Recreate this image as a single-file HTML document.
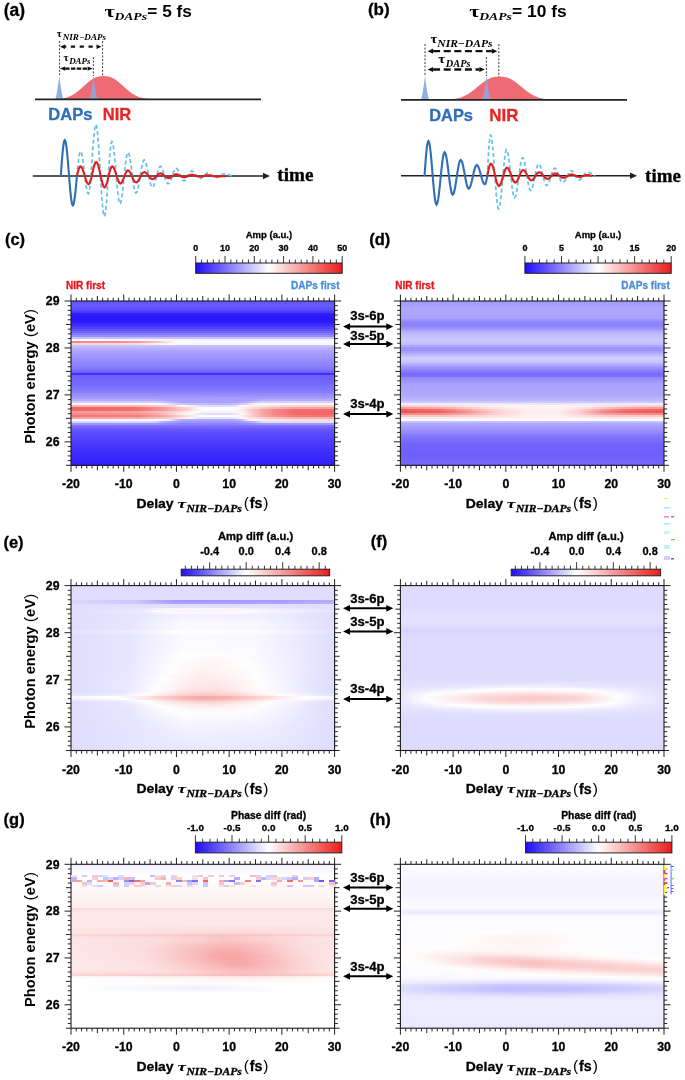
<!DOCTYPE html>
<html><head><meta charset="utf-8"><title>figure</title>
<style>html,body{margin:0;padding:0;background:#fff;}svg{display:block;filter:blur(0.5px);font-family:"Liberation Sans",sans-serif;}</style>
</head><body>
<svg width="685" height="1080" viewBox="0 0 685 1080" font-family="Liberation Sans" font-weight="bold"><defs><linearGradient id="g1"><stop offset="0%" stop-color="#fcfbff"/><stop offset="35%" stop-color="#f7f6ff"/><stop offset="52.5%" stop-color="#f3f2ff"/><stop offset="100%" stop-color="#f3f2ff"/></linearGradient><linearGradient id="g2"><stop offset="0%" stop-color="#f58888"/><stop offset="22.5%" stop-color="#f69494"/><stop offset="25%" stop-color="#f69999"/><stop offset="32.5%" stop-color="#fabebe"/><stop offset="35%" stop-color="#fbd0d0"/><stop offset="37.5%" stop-color="#fdeaea"/><stop offset="40%" stop-color="#fbfaff"/><stop offset="100%" stop-color="#fbfaff"/></linearGradient><linearGradient id="g3"><stop offset="0%" stop-color="#fcd7d7"/><stop offset="25%" stop-color="#fcdede"/><stop offset="35%" stop-color="#fef3f3"/><stop offset="37.5%" stop-color="#fffdfd"/><stop offset="40%" stop-color="#f7f7ff"/><stop offset="100%" stop-color="#f7f7ff"/></linearGradient><linearGradient id="g4"><stop offset="0%" stop-color="#b3acfd"/><stop offset="32.5%" stop-color="#b1aafd"/><stop offset="37.5%" stop-color="#a7a0fd"/><stop offset="65%" stop-color="#a69efd"/><stop offset="70%" stop-color="#aba3fd"/><stop offset="72.5%" stop-color="#b3adfd"/><stop offset="100%" stop-color="#b4adfd"/></linearGradient><linearGradient id="g5"><stop offset="0%" stop-color="#d0ccfe"/><stop offset="32.5%" stop-color="#cecafe"/><stop offset="42.5%" stop-color="#aaa2fd"/><stop offset="62.5%" stop-color="#a9a2fd"/><stop offset="65%" stop-color="#afa8fd"/><stop offset="72.5%" stop-color="#d2cefe"/><stop offset="100%" stop-color="#d4d0fe"/></linearGradient><linearGradient id="g6"><stop offset="0%" stop-color="#fef4f4"/><stop offset="30%" stop-color="#fef6f6"/><stop offset="32.5%" stop-color="#fffafa"/><stop offset="35%" stop-color="#f2f1ff"/><stop offset="40%" stop-color="#d3cffe"/><stop offset="45%" stop-color="#c0bbfe"/><stop offset="60%" stop-color="#bdb7fe"/><stop offset="62.5%" stop-color="#c0bafe"/><stop offset="67.5%" stop-color="#dfdcfe"/><stop offset="70%" stop-color="#f5f4ff"/><stop offset="72.5%" stop-color="#fef7f7"/><stop offset="97.5%" stop-color="#fef0f0"/><stop offset="100%" stop-color="#fef0f0"/></linearGradient><linearGradient id="g7"><stop offset="0%" stop-color="#f9b3b3"/><stop offset="25%" stop-color="#f9b9b9"/><stop offset="37.5%" stop-color="#fbd5d5"/><stop offset="40%" stop-color="#fde3e3"/><stop offset="42.5%" stop-color="#fffbfb"/><stop offset="50%" stop-color="#dfdcfe"/><stop offset="60%" stop-color="#dfdcfe"/><stop offset="62.5%" stop-color="#e4e1fe"/><stop offset="65%" stop-color="#fefeff"/><stop offset="67.5%" stop-color="#fef0f0"/><stop offset="80%" stop-color="#fcd8d8"/><stop offset="100%" stop-color="#fbd1d1"/></linearGradient><linearGradient id="g8"><stop offset="0%" stop-color="#f26565"/><stop offset="22.5%" stop-color="#f36c6c"/><stop offset="27.5%" stop-color="#f47a7a"/><stop offset="35%" stop-color="#f69999"/><stop offset="45%" stop-color="#fcd8d8"/><stop offset="50%" stop-color="#ffffff"/><stop offset="62.5%" stop-color="#fffcfc"/><stop offset="75%" stop-color="#f9bdbd"/><stop offset="85%" stop-color="#f7a5a5"/><stop offset="100%" stop-color="#f7a1a1"/></linearGradient><linearGradient id="g9"><stop offset="0%" stop-color="#f26565"/><stop offset="22.5%" stop-color="#f36c6c"/><stop offset="27.5%" stop-color="#f47a7a"/><stop offset="35%" stop-color="#f69999"/><stop offset="45%" stop-color="#fcd8d8"/><stop offset="50%" stop-color="#ffffff"/><stop offset="60%" stop-color="#ffffff"/><stop offset="62.5%" stop-color="#fffbfb"/><stop offset="72.5%" stop-color="#f8a8a8"/><stop offset="77.5%" stop-color="#f58787"/><stop offset="85%" stop-color="#f36e6e"/><stop offset="100%" stop-color="#f26767"/></linearGradient><linearGradient id="g10"><stop offset="0%" stop-color="#f69898"/><stop offset="25%" stop-color="#f7a0a0"/><stop offset="35%" stop-color="#fabebe"/><stop offset="47.5%" stop-color="#ffffff"/><stop offset="50%" stop-color="#f3f2ff"/><stop offset="60%" stop-color="#f3f2ff"/><stop offset="62.5%" stop-color="#f8f7ff"/><stop offset="65%" stop-color="#fdeded"/><stop offset="72.5%" stop-color="#f8a6a6"/><stop offset="77.5%" stop-color="#f58585"/><stop offset="85%" stop-color="#f36c6c"/><stop offset="100%" stop-color="#f26565"/></linearGradient><linearGradient id="g11"><stop offset="0%" stop-color="#f58a8a"/><stop offset="25%" stop-color="#f69393"/><stop offset="32.5%" stop-color="#f8aaaa"/><stop offset="42.5%" stop-color="#fef0f0"/><stop offset="45%" stop-color="#fdfdff"/><stop offset="50%" stop-color="#e0defe"/><stop offset="60%" stop-color="#e0defe"/><stop offset="62.5%" stop-color="#e6e4fe"/><stop offset="65%" stop-color="#fffafa"/><stop offset="72.5%" stop-color="#f8a6a6"/><stop offset="77.5%" stop-color="#f58585"/><stop offset="85%" stop-color="#f36c6c"/><stop offset="100%" stop-color="#f26565"/></linearGradient><linearGradient id="g12"><stop offset="0%" stop-color="#f37373"/><stop offset="25%" stop-color="#f47d7d"/><stop offset="35%" stop-color="#f7a3a3"/><stop offset="47.5%" stop-color="#feefef"/><stop offset="50%" stop-color="#fefeff"/><stop offset="62.5%" stop-color="#fffcfc"/><stop offset="72.5%" stop-color="#f8afaf"/><stop offset="77.5%" stop-color="#f69292"/><stop offset="85%" stop-color="#f47b7b"/><stop offset="100%" stop-color="#f37575"/></linearGradient><linearGradient id="g13"><stop offset="0%" stop-color="#f7a1a1"/><stop offset="25%" stop-color="#f8a8a8"/><stop offset="37.5%" stop-color="#fbcaca"/><stop offset="42.5%" stop-color="#fde9e9"/><stop offset="45%" stop-color="#fafaff"/><stop offset="50%" stop-color="#e3e1fe"/><stop offset="60%" stop-color="#e3e1fe"/><stop offset="62.5%" stop-color="#eeecff"/><stop offset="65%" stop-color="#fef7f7"/><stop offset="67.5%" stop-color="#fde5e5"/><stop offset="77.5%" stop-color="#fabfbf"/><stop offset="85%" stop-color="#f9b2b2"/><stop offset="100%" stop-color="#f8aeae"/></linearGradient><linearGradient id="g14"><stop offset="0%" stop-color="#fef7f7"/><stop offset="32.5%" stop-color="#fffafa"/><stop offset="35%" stop-color="#fbfbff"/><stop offset="37.5%" stop-color="#e9e7ff"/><stop offset="40%" stop-color="#c5c0fe"/><stop offset="42.5%" stop-color="#b2abfd"/><stop offset="50%" stop-color="#aca4fd"/><stop offset="62.5%" stop-color="#aea7fd"/><stop offset="65%" stop-color="#c3bdfe"/><stop offset="67.5%" stop-color="#f1f0ff"/><stop offset="70%" stop-color="#fef6f6"/><stop offset="72.5%" stop-color="#fdeaea"/><stop offset="85%" stop-color="#fcdcdc"/><stop offset="100%" stop-color="#fcdada"/></linearGradient><linearGradient id="g15"><stop offset="0%" stop-color="#d8d5fe"/><stop offset="30%" stop-color="#d8d5fe"/><stop offset="32.5%" stop-color="#d1cdfe"/><stop offset="35%" stop-color="#b2abfd"/><stop offset="42.5%" stop-color="#9e95fd"/><stop offset="62.5%" stop-color="#9c94fd"/><stop offset="67.5%" stop-color="#ada6fd"/><stop offset="70%" stop-color="#bcb6fe"/><stop offset="72.5%" stop-color="#dfdcfe"/><stop offset="100%" stop-color="#e5e2fe"/></linearGradient><linearGradient id="g16"><stop offset="0%" stop-color="#9e96fd"/><stop offset="32.5%" stop-color="#9d94fd"/><stop offset="42.5%" stop-color="#8c82fc"/><stop offset="62.5%" stop-color="#8b81fc"/><stop offset="70%" stop-color="#9990fd"/><stop offset="72.5%" stop-color="#a098fd"/><stop offset="100%" stop-color="#a29afd"/></linearGradient><linearGradient id="g17"><stop offset="0%" stop-color="#f1efff"/><stop offset="57.5%" stop-color="#e8e6fe"/><stop offset="100%" stop-color="#f1efff"/></linearGradient><linearGradient id="g18"><stop offset="0%" stop-color="#fbd1d1"/><stop offset="17.5%" stop-color="#fcdddd"/><stop offset="37.5%" stop-color="#fef2f2"/><stop offset="65%" stop-color="#fef3f3"/><stop offset="92.5%" stop-color="#fbd5d5"/><stop offset="100%" stop-color="#fbd1d1"/></linearGradient><linearGradient id="g19"><stop offset="0%" stop-color="#f69797"/><stop offset="15%" stop-color="#f8a8a8"/><stop offset="32.5%" stop-color="#fcdfdf"/><stop offset="42.5%" stop-color="#feefef"/><stop offset="60%" stop-color="#fef3f3"/><stop offset="70%" stop-color="#fce0e0"/><stop offset="82.5%" stop-color="#f9b2b2"/><stop offset="90%" stop-color="#f7a2a2"/><stop offset="100%" stop-color="#f69797"/></linearGradient><linearGradient id="g20"><stop offset="0%" stop-color="#f15b5b"/><stop offset="15%" stop-color="#f36f6f"/><stop offset="32.5%" stop-color="#fac7c7"/><stop offset="40%" stop-color="#fde2e2"/><stop offset="50%" stop-color="#fef0f0"/><stop offset="60%" stop-color="#fef0f0"/><stop offset="67.5%" stop-color="#fcd8d8"/><stop offset="77.5%" stop-color="#f69696"/><stop offset="85%" stop-color="#f37373"/><stop offset="100%" stop-color="#f15b5b"/></linearGradient><linearGradient id="g21"><stop offset="0%" stop-color="#f15454"/><stop offset="15%" stop-color="#f26060"/><stop offset="20%" stop-color="#f47676"/><stop offset="37.5%" stop-color="#fbd2d2"/><stop offset="47.5%" stop-color="#fdeded"/><stop offset="60%" stop-color="#feeeee"/><stop offset="67.5%" stop-color="#fbcece"/><stop offset="77.5%" stop-color="#f58585"/><stop offset="85%" stop-color="#f26565"/><stop offset="100%" stop-color="#f15454"/></linearGradient><linearGradient id="g22"><stop offset="0%" stop-color="#f58a8a"/><stop offset="15%" stop-color="#f58c8c"/><stop offset="25%" stop-color="#f8a8a8"/><stop offset="40%" stop-color="#fcdddd"/><stop offset="47.5%" stop-color="#feeded"/><stop offset="60%" stop-color="#feeeee"/><stop offset="67.5%" stop-color="#fbd5d5"/><stop offset="77.5%" stop-color="#f7a1a1"/><stop offset="87.5%" stop-color="#f68e8e"/><stop offset="100%" stop-color="#f58a8a"/></linearGradient><linearGradient id="g23"><stop offset="0%" stop-color="#fac8c8"/><stop offset="17.5%" stop-color="#fac7c7"/><stop offset="50%" stop-color="#fef1f1"/><stop offset="60%" stop-color="#fef2f2"/><stop offset="80%" stop-color="#fbcbcb"/><stop offset="100%" stop-color="#fac8c8"/></linearGradient><linearGradient id="g24"><stop offset="0%" stop-color="#fdeaea"/><stop offset="32.5%" stop-color="#fdeded"/><stop offset="57.5%" stop-color="#fef4f4"/><stop offset="85%" stop-color="#fde9e9"/><stop offset="100%" stop-color="#fdeaea"/></linearGradient><linearGradient id="g25"><stop offset="0%" stop-color="#d9d6fe"/><stop offset="25%" stop-color="#cac5fe"/><stop offset="37.5%" stop-color="#a69efd"/><stop offset="42.5%" stop-color="#a198fd"/><stop offset="77.5%" stop-color="#a49cfd"/><stop offset="100%" stop-color="#b4adfd"/></linearGradient><linearGradient id="g26"><stop offset="0%" stop-color="#dad7fe"/><stop offset="25%" stop-color="#cdc8fe"/><stop offset="40%" stop-color="#a9a1fd"/><stop offset="77.5%" stop-color="#aca5fd"/><stop offset="100%" stop-color="#b9b3fd"/></linearGradient><linearGradient id="g27"><stop offset="0%" stop-color="#e0ddfe"/><stop offset="65%" stop-color="#e5e3fe"/><stop offset="100%" stop-color="#e0defe"/></linearGradient><linearGradient id="g28"><stop offset="0%" stop-color="#e0ddfe"/><stop offset="27.5%" stop-color="#e8e6fe"/><stop offset="37.5%" stop-color="#f8f7ff"/><stop offset="62.5%" stop-color="#f6f5ff"/><stop offset="77.5%" stop-color="#ebe9ff"/><stop offset="100%" stop-color="#e4e2fe"/></linearGradient><linearGradient id="g29"><stop offset="0%" stop-color="#e0ddfe"/><stop offset="27.5%" stop-color="#edecff"/><stop offset="32.5%" stop-color="#fdfdff"/><stop offset="40%" stop-color="#fef3f3"/><stop offset="60%" stop-color="#fef3f3"/><stop offset="67.5%" stop-color="#fefeff"/><stop offset="75%" stop-color="#f4f3ff"/><stop offset="100%" stop-color="#e8e6fe"/></linearGradient><linearGradient id="g30"><stop offset="0%" stop-color="#e0ddfe"/><stop offset="27.5%" stop-color="#ebe9ff"/><stop offset="37.5%" stop-color="#fafaff"/><stop offset="62.5%" stop-color="#faf9ff"/><stop offset="97.5%" stop-color="#e4e2fe"/><stop offset="100%" stop-color="#e3e1fe"/></linearGradient><linearGradient id="g31"><stop offset="0%" stop-color="#e0ddfe"/><stop offset="25%" stop-color="#e7e5fe"/><stop offset="42.5%" stop-color="#f2f1ff"/><stop offset="72.5%" stop-color="#efedff"/><stop offset="100%" stop-color="#e0ddfe"/></linearGradient><linearGradient id="g32"><stop offset="0%" stop-color="#e0ddfe"/><stop offset="25%" stop-color="#e8e6fe"/><stop offset="42.5%" stop-color="#f3f2ff"/><stop offset="72.5%" stop-color="#f0efff"/><stop offset="100%" stop-color="#e0ddfe"/></linearGradient><linearGradient id="g33"><stop offset="0%" stop-color="#e0ddfe"/><stop offset="22.5%" stop-color="#e6e4fe"/><stop offset="42.5%" stop-color="#f5f5ff"/><stop offset="72.5%" stop-color="#f2f1ff"/><stop offset="100%" stop-color="#e0ddfe"/></linearGradient><linearGradient id="g34"><stop offset="0%" stop-color="#e0ddfe"/><stop offset="22.5%" stop-color="#e7e5fe"/><stop offset="42.5%" stop-color="#f8f7ff"/><stop offset="70%" stop-color="#f6f5ff"/><stop offset="100%" stop-color="#e0ddfe"/></linearGradient><linearGradient id="g35"><stop offset="0%" stop-color="#e0ddfe"/><stop offset="22.5%" stop-color="#e8e6fe"/><stop offset="42.5%" stop-color="#fafaff"/><stop offset="70%" stop-color="#f8f8ff"/><stop offset="100%" stop-color="#e0ddfe"/></linearGradient><linearGradient id="g36"><stop offset="0%" stop-color="#e0ddfe"/><stop offset="22.5%" stop-color="#e8e6fe"/><stop offset="42.5%" stop-color="#fbfaff"/><stop offset="70%" stop-color="#f9f8ff"/><stop offset="100%" stop-color="#e0ddfe"/></linearGradient><linearGradient id="g37"><stop offset="0%" stop-color="#e0ddfe"/><stop offset="22.5%" stop-color="#e8e6fe"/><stop offset="42.5%" stop-color="#fbfaff"/><stop offset="70%" stop-color="#f9f8ff"/><stop offset="100%" stop-color="#e0ddfe"/></linearGradient><linearGradient id="g38"><stop offset="0%" stop-color="#e0ddfe"/><stop offset="22.5%" stop-color="#e8e6fe"/><stop offset="42.5%" stop-color="#fbfaff"/><stop offset="70%" stop-color="#f9f8ff"/><stop offset="100%" stop-color="#e0ddfe"/></linearGradient><linearGradient id="g39"><stop offset="0%" stop-color="#e6e3fe"/><stop offset="22.5%" stop-color="#eeecff"/><stop offset="40%" stop-color="#fffefe"/><stop offset="72.5%" stop-color="#fcfcff"/><stop offset="100%" stop-color="#e6e3fe"/></linearGradient><linearGradient id="g40"><stop offset="0%" stop-color="#e5e2fe"/><stop offset="22.5%" stop-color="#edebff"/><stop offset="40%" stop-color="#fffefe"/><stop offset="72.5%" stop-color="#fbfbff"/><stop offset="100%" stop-color="#e5e2fe"/></linearGradient><linearGradient id="g41"><stop offset="0%" stop-color="#e0ddfe"/><stop offset="22.5%" stop-color="#e8e6fe"/><stop offset="42.5%" stop-color="#fbfaff"/><stop offset="70%" stop-color="#f9f8ff"/><stop offset="100%" stop-color="#e0ddfe"/></linearGradient><linearGradient id="g42"><stop offset="0%" stop-color="#e0ddfe"/><stop offset="22.5%" stop-color="#e8e6fe"/><stop offset="42.5%" stop-color="#fbfaff"/><stop offset="70%" stop-color="#f9f8ff"/><stop offset="100%" stop-color="#e0ddfe"/></linearGradient><linearGradient id="g43"><stop offset="0%" stop-color="#e0ddfe"/><stop offset="22.5%" stop-color="#e8e6fe"/><stop offset="42.5%" stop-color="#fbfaff"/><stop offset="70%" stop-color="#f9f8ff"/><stop offset="100%" stop-color="#e0ddfe"/></linearGradient><linearGradient id="g44"><stop offset="0%" stop-color="#e0ddfe"/><stop offset="22.5%" stop-color="#e8e6fe"/><stop offset="42.5%" stop-color="#fbfbff"/><stop offset="70%" stop-color="#f9f8ff"/><stop offset="100%" stop-color="#e0ddfe"/></linearGradient><linearGradient id="g45"><stop offset="0%" stop-color="#e0ddfe"/><stop offset="22.5%" stop-color="#e8e6fe"/><stop offset="42.5%" stop-color="#fbfbff"/><stop offset="70%" stop-color="#f9f8ff"/><stop offset="100%" stop-color="#e0ddfe"/></linearGradient><linearGradient id="g46"><stop offset="0%" stop-color="#e0ddfe"/><stop offset="22.5%" stop-color="#e8e6fe"/><stop offset="42.5%" stop-color="#fbfbff"/><stop offset="70%" stop-color="#f9f8ff"/><stop offset="100%" stop-color="#e0ddfe"/></linearGradient><linearGradient id="g47"><stop offset="0%" stop-color="#e0ddfe"/><stop offset="22.5%" stop-color="#e8e6fe"/><stop offset="42.5%" stop-color="#fcfcff"/><stop offset="70%" stop-color="#f9f8ff"/><stop offset="100%" stop-color="#e0ddfe"/></linearGradient><linearGradient id="g48"><stop offset="0%" stop-color="#e0ddfe"/><stop offset="22.5%" stop-color="#e8e6fe"/><stop offset="42.5%" stop-color="#fcfcff"/><stop offset="67.5%" stop-color="#fbfbff"/><stop offset="100%" stop-color="#e0ddfe"/></linearGradient><linearGradient id="g49"><stop offset="0%" stop-color="#e0ddfe"/><stop offset="22.5%" stop-color="#e8e6fe"/><stop offset="42.5%" stop-color="#fdfdff"/><stop offset="67.5%" stop-color="#fbfbff"/><stop offset="100%" stop-color="#e0ddfe"/></linearGradient><linearGradient id="g50"><stop offset="0%" stop-color="#e0ddfe"/><stop offset="22.5%" stop-color="#e8e6fe"/><stop offset="42.5%" stop-color="#fefeff"/><stop offset="67.5%" stop-color="#fcfcff"/><stop offset="100%" stop-color="#e0ddfe"/></linearGradient><linearGradient id="g51"><stop offset="0%" stop-color="#e0ddfe"/><stop offset="22.5%" stop-color="#e8e6fe"/><stop offset="42.5%" stop-color="#ffffff"/><stop offset="57.5%" stop-color="#fffdfd"/><stop offset="70%" stop-color="#faf9ff"/><stop offset="100%" stop-color="#e0ddfe"/></linearGradient><linearGradient id="g52"><stop offset="0%" stop-color="#e0ddfe"/><stop offset="22.5%" stop-color="#e8e6fe"/><stop offset="40%" stop-color="#fefeff"/><stop offset="55%" stop-color="#fffafa"/><stop offset="65%" stop-color="#fefeff"/><stop offset="100%" stop-color="#e0ddfe"/></linearGradient><linearGradient id="g53"><stop offset="0%" stop-color="#e0ddfe"/><stop offset="22.5%" stop-color="#e8e6fe"/><stop offset="40%" stop-color="#ffffff"/><stop offset="55%" stop-color="#fef8f8"/><stop offset="67.5%" stop-color="#fdfdff"/><stop offset="100%" stop-color="#e0ddfe"/></linearGradient><linearGradient id="g54"><stop offset="0%" stop-color="#e0ddfe"/><stop offset="22.5%" stop-color="#e8e6fe"/><stop offset="40%" stop-color="#fffefe"/><stop offset="55%" stop-color="#fef6f6"/><stop offset="67.5%" stop-color="#fefdff"/><stop offset="100%" stop-color="#e0ddfe"/></linearGradient><linearGradient id="g55"><stop offset="0%" stop-color="#e0ddfe"/><stop offset="22.5%" stop-color="#e8e6fe"/><stop offset="40%" stop-color="#fffdfd"/><stop offset="52.5%" stop-color="#fef4f4"/><stop offset="67.5%" stop-color="#fefeff"/><stop offset="100%" stop-color="#e0ddfe"/></linearGradient><linearGradient id="g56"><stop offset="0%" stop-color="#e0ddfe"/><stop offset="22.5%" stop-color="#e8e6fe"/><stop offset="37.5%" stop-color="#fdfdff"/><stop offset="52.5%" stop-color="#fef3f3"/><stop offset="67.5%" stop-color="#ffffff"/><stop offset="100%" stop-color="#e0ddfe"/></linearGradient><linearGradient id="g57"><stop offset="0%" stop-color="#e0ddfe"/><stop offset="22.5%" stop-color="#e8e6fe"/><stop offset="37.5%" stop-color="#fefeff"/><stop offset="52.5%" stop-color="#fef1f1"/><stop offset="67.5%" stop-color="#ffffff"/><stop offset="100%" stop-color="#e0ddfe"/></linearGradient><linearGradient id="g58"><stop offset="0%" stop-color="#e0ddfe"/><stop offset="22.5%" stop-color="#e8e6fe"/><stop offset="37.5%" stop-color="#fefeff"/><stop offset="52.5%" stop-color="#fef0f0"/><stop offset="67.5%" stop-color="#fffefe"/><stop offset="100%" stop-color="#e0ddfe"/></linearGradient><linearGradient id="g59"><stop offset="0%" stop-color="#e0ddfe"/><stop offset="22.5%" stop-color="#e9e7fe"/><stop offset="37.5%" stop-color="#ffffff"/><stop offset="50%" stop-color="#fef0f0"/><stop offset="62.5%" stop-color="#fef8f8"/><stop offset="70%" stop-color="#fdfdff"/><stop offset="100%" stop-color="#e0ddfe"/></linearGradient><linearGradient id="g60"><stop offset="0%" stop-color="#e0ddfe"/><stop offset="22.5%" stop-color="#e9e7ff"/><stop offset="37.5%" stop-color="#fffefe"/><stop offset="50%" stop-color="#feefef"/><stop offset="62.5%" stop-color="#fef7f7"/><stop offset="70%" stop-color="#fefeff"/><stop offset="97.5%" stop-color="#e1dffe"/><stop offset="100%" stop-color="#e0ddfe"/></linearGradient><linearGradient id="g61"><stop offset="0%" stop-color="#e0ddfe"/><stop offset="22.5%" stop-color="#e9e7ff"/><stop offset="35%" stop-color="#fdfcff"/><stop offset="42.5%" stop-color="#fef5f5"/><stop offset="52.5%" stop-color="#feeded"/><stop offset="70%" stop-color="#fefeff"/><stop offset="95%" stop-color="#e3e1fe"/><stop offset="100%" stop-color="#e0ddfe"/></linearGradient><linearGradient id="g62"><stop offset="0%" stop-color="#e0ddfe"/><stop offset="22.5%" stop-color="#e9e7ff"/><stop offset="35%" stop-color="#fefdff"/><stop offset="50%" stop-color="#fdeded"/><stop offset="62.5%" stop-color="#fef5f5"/><stop offset="70%" stop-color="#ffffff"/><stop offset="95%" stop-color="#e3e1fe"/><stop offset="100%" stop-color="#e0ddfe"/></linearGradient><linearGradient id="g63"><stop offset="0%" stop-color="#e0ddfe"/><stop offset="22.5%" stop-color="#e9e7ff"/><stop offset="35%" stop-color="#ffffff"/><stop offset="47.5%" stop-color="#fdecec"/><stop offset="57.5%" stop-color="#feeded"/><stop offset="70%" stop-color="#fffefe"/><stop offset="97.5%" stop-color="#e1dffe"/><stop offset="100%" stop-color="#e0ddfe"/></linearGradient><linearGradient id="g64"><stop offset="0%" stop-color="#e0ddfe"/><stop offset="22.5%" stop-color="#eae8ff"/><stop offset="35%" stop-color="#fffefe"/><stop offset="47.5%" stop-color="#fdeaea"/><stop offset="57.5%" stop-color="#fdebeb"/><stop offset="72.5%" stop-color="#fdfdff"/><stop offset="95%" stop-color="#e3e1fe"/><stop offset="100%" stop-color="#e0ddfe"/></linearGradient><linearGradient id="g65"><stop offset="0%" stop-color="#e0ddfe"/><stop offset="22.5%" stop-color="#eae8ff"/><stop offset="35%" stop-color="#fffdfd"/><stop offset="45%" stop-color="#fdebeb"/><stop offset="55%" stop-color="#fde7e7"/><stop offset="72.5%" stop-color="#fefeff"/><stop offset="92.5%" stop-color="#e5e3fe"/><stop offset="100%" stop-color="#e0ddfe"/></linearGradient><linearGradient id="g66"><stop offset="0%" stop-color="#e0ddfe"/><stop offset="22.5%" stop-color="#eae8ff"/><stop offset="32.5%" stop-color="#fdfcff"/><stop offset="37.5%" stop-color="#fef6f6"/><stop offset="50%" stop-color="#fde5e5"/><stop offset="60%" stop-color="#fdeaea"/><stop offset="72.5%" stop-color="#fffeff"/><stop offset="92.5%" stop-color="#e5e3fe"/><stop offset="100%" stop-color="#e0ddfe"/></linearGradient><linearGradient id="g67"><stop offset="0%" stop-color="#e0ddfe"/><stop offset="22.5%" stop-color="#eae8ff"/><stop offset="32.5%" stop-color="#fdfdff"/><stop offset="45%" stop-color="#fde7e7"/><stop offset="55%" stop-color="#fde3e3"/><stop offset="72.5%" stop-color="#ffffff"/><stop offset="92.5%" stop-color="#e5e3fe"/><stop offset="100%" stop-color="#e0ddfe"/></linearGradient><linearGradient id="g68"><stop offset="0%" stop-color="#e0ddfe"/><stop offset="22.5%" stop-color="#ebe9ff"/><stop offset="32.5%" stop-color="#ffffff"/><stop offset="45%" stop-color="#fde4e4"/><stop offset="55%" stop-color="#fce0e0"/><stop offset="70%" stop-color="#fef8f8"/><stop offset="72.5%" stop-color="#fffdfd"/><stop offset="95%" stop-color="#e3e1fe"/><stop offset="100%" stop-color="#e0ddfe"/></linearGradient><linearGradient id="g69"><stop offset="0%" stop-color="#e0ddfe"/><stop offset="20%" stop-color="#e7e5fe"/><stop offset="32.5%" stop-color="#fffdfd"/><stop offset="45%" stop-color="#fce0e0"/><stop offset="55%" stop-color="#fcdcdc"/><stop offset="70%" stop-color="#fef6f6"/><stop offset="75%" stop-color="#fdfdff"/><stop offset="92.5%" stop-color="#e5e3fe"/><stop offset="100%" stop-color="#e0ddfe"/></linearGradient><linearGradient id="g70"><stop offset="0%" stop-color="#e0defe"/><stop offset="20%" stop-color="#e9e7ff"/><stop offset="30%" stop-color="#fefeff"/><stop offset="45%" stop-color="#fcdada"/><stop offset="52.5%" stop-color="#fbd4d4"/><stop offset="62.5%" stop-color="#fce0e0"/><stop offset="75%" stop-color="#fffefe"/><stop offset="95%" stop-color="#e4e2fe"/><stop offset="100%" stop-color="#e1defe"/></linearGradient><linearGradient id="g71"><stop offset="0%" stop-color="#e7e5fe"/><stop offset="20%" stop-color="#f1f0ff"/><stop offset="25%" stop-color="#fcfbff"/><stop offset="27.5%" stop-color="#fffcfc"/><stop offset="42.5%" stop-color="#fbd0d0"/><stop offset="52.5%" stop-color="#fac4c4"/><stop offset="62.5%" stop-color="#fbd2d2"/><stop offset="80%" stop-color="#ffffff"/><stop offset="97.5%" stop-color="#e9e7ff"/><stop offset="100%" stop-color="#e7e5fe"/></linearGradient><linearGradient id="g72"><stop offset="0%" stop-color="#f6f5ff"/><stop offset="17.5%" stop-color="#fffdfd"/><stop offset="27.5%" stop-color="#fde7e7"/><stop offset="42.5%" stop-color="#f9b5b5"/><stop offset="50%" stop-color="#f8a8a8"/><stop offset="57.5%" stop-color="#f8adad"/><stop offset="70%" stop-color="#fbcece"/><stop offset="82.5%" stop-color="#fef1f1"/><stop offset="90%" stop-color="#fffdfd"/><stop offset="100%" stop-color="#f6f6ff"/></linearGradient><linearGradient id="g73"><stop offset="0%" stop-color="#f0efff"/><stop offset="20%" stop-color="#ffffff"/><stop offset="32.5%" stop-color="#fcdada"/><stop offset="42.5%" stop-color="#f9b8b8"/><stop offset="50%" stop-color="#f8abab"/><stop offset="57.5%" stop-color="#f8b0b0"/><stop offset="70%" stop-color="#fbd2d2"/><stop offset="82.5%" stop-color="#fef6f6"/><stop offset="87.5%" stop-color="#ffffff"/><stop offset="100%" stop-color="#f0efff"/></linearGradient><linearGradient id="g74"><stop offset="0%" stop-color="#e3e0fe"/><stop offset="20%" stop-color="#eeedff"/><stop offset="27.5%" stop-color="#ffffff"/><stop offset="42.5%" stop-color="#fbd2d2"/><stop offset="52.5%" stop-color="#fac7c7"/><stop offset="62.5%" stop-color="#fbd5d5"/><stop offset="77.5%" stop-color="#fffcfc"/><stop offset="82.5%" stop-color="#f8f7ff"/><stop offset="100%" stop-color="#e3e1fe"/></linearGradient><linearGradient id="g75"><stop offset="0%" stop-color="#e0ddfe"/><stop offset="20%" stop-color="#e9e7ff"/><stop offset="30%" stop-color="#fdfdff"/><stop offset="37.5%" stop-color="#fdeded"/><stop offset="47.5%" stop-color="#fcdbdb"/><stop offset="57.5%" stop-color="#fcdcdc"/><stop offset="72.5%" stop-color="#fef9f9"/><stop offset="75%" stop-color="#fffefe"/><stop offset="95%" stop-color="#e4e1fe"/><stop offset="100%" stop-color="#e0ddfe"/></linearGradient><linearGradient id="g76"><stop offset="0%" stop-color="#e0ddfe"/><stop offset="22.5%" stop-color="#ebe9ff"/><stop offset="32.5%" stop-color="#fefeff"/><stop offset="45%" stop-color="#fde8e8"/><stop offset="55%" stop-color="#fde5e5"/><stop offset="70%" stop-color="#fef9f9"/><stop offset="72.5%" stop-color="#fffefe"/><stop offset="95%" stop-color="#e3e1fe"/><stop offset="100%" stop-color="#e0ddfe"/></linearGradient><linearGradient id="g77"><stop offset="0%" stop-color="#e0ddfe"/><stop offset="22.5%" stop-color="#eae8ff"/><stop offset="35%" stop-color="#ffffff"/><stop offset="45%" stop-color="#feefef"/><stop offset="57.5%" stop-color="#feeeee"/><stop offset="72.5%" stop-color="#fdfcff"/><stop offset="95%" stop-color="#e3e1fe"/><stop offset="100%" stop-color="#e0ddfe"/></linearGradient><linearGradient id="g78"><stop offset="0%" stop-color="#e0ddfe"/><stop offset="22.5%" stop-color="#e9e7ff"/><stop offset="37.5%" stop-color="#fffdfd"/><stop offset="52.5%" stop-color="#fef2f2"/><stop offset="70%" stop-color="#fefeff"/><stop offset="92.5%" stop-color="#e5e2fe"/><stop offset="100%" stop-color="#e0ddfe"/></linearGradient><linearGradient id="g79"><stop offset="0%" stop-color="#e0ddfe"/><stop offset="22.5%" stop-color="#e8e6fe"/><stop offset="37.5%" stop-color="#fefeff"/><stop offset="55%" stop-color="#fef7f7"/><stop offset="67.5%" stop-color="#ffffff"/><stop offset="95%" stop-color="#e3e0fe"/><stop offset="100%" stop-color="#e0ddfe"/></linearGradient><linearGradient id="g80"><stop offset="0%" stop-color="#e0ddfe"/><stop offset="22.5%" stop-color="#e8e6fe"/><stop offset="40%" stop-color="#ffffff"/><stop offset="57.5%" stop-color="#fffbfb"/><stop offset="67.5%" stop-color="#fdfdff"/><stop offset="97.5%" stop-color="#e1dffe"/><stop offset="100%" stop-color="#e0ddfe"/></linearGradient><linearGradient id="g81"><stop offset="0%" stop-color="#e0ddfe"/><stop offset="22.5%" stop-color="#e7e5fe"/><stop offset="42.5%" stop-color="#fefeff"/><stop offset="67.5%" stop-color="#fbfbff"/><stop offset="100%" stop-color="#e0ddfe"/></linearGradient><linearGradient id="g82"><stop offset="0%" stop-color="#e0ddfe"/><stop offset="22.5%" stop-color="#e7e5fe"/><stop offset="42.5%" stop-color="#fcfbff"/><stop offset="67.5%" stop-color="#f9f9ff"/><stop offset="100%" stop-color="#e0ddfe"/></linearGradient><linearGradient id="g83"><stop offset="0%" stop-color="#e0ddfe"/><stop offset="22.5%" stop-color="#e7e5fe"/><stop offset="42.5%" stop-color="#faf9ff"/><stop offset="67.5%" stop-color="#f8f7ff"/><stop offset="100%" stop-color="#e0ddfe"/></linearGradient><linearGradient id="g84"><stop offset="0%" stop-color="#e0ddfe"/><stop offset="22.5%" stop-color="#e6e4fe"/><stop offset="42.5%" stop-color="#f8f7ff"/><stop offset="70%" stop-color="#f5f4ff"/><stop offset="100%" stop-color="#e0ddfe"/></linearGradient><linearGradient id="g85"><stop offset="0%" stop-color="#e0ddfe"/><stop offset="22.5%" stop-color="#e6e4fe"/><stop offset="42.5%" stop-color="#f6f5ff"/><stop offset="70%" stop-color="#f4f3ff"/><stop offset="100%" stop-color="#e0ddfe"/></linearGradient><linearGradient id="g86"><stop offset="0%" stop-color="#e0ddfe"/><stop offset="25%" stop-color="#e8e6fe"/><stop offset="42.5%" stop-color="#f5f4ff"/><stop offset="72.5%" stop-color="#f1efff"/><stop offset="100%" stop-color="#e0ddfe"/></linearGradient><linearGradient id="g87"><stop offset="0%" stop-color="#e0ddfe"/><stop offset="25%" stop-color="#e8e6fe"/><stop offset="45%" stop-color="#f4f3ff"/><stop offset="72.5%" stop-color="#f0efff"/><stop offset="100%" stop-color="#e0ddfe"/></linearGradient><linearGradient id="g88"><stop offset="0%" stop-color="#e0ddfe"/><stop offset="25%" stop-color="#e7e5fe"/><stop offset="45%" stop-color="#f3f1ff"/><stop offset="72.5%" stop-color="#efeeff"/><stop offset="100%" stop-color="#e0ddfe"/></linearGradient><linearGradient id="g89"><stop offset="0%" stop-color="#e0ddfe"/><stop offset="25%" stop-color="#e7e5fe"/><stop offset="45%" stop-color="#f2f0ff"/><stop offset="72.5%" stop-color="#efedff"/><stop offset="100%" stop-color="#e0ddfe"/></linearGradient><linearGradient id="g90"><stop offset="0%" stop-color="#e0ddfe"/><stop offset="25%" stop-color="#e7e4fe"/><stop offset="45%" stop-color="#f1efff"/><stop offset="72.5%" stop-color="#eeecff"/><stop offset="100%" stop-color="#e0ddfe"/></linearGradient><linearGradient id="g91"><stop offset="0%" stop-color="#e0ddfe"/><stop offset="25%" stop-color="#e6e4fe"/><stop offset="45%" stop-color="#f0efff"/><stop offset="72.5%" stop-color="#edecff"/><stop offset="100%" stop-color="#e0ddfe"/></linearGradient><linearGradient id="g92"><stop offset="0%" stop-color="#e0ddfe"/><stop offset="27.5%" stop-color="#e8e6fe"/><stop offset="47.5%" stop-color="#efeeff"/><stop offset="75%" stop-color="#ebeaff"/><stop offset="100%" stop-color="#e0ddfe"/></linearGradient><linearGradient id="g93"><stop offset="0%" stop-color="#e0ddfe"/><stop offset="27.5%" stop-color="#e7e5fe"/><stop offset="47.5%" stop-color="#eeedff"/><stop offset="75%" stop-color="#ebe9ff"/><stop offset="100%" stop-color="#e0ddfe"/></linearGradient><linearGradient id="g94"><stop offset="0%" stop-color="#e0ddfe"/><stop offset="27.5%" stop-color="#e7e5fe"/><stop offset="47.5%" stop-color="#eeecff"/><stop offset="75%" stop-color="#eae9ff"/><stop offset="100%" stop-color="#e0ddfe"/></linearGradient><linearGradient id="g95"><stop offset="0%" stop-color="#e0ddfe"/><stop offset="27.5%" stop-color="#e7e4fe"/><stop offset="47.5%" stop-color="#edebff"/><stop offset="75%" stop-color="#eae8ff"/><stop offset="100%" stop-color="#e0ddfe"/></linearGradient><linearGradient id="g96"><stop offset="0%" stop-color="#e0ddfe"/><stop offset="30%" stop-color="#e8e5fe"/><stop offset="52.5%" stop-color="#ecebff"/><stop offset="80%" stop-color="#e7e5fe"/><stop offset="100%" stop-color="#e0ddfe"/></linearGradient><linearGradient id="g97"><stop offset="0%" stop-color="#e0ddfe"/><stop offset="30%" stop-color="#e7e5fe"/><stop offset="55%" stop-color="#eceaff"/><stop offset="82.5%" stop-color="#e6e4fe"/><stop offset="100%" stop-color="#e0ddfe"/></linearGradient><linearGradient id="g98"><stop offset="0%" stop-color="#e0ddfe"/><stop offset="30%" stop-color="#e7e5fe"/><stop offset="60%" stop-color="#ebe9ff"/><stop offset="100%" stop-color="#e0ddfe"/></linearGradient><linearGradient id="g99"><stop offset="0%" stop-color="#e0defe"/><stop offset="62.5%" stop-color="#e6e4fe"/><stop offset="100%" stop-color="#e0ddfe"/></linearGradient><linearGradient id="g100"><stop offset="0%" stop-color="#e1dffe"/><stop offset="52.5%" stop-color="#eceaff"/><stop offset="100%" stop-color="#e1defe"/></linearGradient><linearGradient id="g101"><stop offset="0%" stop-color="#e3e0fe"/><stop offset="45%" stop-color="#f3f2ff"/><stop offset="77.5%" stop-color="#ebe9ff"/><stop offset="100%" stop-color="#e2dffe"/></linearGradient><linearGradient id="g102"><stop offset="0%" stop-color="#e4e1fe"/><stop offset="40%" stop-color="#fcfcff"/><stop offset="67.5%" stop-color="#f9f8ff"/><stop offset="95%" stop-color="#e5e2fe"/><stop offset="100%" stop-color="#e3e0fe"/></linearGradient><linearGradient id="g103"><stop offset="0%" stop-color="#e5e3fe"/><stop offset="25%" stop-color="#fffefe"/><stop offset="50%" stop-color="#fef2f2"/><stop offset="70%" stop-color="#fffcfc"/><stop offset="72.5%" stop-color="#ffffff"/><stop offset="92.5%" stop-color="#e8e6fe"/><stop offset="100%" stop-color="#e4e1fe"/></linearGradient><linearGradient id="g104"><stop offset="0%" stop-color="#e6e4fe"/><stop offset="15%" stop-color="#fefeff"/><stop offset="37.5%" stop-color="#fde8e8"/><stop offset="52.5%" stop-color="#fde3e3"/><stop offset="70%" stop-color="#feefef"/><stop offset="77.5%" stop-color="#fffdfd"/><stop offset="92.5%" stop-color="#eae8ff"/><stop offset="100%" stop-color="#e5e2fe"/></linearGradient><linearGradient id="g105"><stop offset="0%" stop-color="#e7e5fe"/><stop offset="12.5%" stop-color="#fffefe"/><stop offset="32.5%" stop-color="#fcdede"/><stop offset="50%" stop-color="#fbd4d4"/><stop offset="67.5%" stop-color="#fcdede"/><stop offset="80%" stop-color="#fffcfc"/><stop offset="82.5%" stop-color="#fcfcff"/><stop offset="90%" stop-color="#eeecff"/><stop offset="100%" stop-color="#e5e3fe"/></linearGradient><linearGradient id="g106"><stop offset="0%" stop-color="#e7e5fe"/><stop offset="10%" stop-color="#fdfdff"/><stop offset="32.5%" stop-color="#fcd6d6"/><stop offset="50%" stop-color="#fbcaca"/><stop offset="67.5%" stop-color="#fcd6d6"/><stop offset="82.5%" stop-color="#fffefe"/><stop offset="90%" stop-color="#efedff"/><stop offset="100%" stop-color="#e6e3fe"/></linearGradient><linearGradient id="g107"><stop offset="0%" stop-color="#e7e5fe"/><stop offset="10%" stop-color="#fefeff"/><stop offset="30%" stop-color="#fcd7d7"/><stop offset="50%" stop-color="#fac8c8"/><stop offset="67.5%" stop-color="#fbd4d4"/><stop offset="82.5%" stop-color="#fffdfd"/><stop offset="90%" stop-color="#efeeff"/><stop offset="100%" stop-color="#e6e4fe"/></linearGradient><linearGradient id="g108"><stop offset="0%" stop-color="#e7e5fe"/><stop offset="10%" stop-color="#fcfbff"/><stop offset="12.5%" stop-color="#fffcfc"/><stop offset="32.5%" stop-color="#fcdada"/><stop offset="50%" stop-color="#fbcece"/><stop offset="67.5%" stop-color="#fcdada"/><stop offset="82.5%" stop-color="#fefeff"/><stop offset="90%" stop-color="#eeedff"/><stop offset="100%" stop-color="#e6e3fe"/></linearGradient><linearGradient id="g109"><stop offset="0%" stop-color="#e6e4fe"/><stop offset="12.5%" stop-color="#fdfcff"/><stop offset="22.5%" stop-color="#fef1f1"/><stop offset="42.5%" stop-color="#fcdede"/><stop offset="55%" stop-color="#fcdede"/><stop offset="70%" stop-color="#fdeaea"/><stop offset="80%" stop-color="#ffffff"/><stop offset="90%" stop-color="#edebff"/><stop offset="100%" stop-color="#e5e3fe"/></linearGradient><linearGradient id="g110"><stop offset="0%" stop-color="#e5e3fe"/><stop offset="20%" stop-color="#fffefe"/><stop offset="45%" stop-color="#fdecec"/><stop offset="67.5%" stop-color="#fef3f3"/><stop offset="75%" stop-color="#fffefe"/><stop offset="92.5%" stop-color="#e9e7fe"/><stop offset="100%" stop-color="#e4e2fe"/></linearGradient><linearGradient id="g111"><stop offset="0%" stop-color="#e4e2fe"/><stop offset="32.5%" stop-color="#ffffff"/><stop offset="55%" stop-color="#fffcfc"/><stop offset="67.5%" stop-color="#fefeff"/><stop offset="92.5%" stop-color="#e7e4fe"/><stop offset="100%" stop-color="#e3e1fe"/></linearGradient><linearGradient id="g112"><stop offset="0%" stop-color="#e3e1fe"/><stop offset="42.5%" stop-color="#f7f6ff"/><stop offset="72.5%" stop-color="#f1efff"/><stop offset="100%" stop-color="#e2e0fe"/></linearGradient><linearGradient id="g113"><stop offset="0%" stop-color="#e2dffe"/><stop offset="50%" stop-color="#efedff"/><stop offset="100%" stop-color="#e1dffe"/></linearGradient><linearGradient id="g114"><stop offset="0%" stop-color="#e1defe"/><stop offset="57.5%" stop-color="#e8e6fe"/><stop offset="100%" stop-color="#e0defe"/></linearGradient><linearGradient id="g115"><stop offset="0%" stop-color="#e0ddfe"/><stop offset="70%" stop-color="#e4e1fe"/><stop offset="100%" stop-color="#e0ddfe"/></linearGradient><linearGradient id="g116"><stop offset="0%" stop-color="#fde7e7"/><stop offset="72.5%" stop-color="#fde2e2"/><stop offset="100%" stop-color="#fde6e6"/></linearGradient><linearGradient id="g117"><stop offset="0%" stop-color="#fde6e6"/><stop offset="67.5%" stop-color="#fcdfdf"/><stop offset="100%" stop-color="#fde6e6"/></linearGradient><linearGradient id="g118"><stop offset="0%" stop-color="#fde6e6"/><stop offset="65%" stop-color="#fcdcdc"/><stop offset="100%" stop-color="#fde6e6"/></linearGradient><linearGradient id="g119"><stop offset="0%" stop-color="#fde5e5"/><stop offset="42.5%" stop-color="#fcdcdc"/><stop offset="65%" stop-color="#fcd7d7"/><stop offset="100%" stop-color="#fde4e4"/></linearGradient><linearGradient id="g120"><stop offset="0%" stop-color="#fcd7d7"/><stop offset="37.5%" stop-color="#fbcccc"/><stop offset="60%" stop-color="#fac2c2"/><stop offset="100%" stop-color="#fcd6d6"/></linearGradient><linearGradient id="g121"><stop offset="0%" stop-color="#fde2e2"/><stop offset="32.5%" stop-color="#fcd5d5"/><stop offset="57.5%" stop-color="#fac4c4"/><stop offset="77.5%" stop-color="#fbd5d5"/><stop offset="100%" stop-color="#fde2e2"/></linearGradient><linearGradient id="g122"><stop offset="0%" stop-color="#fde6e6"/><stop offset="32.5%" stop-color="#fcdede"/><stop offset="57.5%" stop-color="#fac9c9"/><stop offset="72.5%" stop-color="#fbd2d2"/><stop offset="95%" stop-color="#fde4e4"/><stop offset="100%" stop-color="#fde5e5"/></linearGradient><linearGradient id="g123"><stop offset="0%" stop-color="#fde6e6"/><stop offset="32.5%" stop-color="#fcdddd"/><stop offset="57.5%" stop-color="#fac4c4"/><stop offset="70%" stop-color="#fbcbcb"/><stop offset="92.5%" stop-color="#fde2e2"/><stop offset="100%" stop-color="#fde5e5"/></linearGradient><linearGradient id="g124"><stop offset="0%" stop-color="#fde6e6"/><stop offset="30%" stop-color="#fcdddd"/><stop offset="57.5%" stop-color="#fabebe"/><stop offset="70%" stop-color="#fac7c7"/><stop offset="90%" stop-color="#fce0e0"/><stop offset="100%" stop-color="#fde4e4"/></linearGradient><linearGradient id="g125"><stop offset="0%" stop-color="#fde6e6"/><stop offset="30%" stop-color="#fcdddd"/><stop offset="57.5%" stop-color="#f9b8b8"/><stop offset="67.5%" stop-color="#fabebe"/><stop offset="87.5%" stop-color="#fcdddd"/><stop offset="100%" stop-color="#fde4e4"/></linearGradient><linearGradient id="g126"><stop offset="0%" stop-color="#fde6e6"/><stop offset="27.5%" stop-color="#fcdede"/><stop offset="45%" stop-color="#fac5c5"/><stop offset="57.5%" stop-color="#f9b3b3"/><stop offset="67.5%" stop-color="#f9b9b9"/><stop offset="87.5%" stop-color="#fcdcdc"/><stop offset="100%" stop-color="#fde4e4"/></linearGradient><linearGradient id="g127"><stop offset="0%" stop-color="#fde6e6"/><stop offset="27.5%" stop-color="#fcdddd"/><stop offset="42.5%" stop-color="#fac7c7"/><stop offset="55%" stop-color="#f8b0b0"/><stop offset="62.5%" stop-color="#f8afaf"/><stop offset="87.5%" stop-color="#fcdcdc"/><stop offset="100%" stop-color="#fde4e4"/></linearGradient><linearGradient id="g128"><stop offset="0%" stop-color="#fde6e6"/><stop offset="27.5%" stop-color="#fcdddd"/><stop offset="42.5%" stop-color="#fac6c6"/><stop offset="55%" stop-color="#f8adad"/><stop offset="62.5%" stop-color="#f8abab"/><stop offset="75%" stop-color="#fac3c3"/><stop offset="90%" stop-color="#fcdede"/><stop offset="100%" stop-color="#fde4e4"/></linearGradient><linearGradient id="g129"><stop offset="0%" stop-color="#fde7e7"/><stop offset="27.5%" stop-color="#fcdddd"/><stop offset="42.5%" stop-color="#fac5c5"/><stop offset="55%" stop-color="#f8abab"/><stop offset="62.5%" stop-color="#f8a8a8"/><stop offset="75%" stop-color="#fac1c1"/><stop offset="90%" stop-color="#fcdede"/><stop offset="100%" stop-color="#fde4e4"/></linearGradient><linearGradient id="g130"><stop offset="0%" stop-color="#fde7e7"/><stop offset="27.5%" stop-color="#fcdede"/><stop offset="42.5%" stop-color="#fac5c5"/><stop offset="55%" stop-color="#f8a9a9"/><stop offset="62.5%" stop-color="#f8a6a6"/><stop offset="72.5%" stop-color="#f9b8b8"/><stop offset="87.5%" stop-color="#fcdada"/><stop offset="100%" stop-color="#fde4e4"/></linearGradient><linearGradient id="g131"><stop offset="0%" stop-color="#fde7e7"/><stop offset="27.5%" stop-color="#fcdede"/><stop offset="42.5%" stop-color="#fac6c6"/><stop offset="55%" stop-color="#f8a9a9"/><stop offset="62.5%" stop-color="#f8a5a5"/><stop offset="72.5%" stop-color="#f9b6b6"/><stop offset="87.5%" stop-color="#fcd9d9"/><stop offset="100%" stop-color="#fde5e5"/></linearGradient><linearGradient id="g132"><stop offset="0%" stop-color="#fde8e8"/><stop offset="27.5%" stop-color="#fcdfdf"/><stop offset="42.5%" stop-color="#fac7c7"/><stop offset="57.5%" stop-color="#f8a7a7"/><stop offset="65%" stop-color="#f8a7a7"/><stop offset="80%" stop-color="#fac8c8"/><stop offset="92.5%" stop-color="#fcdfdf"/><stop offset="100%" stop-color="#fde5e5"/></linearGradient><linearGradient id="g133"><stop offset="0%" stop-color="#fde8e8"/><stop offset="27.5%" stop-color="#fce0e0"/><stop offset="42.5%" stop-color="#fac9c9"/><stop offset="57.5%" stop-color="#f8a9a9"/><stop offset="65%" stop-color="#f8a7a7"/><stop offset="77.5%" stop-color="#fac0c0"/><stop offset="92.5%" stop-color="#fcdede"/><stop offset="100%" stop-color="#fde5e5"/></linearGradient><linearGradient id="g134"><stop offset="0%" stop-color="#fde8e8"/><stop offset="30%" stop-color="#fcdfdf"/><stop offset="45%" stop-color="#fac6c6"/><stop offset="57.5%" stop-color="#f8acac"/><stop offset="65%" stop-color="#f8a9a9"/><stop offset="75%" stop-color="#f9b9b9"/><stop offset="90%" stop-color="#fcdbdb"/><stop offset="100%" stop-color="#fde5e5"/></linearGradient><linearGradient id="g135"><stop offset="0%" stop-color="#fde8e8"/><stop offset="30%" stop-color="#fce0e0"/><stop offset="45%" stop-color="#fbcaca"/><stop offset="60%" stop-color="#f8adad"/><stop offset="67.5%" stop-color="#f8adad"/><stop offset="82.5%" stop-color="#fbcbcb"/><stop offset="95%" stop-color="#fde1e1"/><stop offset="100%" stop-color="#fde5e5"/></linearGradient><linearGradient id="g136"><stop offset="0%" stop-color="#fde9e9"/><stop offset="30%" stop-color="#fde1e1"/><stop offset="45%" stop-color="#fbcdcd"/><stop offset="60%" stop-color="#f9b3b3"/><stop offset="70%" stop-color="#f9b4b4"/><stop offset="92.5%" stop-color="#fcdfdf"/><stop offset="100%" stop-color="#fde5e5"/></linearGradient><linearGradient id="g137"><stop offset="0%" stop-color="#fde8e8"/><stop offset="32.5%" stop-color="#fce0e0"/><stop offset="52.5%" stop-color="#fac3c3"/><stop offset="65%" stop-color="#f9b6b6"/><stop offset="75%" stop-color="#fac0c0"/><stop offset="95%" stop-color="#fde1e1"/><stop offset="100%" stop-color="#fde5e5"/></linearGradient><linearGradient id="g138"><stop offset="0%" stop-color="#fde7e7"/><stop offset="35%" stop-color="#fcdede"/><stop offset="62.5%" stop-color="#fabebe"/><stop offset="72.5%" stop-color="#fac1c1"/><stop offset="95%" stop-color="#fde2e2"/><stop offset="100%" stop-color="#fde5e5"/></linearGradient><linearGradient id="g139"><stop offset="0%" stop-color="#fce1e1"/><stop offset="35%" stop-color="#fcdada"/><stop offset="65%" stop-color="#fabfbf"/><stop offset="80%" stop-color="#fbcccc"/><stop offset="97.5%" stop-color="#fcdede"/><stop offset="100%" stop-color="#fcdfdf"/></linearGradient><linearGradient id="g140"><stop offset="0%" stop-color="#fbd4d4"/><stop offset="37.5%" stop-color="#fbcdcd"/><stop offset="65%" stop-color="#f9baba"/><stop offset="100%" stop-color="#fbd2d2"/></linearGradient><linearGradient id="g141"><stop offset="0%" stop-color="#fef6f6"/><stop offset="42.5%" stop-color="#feeded"/><stop offset="67.5%" stop-color="#fde3e3"/><stop offset="100%" stop-color="#fef4f4"/></linearGradient><linearGradient id="g142"><stop offset="0%" stop-color="#ffffff"/><stop offset="45%" stop-color="#fef8f8"/><stop offset="70%" stop-color="#fef2f2"/><stop offset="100%" stop-color="#fffefe"/></linearGradient><linearGradient id="g143"><stop offset="0%" stop-color="#ffffff"/><stop offset="72.5%" stop-color="#fef7f7"/><stop offset="100%" stop-color="#fffefe"/></linearGradient><linearGradient id="g144"><stop offset="0%" stop-color="#ffffff"/><stop offset="60%" stop-color="#fffbfb"/><stop offset="100%" stop-color="#ffffff"/></linearGradient><linearGradient id="g145"><stop offset="0%" stop-color="#ffffff"/><stop offset="50%" stop-color="#f8f8ff"/><stop offset="70%" stop-color="#fffefe"/><stop offset="100%" stop-color="#ffffff"/></linearGradient><linearGradient id="g146"><stop offset="0%" stop-color="#ffffff"/><stop offset="27.5%" stop-color="#f8f8ff"/><stop offset="47.5%" stop-color="#f0efff"/><stop offset="77.5%" stop-color="#ffffff"/><stop offset="100%" stop-color="#ffffff"/></linearGradient><linearGradient id="g147"><stop offset="0%" stop-color="#ffffff"/><stop offset="30%" stop-color="#f7f6ff"/><stop offset="50%" stop-color="#f1f0ff"/><stop offset="80%" stop-color="#ffffff"/><stop offset="100%" stop-color="#ffffff"/></linearGradient><linearGradient id="g148"><stop offset="0%" stop-color="#ffffff"/><stop offset="52.5%" stop-color="#f9f8ff"/><stop offset="92.5%" stop-color="#ffffff"/><stop offset="100%" stop-color="#ffffff"/></linearGradient><linearGradient id="g149"><stop offset="0%" stop-color="#fbfaff"/><stop offset="62.5%" stop-color="#fefeff"/><stop offset="100%" stop-color="#fbfaff"/></linearGradient><linearGradient id="g150"><stop offset="0%" stop-color="#fbfaff"/><stop offset="32.5%" stop-color="#fffdfd"/><stop offset="75%" stop-color="#fcfcff"/><stop offset="100%" stop-color="#fbfaff"/></linearGradient><linearGradient id="g151"><stop offset="0%" stop-color="#fbfbff"/><stop offset="27.5%" stop-color="#fffdfd"/><stop offset="55%" stop-color="#fffbfb"/><stop offset="75%" stop-color="#fdfcff"/><stop offset="100%" stop-color="#fbfaff"/></linearGradient><linearGradient id="g152"><stop offset="0%" stop-color="#fbfbff"/><stop offset="25%" stop-color="#fffcfc"/><stop offset="50%" stop-color="#fef7f7"/><stop offset="72.5%" stop-color="#fefeff"/><stop offset="100%" stop-color="#fbfaff"/></linearGradient><linearGradient id="g153"><stop offset="0%" stop-color="#fbfbff"/><stop offset="22.5%" stop-color="#fffcfc"/><stop offset="47.5%" stop-color="#fef4f4"/><stop offset="75%" stop-color="#fdfdff"/><stop offset="100%" stop-color="#fbfaff"/></linearGradient><linearGradient id="g154"><stop offset="0%" stop-color="#fbfbff"/><stop offset="20%" stop-color="#fffdfd"/><stop offset="45%" stop-color="#fef2f2"/><stop offset="75%" stop-color="#fefeff"/><stop offset="100%" stop-color="#fbfaff"/></linearGradient><linearGradient id="g155"><stop offset="0%" stop-color="#fbfbff"/><stop offset="20%" stop-color="#fffdfd"/><stop offset="45%" stop-color="#fef1f1"/><stop offset="75%" stop-color="#fefeff"/><stop offset="100%" stop-color="#fbfaff"/></linearGradient><linearGradient id="g156"><stop offset="0%" stop-color="#fbfbff"/><stop offset="20%" stop-color="#fffdfd"/><stop offset="45%" stop-color="#fef2f2"/><stop offset="75%" stop-color="#fefeff"/><stop offset="100%" stop-color="#fbfaff"/></linearGradient><linearGradient id="g157"><stop offset="0%" stop-color="#fbfbff"/><stop offset="20%" stop-color="#fffdfd"/><stop offset="47.5%" stop-color="#fef3f3"/><stop offset="75%" stop-color="#fefdff"/><stop offset="100%" stop-color="#fbfaff"/></linearGradient><linearGradient id="g158"><stop offset="0%" stop-color="#fcfcff"/><stop offset="17.5%" stop-color="#fffdfd"/><stop offset="47.5%" stop-color="#fef5f5"/><stop offset="72.5%" stop-color="#fefeff"/><stop offset="100%" stop-color="#fbfaff"/></linearGradient><linearGradient id="g159"><stop offset="0%" stop-color="#fcfcff"/><stop offset="12.5%" stop-color="#fffdfd"/><stop offset="45%" stop-color="#fef5f5"/><stop offset="72.5%" stop-color="#fefeff"/><stop offset="100%" stop-color="#fbfaff"/></linearGradient><linearGradient id="g160"><stop offset="0%" stop-color="#fdfdff"/><stop offset="15%" stop-color="#fef9f9"/><stop offset="42.5%" stop-color="#fef3f3"/><stop offset="72.5%" stop-color="#fefdff"/><stop offset="100%" stop-color="#fbfaff"/></linearGradient><linearGradient id="g161"><stop offset="0%" stop-color="#fefdff"/><stop offset="30%" stop-color="#fdeded"/><stop offset="52.5%" stop-color="#fef4f4"/><stop offset="75%" stop-color="#fefeff"/><stop offset="100%" stop-color="#fbfaff"/></linearGradient><linearGradient id="g162"><stop offset="0%" stop-color="#fefeff"/><stop offset="30%" stop-color="#fde4e4"/><stop offset="47.5%" stop-color="#fde8e8"/><stop offset="77.5%" stop-color="#ffffff"/><stop offset="100%" stop-color="#fbfbff"/></linearGradient><linearGradient id="g163"><stop offset="0%" stop-color="#fefeff"/><stop offset="15%" stop-color="#feeded"/><stop offset="32.5%" stop-color="#fcdada"/><stop offset="45%" stop-color="#fcdada"/><stop offset="77.5%" stop-color="#fffafa"/><stop offset="95%" stop-color="#fefdff"/><stop offset="100%" stop-color="#fdfcff"/></linearGradient><linearGradient id="g164"><stop offset="0%" stop-color="#fdfdff"/><stop offset="10%" stop-color="#fef6f6"/><stop offset="32.5%" stop-color="#fbd2d2"/><stop offset="42.5%" stop-color="#fbcdcd"/><stop offset="52.5%" stop-color="#fbd3d3"/><stop offset="80%" stop-color="#fef4f4"/><stop offset="100%" stop-color="#fffefe"/></linearGradient><linearGradient id="g165"><stop offset="0%" stop-color="#fdfdff"/><stop offset="7.5%" stop-color="#fffbfb"/><stop offset="40%" stop-color="#fac6c6"/><stop offset="52.5%" stop-color="#fac7c7"/><stop offset="90%" stop-color="#fef2f2"/><stop offset="100%" stop-color="#fef9f9"/></linearGradient><linearGradient id="g166"><stop offset="0%" stop-color="#fcfcff"/><stop offset="7.5%" stop-color="#fffdfd"/><stop offset="30%" stop-color="#fcdada"/><stop offset="42.5%" stop-color="#fac5c5"/><stop offset="52.5%" stop-color="#fac0c0"/><stop offset="100%" stop-color="#fef0f0"/></linearGradient><linearGradient id="g167"><stop offset="0%" stop-color="#fbfbff"/><stop offset="12.5%" stop-color="#fffcfc"/><stop offset="35%" stop-color="#fcdbdb"/><stop offset="50%" stop-color="#fac3c3"/><stop offset="75%" stop-color="#fbcece"/><stop offset="100%" stop-color="#fde6e6"/></linearGradient><linearGradient id="g168"><stop offset="0%" stop-color="#fbfbff"/><stop offset="17.5%" stop-color="#fffcfc"/><stop offset="37.5%" stop-color="#fde3e3"/><stop offset="52.5%" stop-color="#fbcece"/><stop offset="77.5%" stop-color="#fbcccc"/><stop offset="100%" stop-color="#fcdcdc"/></linearGradient><linearGradient id="g169"><stop offset="0%" stop-color="#fbfaff"/><stop offset="22.5%" stop-color="#fffdfd"/><stop offset="60%" stop-color="#fcd7d7"/><stop offset="87.5%" stop-color="#fbd0d0"/><stop offset="100%" stop-color="#fbd5d5"/></linearGradient><linearGradient id="g170"><stop offset="0%" stop-color="#fbfaff"/><stop offset="32.5%" stop-color="#fffcfc"/><stop offset="85%" stop-color="#fcd6d6"/><stop offset="100%" stop-color="#fbd5d5"/></linearGradient><linearGradient id="g171"><stop offset="0%" stop-color="#fafaff"/><stop offset="42.5%" stop-color="#fffcfc"/><stop offset="100%" stop-color="#fcdada"/></linearGradient><linearGradient id="g172"><stop offset="0%" stop-color="#faf9ff"/><stop offset="57.5%" stop-color="#fffdfd"/><stop offset="100%" stop-color="#fde5e5"/></linearGradient><linearGradient id="g173"><stop offset="0%" stop-color="#f9f8ff"/><stop offset="62.5%" stop-color="#fbfbff"/><stop offset="80%" stop-color="#fffcfc"/><stop offset="100%" stop-color="#fef1f1"/></linearGradient><linearGradient id="g174"><stop offset="0%" stop-color="#f6f5ff"/><stop offset="65%" stop-color="#f4f3ff"/><stop offset="100%" stop-color="#fffdfd"/></linearGradient><linearGradient id="g175"><stop offset="0%" stop-color="#f2f0ff"/><stop offset="55%" stop-color="#e9e7ff"/><stop offset="100%" stop-color="#f6f5ff"/></linearGradient><linearGradient id="g176"><stop offset="0%" stop-color="#ebeaff"/><stop offset="47.5%" stop-color="#dcd9fe"/><stop offset="75%" stop-color="#e1defe"/><stop offset="100%" stop-color="#ebe9ff"/></linearGradient><linearGradient id="g177"><stop offset="0%" stop-color="#e4e2fe"/><stop offset="40%" stop-color="#cecafe"/><stop offset="70%" stop-color="#d2cefe"/><stop offset="100%" stop-color="#e1defe"/></linearGradient><linearGradient id="g178"><stop offset="0%" stop-color="#dfdcfe"/><stop offset="40%" stop-color="#c4befe"/><stop offset="67.5%" stop-color="#c6c1fe"/><stop offset="100%" stop-color="#dad7fe"/></linearGradient><linearGradient id="g179"><stop offset="0%" stop-color="#dedbfe"/><stop offset="37.5%" stop-color="#c2bdfe"/><stop offset="67.5%" stop-color="#c3befe"/><stop offset="100%" stop-color="#d8d4fe"/></linearGradient><linearGradient id="g180"><stop offset="0%" stop-color="#e0ddfe"/><stop offset="40%" stop-color="#c6c1fe"/><stop offset="67.5%" stop-color="#c8c3fe"/><stop offset="100%" stop-color="#dbd8fe"/></linearGradient><linearGradient id="g181"><stop offset="0%" stop-color="#e3e1fe"/><stop offset="42.5%" stop-color="#d0ccfe"/><stop offset="70%" stop-color="#d3cffe"/><stop offset="100%" stop-color="#e0ddfe"/></linearGradient><linearGradient id="g182"><stop offset="0%" stop-color="#e8e6fe"/><stop offset="50%" stop-color="#dbd8fe"/><stop offset="100%" stop-color="#e5e3fe"/></linearGradient><linearGradient id="g183"><stop offset="0%" stop-color="#ebe9ff"/><stop offset="62.5%" stop-color="#e4e1fe"/><stop offset="100%" stop-color="#e9e8ff"/></linearGradient><linearGradient id="cb184"><stop offset="0" stop-color="#200cfa"/><stop offset="0.5" stop-color="#fff"/><stop offset="1" stop-color="#ec1c1c"/></linearGradient><linearGradient id="cb185"><stop offset="0" stop-color="#200cfa"/><stop offset="0.5" stop-color="#fff"/><stop offset="1" stop-color="#ec1c1c"/></linearGradient><linearGradient id="cb186"><stop offset="0" stop-color="#200cfa"/><stop offset="0.43788437884378845" stop-color="#fff"/><stop offset="1" stop-color="#ec1c1c"/></linearGradient><linearGradient id="cb187"><stop offset="0" stop-color="#200cfa"/><stop offset="0.43788437884378845" stop-color="#fff"/><stop offset="1" stop-color="#ec1c1c"/></linearGradient><linearGradient id="cb188"><stop offset="0" stop-color="#200cfa"/><stop offset="0.5" stop-color="#fff"/><stop offset="1" stop-color="#ec1c1c"/></linearGradient><linearGradient id="cb189"><stop offset="0" stop-color="#200cfa"/><stop offset="0.5" stop-color="#fff"/><stop offset="1" stop-color="#ec1c1c"/></linearGradient></defs><rect width="685" height="1080" fill="#fff"/>
<g shape-rendering="crispEdges">
<rect x="71" y="301" width="263.6" height="2.6" fill="#6456fc"/>
<rect x="71" y="303" width="263.6" height="2.6" fill="#6658fc"/>
<rect x="71" y="305.01" width="263.6" height="2.6" fill="#6659fc"/>
<rect x="71" y="307.01" width="263.6" height="2.6" fill="#6052fb"/>
<rect x="71" y="309.01" width="263.6" height="2.6" fill="#5a4bfb"/>
<rect x="71" y="311.02" width="263.6" height="2.6" fill="#4838fb"/>
<rect x="71" y="313.02" width="263.6" height="2.6" fill="#301efa"/>
<rect x="71" y="315.03" width="263.6" height="2.6" fill="#2c19fa"/>
<rect x="71" y="317.03" width="263.6" height="2.6" fill="#2916fa"/>
<rect x="71" y="319.03" width="263.6" height="2.6" fill="#2b18fa"/>
<rect x="71" y="321.04" width="263.6" height="2.6" fill="#2d1afa"/>
<rect x="71" y="323.04" width="263.6" height="2.6" fill="#3826fb"/>
<rect x="71" y="325.04" width="263.6" height="2.6" fill="#4433fb"/>
<rect x="71" y="327.05" width="263.6" height="2.6" fill="#5142fb"/>
<rect x="71" y="329.05" width="263.6" height="2.6" fill="#6153fb"/>
<rect x="71" y="331.05" width="263.6" height="2.6" fill="#7164fc"/>
<rect x="71" y="333.06" width="263.6" height="2.6" fill="#8479fc"/>
<rect x="71" y="335.06" width="263.6" height="2.6" fill="#978efd"/>
<rect x="71" y="337.07" width="263.6" height="2.6" fill="#c6c1fe"/>
<rect x="71" y="339.07" width="263.6" height="2.6" fill="url(#g1)"/>
<rect x="71" y="341.07" width="263.6" height="2.6" fill="url(#g2)"/>
<rect x="71" y="343.08" width="263.6" height="2.6" fill="url(#g3)"/>
<rect x="71" y="345.08" width="263.6" height="2.6" fill="#c5c0fe"/>
<rect x="71" y="347.08" width="263.6" height="2.6" fill="#bab4fd"/>
<rect x="71" y="349.09" width="263.6" height="2.6" fill="#b0a9fd"/>
<rect x="71" y="351.09" width="263.6" height="2.6" fill="#aaa3fd"/>
<rect x="71" y="353.1" width="263.6" height="2.6" fill="#a59dfd"/>
<rect x="71" y="355.1" width="263.6" height="2.6" fill="#a097fd"/>
<rect x="71" y="357.1" width="263.6" height="2.6" fill="#9b92fd"/>
<rect x="71" y="359.11" width="263.6" height="2.6" fill="#978efd"/>
<rect x="71" y="361.11" width="263.6" height="2.6" fill="#9389fd"/>
<rect x="71" y="363.11" width="263.6" height="2.6" fill="#8f85fc"/>
<rect x="71" y="365.12" width="263.6" height="2.6" fill="#8a7ffc"/>
<rect x="71" y="367.12" width="263.6" height="2.6" fill="#857afc"/>
<rect x="71" y="369.12" width="263.6" height="2.6" fill="#7b6ffc"/>
<rect x="71" y="371.13" width="263.6" height="2.6" fill="#6c5ffc"/>
<rect x="71" y="373.13" width="263.6" height="2.6" fill="#4130fb"/>
<rect x="71" y="375.14" width="263.6" height="2.6" fill="#6c5ffc"/>
<rect x="71" y="377.14" width="263.6" height="2.6" fill="#6e61fc"/>
<rect x="71" y="379.14" width="263.6" height="2.6" fill="#7063fc"/>
<rect x="71" y="381.15" width="263.6" height="2.6" fill="#7366fc"/>
<rect x="71" y="383.15" width="263.6" height="2.6" fill="#776afc"/>
<rect x="71" y="385.15" width="263.6" height="2.6" fill="#7a6ffc"/>
<rect x="71" y="387.16" width="263.6" height="2.6" fill="#7e73fc"/>
<rect x="71" y="389.16" width="263.6" height="2.6" fill="#8277fc"/>
<rect x="71" y="391.16" width="263.6" height="2.6" fill="#8a80fc"/>
<rect x="71" y="393.17" width="263.6" height="2.6" fill="#9289fd"/>
<rect x="71" y="395.17" width="263.6" height="2.6" fill="#9a91fd"/>
<rect x="71" y="397.18" width="263.6" height="2.6" fill="#a49bfd"/>
<rect x="71" y="399.18" width="263.6" height="2.6" fill="url(#g4)"/>
<rect x="71" y="401.18" width="263.6" height="2.6" fill="url(#g5)"/>
<rect x="71" y="403.19" width="263.6" height="2.6" fill="url(#g6)"/>
<rect x="71" y="405.19" width="263.6" height="2.6" fill="url(#g7)"/>
<rect x="71" y="407.19" width="263.6" height="2.6" fill="url(#g8)"/>
<rect x="71" y="409.2" width="263.6" height="2.6" fill="url(#g9)"/>
<rect x="71" y="411.2" width="263.6" height="2.6" fill="url(#g10)"/>
<rect x="71" y="413.2" width="263.6" height="2.6" fill="url(#g11)"/>
<rect x="71" y="415.21" width="263.6" height="2.6" fill="url(#g12)"/>
<rect x="71" y="417.21" width="263.6" height="2.6" fill="url(#g13)"/>
<rect x="71" y="419.22" width="263.6" height="2.6" fill="url(#g14)"/>
<rect x="71" y="421.22" width="263.6" height="2.6" fill="url(#g15)"/>
<rect x="71" y="423.22" width="263.6" height="2.6" fill="url(#g16)"/>
<rect x="71" y="425.23" width="263.6" height="2.6" fill="#7b6ffc"/>
<rect x="71" y="427.23" width="263.6" height="2.6" fill="#6e61fc"/>
<rect x="71" y="429.23" width="263.6" height="2.6" fill="#6355fb"/>
<rect x="71" y="431.24" width="263.6" height="2.6" fill="#5f50fb"/>
<rect x="71" y="433.24" width="263.6" height="2.6" fill="#5b4cfb"/>
<rect x="71" y="435.25" width="263.6" height="2.6" fill="#5748fb"/>
<rect x="71" y="437.25" width="263.6" height="2.6" fill="#5344fb"/>
<rect x="71" y="439.25" width="263.6" height="2.6" fill="#5040fb"/>
<rect x="71" y="441.26" width="263.6" height="2.6" fill="#4d3dfb"/>
<rect x="71" y="443.26" width="263.6" height="2.6" fill="#4a3afb"/>
<rect x="71" y="445.26" width="263.6" height="2.6" fill="#4736fb"/>
<rect x="71" y="447.27" width="263.6" height="2.6" fill="#4433fb"/>
<rect x="71" y="449.27" width="263.6" height="2.6" fill="#4130fb"/>
<rect x="71" y="451.27" width="263.6" height="2.6" fill="#3e2dfb"/>
<rect x="71" y="453.28" width="263.6" height="2.6" fill="#3c2bfb"/>
<rect x="71" y="455.28" width="263.6" height="2.6" fill="#3a29fb"/>
<rect x="71" y="457.29" width="263.6" height="2.6" fill="#3927fb"/>
<rect x="71" y="459.29" width="263.6" height="2.6" fill="#3725fb"/>
<rect x="71" y="461.29" width="263.6" height="2.6" fill="#3523fa"/>
<rect x="71" y="463.3" width="263.6" height="2.6" fill="#3320fa"/>
</g>
<g shape-rendering="crispEdges">
<rect x="400.4" y="301" width="263.6" height="2.6" fill="#a39bfd"/>
<rect x="400.4" y="303" width="263.6" height="2.6" fill="#a69efd"/>
<rect x="400.4" y="305.01" width="263.6" height="2.6" fill="#a9a1fd"/>
<rect x="400.4" y="307.01" width="263.6" height="2.6" fill="#aca4fd"/>
<rect x="400.4" y="309.01" width="263.6" height="2.6" fill="#afa7fd"/>
<rect x="400.4" y="311.02" width="263.6" height="2.6" fill="#aea6fd"/>
<rect x="400.4" y="313.02" width="263.6" height="2.6" fill="#aca5fd"/>
<rect x="400.4" y="315.03" width="263.6" height="2.6" fill="#aba4fd"/>
<rect x="400.4" y="317.03" width="263.6" height="2.6" fill="#a9a2fd"/>
<rect x="400.4" y="319.03" width="263.6" height="2.6" fill="#9d95fd"/>
<rect x="400.4" y="321.04" width="263.6" height="2.6" fill="#9187fd"/>
<rect x="400.4" y="323.04" width="263.6" height="2.6" fill="#8c82fc"/>
<rect x="400.4" y="325.04" width="263.6" height="2.6" fill="#8f84fc"/>
<rect x="400.4" y="327.05" width="263.6" height="2.6" fill="#988ffd"/>
<rect x="400.4" y="329.05" width="263.6" height="2.6" fill="#a79ffd"/>
<rect x="400.4" y="331.05" width="263.6" height="2.6" fill="#b6affd"/>
<rect x="400.4" y="333.06" width="263.6" height="2.6" fill="#bfb9fe"/>
<rect x="400.4" y="335.06" width="263.6" height="2.6" fill="#c3befe"/>
<rect x="400.4" y="337.07" width="263.6" height="2.6" fill="#c8c3fe"/>
<rect x="400.4" y="339.07" width="263.6" height="2.6" fill="#ccc8fe"/>
<rect x="400.4" y="341.07" width="263.6" height="2.6" fill="#c9c4fe"/>
<rect x="400.4" y="343.08" width="263.6" height="2.6" fill="#c1bbfe"/>
<rect x="400.4" y="345.08" width="263.6" height="2.6" fill="#afa7fd"/>
<rect x="400.4" y="347.08" width="263.6" height="2.6" fill="#9c93fd"/>
<rect x="400.4" y="349.09" width="263.6" height="2.6" fill="#9c93fd"/>
<rect x="400.4" y="351.09" width="263.6" height="2.6" fill="#a8a1fd"/>
<rect x="400.4" y="353.1" width="263.6" height="2.6" fill="#b6b0fd"/>
<rect x="400.4" y="355.1" width="263.6" height="2.6" fill="#c5c0fe"/>
<rect x="400.4" y="357.1" width="263.6" height="2.6" fill="#d2cefe"/>
<rect x="400.4" y="359.11" width="263.6" height="2.6" fill="#cec9fe"/>
<rect x="400.4" y="361.11" width="263.6" height="2.6" fill="#c9c4fe"/>
<rect x="400.4" y="363.11" width="263.6" height="2.6" fill="#b8b1fd"/>
<rect x="400.4" y="365.12" width="263.6" height="2.6" fill="#a69ffd"/>
<rect x="400.4" y="367.12" width="263.6" height="2.6" fill="#9990fd"/>
<rect x="400.4" y="369.12" width="263.6" height="2.6" fill="#8d82fc"/>
<rect x="400.4" y="371.13" width="263.6" height="2.6" fill="#8175fc"/>
<rect x="400.4" y="373.13" width="263.6" height="2.6" fill="#766afc"/>
<rect x="400.4" y="375.14" width="263.6" height="2.6" fill="#7d71fc"/>
<rect x="400.4" y="377.14" width="263.6" height="2.6" fill="#948bfd"/>
<rect x="400.4" y="379.14" width="263.6" height="2.6" fill="#9b92fd"/>
<rect x="400.4" y="381.15" width="263.6" height="2.6" fill="#a199fd"/>
<rect x="400.4" y="383.15" width="263.6" height="2.6" fill="#a7a0fd"/>
<rect x="400.4" y="385.15" width="263.6" height="2.6" fill="#aba3fd"/>
<rect x="400.4" y="387.16" width="263.6" height="2.6" fill="#aca4fd"/>
<rect x="400.4" y="389.16" width="263.6" height="2.6" fill="#ada5fd"/>
<rect x="400.4" y="391.16" width="263.6" height="2.6" fill="#ada6fd"/>
<rect x="400.4" y="393.17" width="263.6" height="2.6" fill="#aea7fd"/>
<rect x="400.4" y="395.17" width="263.6" height="2.6" fill="#b2abfd"/>
<rect x="400.4" y="397.18" width="263.6" height="2.6" fill="#b8b1fd"/>
<rect x="400.4" y="399.18" width="263.6" height="2.6" fill="#bdb7fe"/>
<rect x="400.4" y="401.18" width="263.6" height="2.6" fill="#ccc8fe"/>
<rect x="400.4" y="403.19" width="263.6" height="2.6" fill="url(#g17)"/>
<rect x="400.4" y="405.19" width="263.6" height="2.6" fill="url(#g18)"/>
<rect x="400.4" y="407.19" width="263.6" height="2.6" fill="url(#g19)"/>
<rect x="400.4" y="409.2" width="263.6" height="2.6" fill="url(#g20)"/>
<rect x="400.4" y="411.2" width="263.6" height="2.6" fill="url(#g21)"/>
<rect x="400.4" y="413.2" width="263.6" height="2.6" fill="url(#g22)"/>
<rect x="400.4" y="415.21" width="263.6" height="2.6" fill="url(#g23)"/>
<rect x="400.4" y="417.21" width="263.6" height="2.6" fill="url(#g24)"/>
<rect x="400.4" y="419.22" width="263.6" height="2.6" fill="#fdfdff"/>
<rect x="400.4" y="421.22" width="263.6" height="2.6" fill="#c3befe"/>
<rect x="400.4" y="423.22" width="263.6" height="2.6" fill="#aea7fd"/>
<rect x="400.4" y="425.23" width="263.6" height="2.6" fill="#a8a0fd"/>
<rect x="400.4" y="427.23" width="263.6" height="2.6" fill="#a29afd"/>
<rect x="400.4" y="429.23" width="263.6" height="2.6" fill="#9c93fd"/>
<rect x="400.4" y="431.24" width="263.6" height="2.6" fill="#938afd"/>
<rect x="400.4" y="433.24" width="263.6" height="2.6" fill="#8b80fc"/>
<rect x="400.4" y="435.25" width="263.6" height="2.6" fill="#8277fc"/>
<rect x="400.4" y="437.25" width="263.6" height="2.6" fill="#7e72fc"/>
<rect x="400.4" y="439.25" width="263.6" height="2.6" fill="#7a6efc"/>
<rect x="400.4" y="441.26" width="263.6" height="2.6" fill="#766afc"/>
<rect x="400.4" y="443.26" width="263.6" height="2.6" fill="#7265fc"/>
<rect x="400.4" y="445.26" width="263.6" height="2.6" fill="#7063fc"/>
<rect x="400.4" y="447.27" width="263.6" height="2.6" fill="#6f62fc"/>
<rect x="400.4" y="449.27" width="263.6" height="2.6" fill="#6e61fc"/>
<rect x="400.4" y="451.27" width="263.6" height="2.6" fill="#6d60fc"/>
<rect x="400.4" y="453.28" width="263.6" height="2.6" fill="#6c5ffc"/>
<rect x="400.4" y="455.28" width="263.6" height="2.6" fill="#6d60fc"/>
<rect x="400.4" y="457.29" width="263.6" height="2.6" fill="#6f62fc"/>
<rect x="400.4" y="459.29" width="263.6" height="2.6" fill="#7064fc"/>
<rect x="400.4" y="461.29" width="263.6" height="2.6" fill="#7266fc"/>
<rect x="400.4" y="463.3" width="263.6" height="2.6" fill="#7467fc"/>
</g>
<g shape-rendering="crispEdges">
<rect x="71" y="585.6" width="263.6" height="2.61" fill="#e0ddfe"/>
<rect x="71" y="587.61" width="263.6" height="2.61" fill="#e0ddfe"/>
<rect x="71" y="589.62" width="263.6" height="2.61" fill="#e0ddfe"/>
<rect x="71" y="591.63" width="263.6" height="2.61" fill="#e0ddfe"/>
<rect x="71" y="593.64" width="263.6" height="2.61" fill="#e0ddfe"/>
<rect x="71" y="595.65" width="263.6" height="2.61" fill="#e0ddfe"/>
<rect x="71" y="597.67" width="263.6" height="2.61" fill="#e0ddfe"/>
<rect x="71" y="599.68" width="263.6" height="2.61" fill="url(#g25)"/>
<rect x="71" y="601.69" width="263.6" height="2.61" fill="url(#g26)"/>
<rect x="71" y="603.7" width="263.6" height="2.61" fill="#e0ddfe"/>
<rect x="71" y="605.71" width="263.6" height="2.61" fill="url(#g27)"/>
<rect x="71" y="607.72" width="263.6" height="2.61" fill="url(#g28)"/>
<rect x="71" y="609.73" width="263.6" height="2.61" fill="url(#g29)"/>
<rect x="71" y="611.74" width="263.6" height="2.61" fill="url(#g30)"/>
<rect x="71" y="613.75" width="263.6" height="2.61" fill="url(#g31)"/>
<rect x="71" y="615.76" width="263.6" height="2.61" fill="url(#g32)"/>
<rect x="71" y="617.78" width="263.6" height="2.61" fill="url(#g33)"/>
<rect x="71" y="619.79" width="263.6" height="2.61" fill="url(#g34)"/>
<rect x="71" y="621.8" width="263.6" height="2.61" fill="url(#g35)"/>
<rect x="71" y="623.81" width="263.6" height="2.61" fill="url(#g36)"/>
<rect x="71" y="625.82" width="263.6" height="2.61" fill="url(#g37)"/>
<rect x="71" y="627.83" width="263.6" height="2.61" fill="url(#g38)"/>
<rect x="71" y="629.84" width="263.6" height="2.61" fill="url(#g39)"/>
<rect x="71" y="631.85" width="263.6" height="2.61" fill="url(#g40)"/>
<rect x="71" y="633.86" width="263.6" height="2.61" fill="url(#g41)"/>
<rect x="71" y="635.87" width="263.6" height="2.61" fill="url(#g42)"/>
<rect x="71" y="637.89" width="263.6" height="2.61" fill="url(#g43)"/>
<rect x="71" y="639.9" width="263.6" height="2.61" fill="url(#g44)"/>
<rect x="71" y="641.91" width="263.6" height="2.61" fill="url(#g45)"/>
<rect x="71" y="643.92" width="263.6" height="2.61" fill="url(#g46)"/>
<rect x="71" y="645.93" width="263.6" height="2.61" fill="url(#g47)"/>
<rect x="71" y="647.94" width="263.6" height="2.61" fill="url(#g48)"/>
<rect x="71" y="649.95" width="263.6" height="2.61" fill="url(#g49)"/>
<rect x="71" y="651.96" width="263.6" height="2.61" fill="url(#g50)"/>
<rect x="71" y="653.97" width="263.6" height="2.61" fill="url(#g51)"/>
<rect x="71" y="655.98" width="263.6" height="2.61" fill="url(#g52)"/>
<rect x="71" y="658" width="263.6" height="2.61" fill="url(#g53)"/>
<rect x="71" y="660.01" width="263.6" height="2.61" fill="url(#g54)"/>
<rect x="71" y="662.02" width="263.6" height="2.61" fill="url(#g55)"/>
<rect x="71" y="664.03" width="263.6" height="2.61" fill="url(#g56)"/>
<rect x="71" y="666.04" width="263.6" height="2.61" fill="url(#g57)"/>
<rect x="71" y="668.05" width="263.6" height="2.61" fill="url(#g58)"/>
<rect x="71" y="670.06" width="263.6" height="2.61" fill="url(#g59)"/>
<rect x="71" y="672.07" width="263.6" height="2.61" fill="url(#g60)"/>
<rect x="71" y="674.08" width="263.6" height="2.61" fill="url(#g61)"/>
<rect x="71" y="676.09" width="263.6" height="2.61" fill="url(#g62)"/>
<rect x="71" y="678.1" width="263.6" height="2.61" fill="url(#g63)"/>
<rect x="71" y="680.12" width="263.6" height="2.61" fill="url(#g64)"/>
<rect x="71" y="682.13" width="263.6" height="2.61" fill="url(#g65)"/>
<rect x="71" y="684.14" width="263.6" height="2.61" fill="url(#g66)"/>
<rect x="71" y="686.15" width="263.6" height="2.61" fill="url(#g67)"/>
<rect x="71" y="688.16" width="263.6" height="2.61" fill="url(#g68)"/>
<rect x="71" y="690.17" width="263.6" height="2.61" fill="url(#g69)"/>
<rect x="71" y="692.18" width="263.6" height="2.61" fill="url(#g70)"/>
<rect x="71" y="694.19" width="263.6" height="2.61" fill="url(#g71)"/>
<rect x="71" y="696.2" width="263.6" height="2.61" fill="url(#g72)"/>
<rect x="71" y="698.21" width="263.6" height="2.61" fill="url(#g73)"/>
<rect x="71" y="700.23" width="263.6" height="2.61" fill="url(#g74)"/>
<rect x="71" y="702.24" width="263.6" height="2.61" fill="url(#g75)"/>
<rect x="71" y="704.25" width="263.6" height="2.61" fill="url(#g76)"/>
<rect x="71" y="706.26" width="263.6" height="2.61" fill="url(#g77)"/>
<rect x="71" y="708.27" width="263.6" height="2.61" fill="url(#g78)"/>
<rect x="71" y="710.28" width="263.6" height="2.61" fill="url(#g79)"/>
<rect x="71" y="712.29" width="263.6" height="2.61" fill="url(#g80)"/>
<rect x="71" y="714.3" width="263.6" height="2.61" fill="url(#g81)"/>
<rect x="71" y="716.31" width="263.6" height="2.61" fill="url(#g82)"/>
<rect x="71" y="718.32" width="263.6" height="2.61" fill="url(#g83)"/>
<rect x="71" y="720.34" width="263.6" height="2.61" fill="url(#g84)"/>
<rect x="71" y="722.35" width="263.6" height="2.61" fill="url(#g85)"/>
<rect x="71" y="724.36" width="263.6" height="2.61" fill="url(#g86)"/>
<rect x="71" y="726.37" width="263.6" height="2.61" fill="url(#g87)"/>
<rect x="71" y="728.38" width="263.6" height="2.61" fill="url(#g88)"/>
<rect x="71" y="730.39" width="263.6" height="2.61" fill="url(#g89)"/>
<rect x="71" y="732.4" width="263.6" height="2.61" fill="url(#g90)"/>
<rect x="71" y="734.41" width="263.6" height="2.61" fill="url(#g91)"/>
<rect x="71" y="736.42" width="263.6" height="2.61" fill="url(#g92)"/>
<rect x="71" y="738.43" width="263.6" height="2.61" fill="url(#g93)"/>
<rect x="71" y="740.45" width="263.6" height="2.61" fill="url(#g94)"/>
<rect x="71" y="742.46" width="263.6" height="2.61" fill="url(#g95)"/>
<rect x="71" y="744.47" width="263.6" height="2.61" fill="url(#g96)"/>
<rect x="71" y="746.48" width="263.6" height="2.61" fill="url(#g97)"/>
<rect x="71" y="748.49" width="263.6" height="2.61" fill="url(#g98)"/>
</g>
<g shape-rendering="crispEdges">
<rect x="400.4" y="585.6" width="263.6" height="2.61" fill="#dedbfe"/>
<rect x="400.4" y="587.61" width="263.6" height="2.61" fill="#dedbfe"/>
<rect x="400.4" y="589.62" width="263.6" height="2.61" fill="#dedbfe"/>
<rect x="400.4" y="591.63" width="263.6" height="2.61" fill="#dedbfe"/>
<rect x="400.4" y="593.64" width="263.6" height="2.61" fill="#dedbfe"/>
<rect x="400.4" y="595.65" width="263.6" height="2.61" fill="#dedbfe"/>
<rect x="400.4" y="597.67" width="263.6" height="2.61" fill="#dedbfe"/>
<rect x="400.4" y="599.68" width="263.6" height="2.61" fill="#dedbfe"/>
<rect x="400.4" y="601.69" width="263.6" height="2.61" fill="#dedbfe"/>
<rect x="400.4" y="603.7" width="263.6" height="2.61" fill="#dedbfe"/>
<rect x="400.4" y="605.71" width="263.6" height="2.61" fill="#dedbfe"/>
<rect x="400.4" y="607.72" width="263.6" height="2.61" fill="#dfdcfe"/>
<rect x="400.4" y="609.73" width="263.6" height="2.61" fill="#e0ddfe"/>
<rect x="400.4" y="611.74" width="263.6" height="2.61" fill="#e1defe"/>
<rect x="400.4" y="613.75" width="263.6" height="2.61" fill="#e3e0fe"/>
<rect x="400.4" y="615.76" width="263.6" height="2.61" fill="#e4e1fe"/>
<rect x="400.4" y="617.78" width="263.6" height="2.61" fill="#e4e2fe"/>
<rect x="400.4" y="619.79" width="263.6" height="2.61" fill="#e4e1fe"/>
<rect x="400.4" y="621.8" width="263.6" height="2.61" fill="#e2e0fe"/>
<rect x="400.4" y="623.81" width="263.6" height="2.61" fill="#e1defe"/>
<rect x="400.4" y="625.82" width="263.6" height="2.61" fill="#dedbfe"/>
<rect x="400.4" y="627.83" width="263.6" height="2.61" fill="#d8d5fe"/>
<rect x="400.4" y="629.84" width="263.6" height="2.61" fill="#d5d2fe"/>
<rect x="400.4" y="631.85" width="263.6" height="2.61" fill="#dbd8fe"/>
<rect x="400.4" y="633.86" width="263.6" height="2.61" fill="#dddafe"/>
<rect x="400.4" y="635.87" width="263.6" height="2.61" fill="#dedbfe"/>
<rect x="400.4" y="637.89" width="263.6" height="2.61" fill="#dedbfe"/>
<rect x="400.4" y="639.9" width="263.6" height="2.61" fill="#dedbfe"/>
<rect x="400.4" y="641.91" width="263.6" height="2.61" fill="#dedbfe"/>
<rect x="400.4" y="643.92" width="263.6" height="2.61" fill="#dedbfe"/>
<rect x="400.4" y="645.93" width="263.6" height="2.61" fill="#dedbfe"/>
<rect x="400.4" y="647.94" width="263.6" height="2.61" fill="#dedbfe"/>
<rect x="400.4" y="649.95" width="263.6" height="2.61" fill="#dedbfe"/>
<rect x="400.4" y="651.96" width="263.6" height="2.61" fill="#dedbfe"/>
<rect x="400.4" y="653.97" width="263.6" height="2.61" fill="#dedbfe"/>
<rect x="400.4" y="655.98" width="263.6" height="2.61" fill="#dedbfe"/>
<rect x="400.4" y="658" width="263.6" height="2.61" fill="#dedbfe"/>
<rect x="400.4" y="660.01" width="263.6" height="2.61" fill="#dedbfe"/>
<rect x="400.4" y="662.02" width="263.6" height="2.61" fill="#dedbfe"/>
<rect x="400.4" y="664.03" width="263.6" height="2.61" fill="#dedbfe"/>
<rect x="400.4" y="666.04" width="263.6" height="2.61" fill="#dedbfe"/>
<rect x="400.4" y="668.05" width="263.6" height="2.61" fill="#dedbfe"/>
<rect x="400.4" y="670.06" width="263.6" height="2.61" fill="#dedbfe"/>
<rect x="400.4" y="672.07" width="263.6" height="2.61" fill="#dedbfe"/>
<rect x="400.4" y="674.08" width="263.6" height="2.61" fill="#dedbfe"/>
<rect x="400.4" y="676.09" width="263.6" height="2.61" fill="#dfdcfe"/>
<rect x="400.4" y="678.1" width="263.6" height="2.61" fill="#dfdcfe"/>
<rect x="400.4" y="680.12" width="263.6" height="2.61" fill="#e0ddfe"/>
<rect x="400.4" y="682.13" width="263.6" height="2.61" fill="url(#g99)"/>
<rect x="400.4" y="684.14" width="263.6" height="2.61" fill="url(#g100)"/>
<rect x="400.4" y="686.15" width="263.6" height="2.61" fill="url(#g101)"/>
<rect x="400.4" y="688.16" width="263.6" height="2.61" fill="url(#g102)"/>
<rect x="400.4" y="690.17" width="263.6" height="2.61" fill="url(#g103)"/>
<rect x="400.4" y="692.18" width="263.6" height="2.61" fill="url(#g104)"/>
<rect x="400.4" y="694.19" width="263.6" height="2.61" fill="url(#g105)"/>
<rect x="400.4" y="696.2" width="263.6" height="2.61" fill="url(#g106)"/>
<rect x="400.4" y="698.21" width="263.6" height="2.61" fill="url(#g107)"/>
<rect x="400.4" y="700.23" width="263.6" height="2.61" fill="url(#g108)"/>
<rect x="400.4" y="702.24" width="263.6" height="2.61" fill="url(#g109)"/>
<rect x="400.4" y="704.25" width="263.6" height="2.61" fill="url(#g110)"/>
<rect x="400.4" y="706.26" width="263.6" height="2.61" fill="url(#g111)"/>
<rect x="400.4" y="708.27" width="263.6" height="2.61" fill="url(#g112)"/>
<rect x="400.4" y="710.28" width="263.6" height="2.61" fill="url(#g113)"/>
<rect x="400.4" y="712.29" width="263.6" height="2.61" fill="url(#g114)"/>
<rect x="400.4" y="714.3" width="263.6" height="2.61" fill="url(#g115)"/>
<rect x="400.4" y="716.31" width="263.6" height="2.61" fill="#dfdcfe"/>
<rect x="400.4" y="718.32" width="263.6" height="2.61" fill="#dfdcfe"/>
<rect x="400.4" y="720.34" width="263.6" height="2.61" fill="#dedbfe"/>
<rect x="400.4" y="722.35" width="263.6" height="2.61" fill="#dedbfe"/>
<rect x="400.4" y="724.36" width="263.6" height="2.61" fill="#dedbfe"/>
<rect x="400.4" y="726.37" width="263.6" height="2.61" fill="#dedbfe"/>
<rect x="400.4" y="728.38" width="263.6" height="2.61" fill="#dedbfe"/>
<rect x="400.4" y="730.39" width="263.6" height="2.61" fill="#dedbfe"/>
<rect x="400.4" y="732.4" width="263.6" height="2.61" fill="#dedbfe"/>
<rect x="400.4" y="734.41" width="263.6" height="2.61" fill="#dedbfe"/>
<rect x="400.4" y="736.42" width="263.6" height="2.61" fill="#dedbfe"/>
<rect x="400.4" y="738.43" width="263.6" height="2.61" fill="#dedbfe"/>
<rect x="400.4" y="740.45" width="263.6" height="2.61" fill="#dedbfe"/>
<rect x="400.4" y="742.46" width="263.6" height="2.61" fill="#dedbfe"/>
<rect x="400.4" y="744.47" width="263.6" height="2.61" fill="#dedbfe"/>
<rect x="400.4" y="746.48" width="263.6" height="2.61" fill="#dedbfe"/>
<rect x="400.4" y="748.49" width="263.6" height="2.61" fill="#dedbfe"/>
</g>
<g shape-rendering="crispEdges">
<rect x="71" y="864.3" width="263.6" height="2.6" fill="#f2f1ff"/>
<rect x="71" y="866.3" width="263.6" height="2.6" fill="#f4f3ff"/>
<rect x="71" y="868.3" width="263.6" height="2.6" fill="#f6f6ff"/>
<rect x="71" y="870.3" width="263.6" height="2.6" fill="#f9f9ff"/>
<rect x="71" y="872.3" width="263.6" height="2.6" fill="#fcfcff"/>
<rect x="71" y="874.29" width="263.6" height="2.6" fill="#ffffff"/>
<rect x="71" y="876.29" width="263.6" height="2.6" fill="#fffdfd"/>
<rect x="71" y="878.29" width="263.6" height="2.6" fill="#fffcfc"/>
<rect x="71" y="880.29" width="263.6" height="2.6" fill="#fffbfb"/>
<rect x="71" y="882.29" width="263.6" height="2.6" fill="#fffafa"/>
<rect x="71" y="884.29" width="263.6" height="2.6" fill="#fef9f9"/>
<rect x="71" y="886.29" width="263.6" height="2.6" fill="#fef8f8"/>
<rect x="71" y="888.29" width="263.6" height="2.6" fill="#fef8f8"/>
<rect x="71" y="890.28" width="263.6" height="2.6" fill="#fef7f7"/>
<rect x="71" y="892.28" width="263.6" height="2.6" fill="#fef6f6"/>
<rect x="71" y="894.28" width="263.6" height="2.6" fill="#fef5f5"/>
<rect x="71" y="896.28" width="263.6" height="2.6" fill="#fef4f4"/>
<rect x="71" y="898.28" width="263.6" height="2.6" fill="#fef3f3"/>
<rect x="71" y="900.28" width="263.6" height="2.6" fill="#fef2f2"/>
<rect x="71" y="902.28" width="263.6" height="2.6" fill="#fef0f0"/>
<rect x="71" y="904.28" width="263.6" height="2.6" fill="#feefef"/>
<rect x="71" y="906.27" width="263.6" height="2.6" fill="#fdeded"/>
<rect x="71" y="908.27" width="263.6" height="2.6" fill="#fcdddd"/>
<rect x="71" y="910.27" width="263.6" height="2.6" fill="#fde4e4"/>
<rect x="71" y="912.27" width="263.6" height="2.6" fill="#fde9e9"/>
<rect x="71" y="914.27" width="263.6" height="2.6" fill="#fde9e9"/>
<rect x="71" y="916.27" width="263.6" height="2.6" fill="#fde8e8"/>
<rect x="71" y="918.27" width="263.6" height="2.6" fill="#fde8e8"/>
<rect x="71" y="920.27" width="263.6" height="2.6" fill="#fde8e8"/>
<rect x="71" y="922.26" width="263.6" height="2.6" fill="#fde7e7"/>
<rect x="71" y="924.26" width="263.6" height="2.6" fill="#fde7e7"/>
<rect x="71" y="926.26" width="263.6" height="2.6" fill="url(#g116)"/>
<rect x="71" y="928.26" width="263.6" height="2.6" fill="url(#g117)"/>
<rect x="71" y="930.26" width="263.6" height="2.6" fill="url(#g118)"/>
<rect x="71" y="932.26" width="263.6" height="2.6" fill="url(#g119)"/>
<rect x="71" y="934.26" width="263.6" height="2.6" fill="url(#g120)"/>
<rect x="71" y="936.26" width="263.6" height="2.6" fill="url(#g121)"/>
<rect x="71" y="938.25" width="263.6" height="2.6" fill="url(#g122)"/>
<rect x="71" y="940.25" width="263.6" height="2.6" fill="url(#g123)"/>
<rect x="71" y="942.25" width="263.6" height="2.6" fill="url(#g124)"/>
<rect x="71" y="944.25" width="263.6" height="2.6" fill="url(#g125)"/>
<rect x="71" y="946.25" width="263.6" height="2.6" fill="url(#g126)"/>
<rect x="71" y="948.25" width="263.6" height="2.6" fill="url(#g127)"/>
<rect x="71" y="950.25" width="263.6" height="2.6" fill="url(#g128)"/>
<rect x="71" y="952.25" width="263.6" height="2.6" fill="url(#g129)"/>
<rect x="71" y="954.25" width="263.6" height="2.6" fill="url(#g130)"/>
<rect x="71" y="956.24" width="263.6" height="2.6" fill="url(#g131)"/>
<rect x="71" y="958.24" width="263.6" height="2.6" fill="url(#g132)"/>
<rect x="71" y="960.24" width="263.6" height="2.6" fill="url(#g133)"/>
<rect x="71" y="962.24" width="263.6" height="2.6" fill="url(#g134)"/>
<rect x="71" y="964.24" width="263.6" height="2.6" fill="url(#g135)"/>
<rect x="71" y="966.24" width="263.6" height="2.6" fill="url(#g136)"/>
<rect x="71" y="968.24" width="263.6" height="2.6" fill="url(#g137)"/>
<rect x="71" y="970.24" width="263.6" height="2.6" fill="url(#g138)"/>
<rect x="71" y="972.23" width="263.6" height="2.6" fill="url(#g139)"/>
<rect x="71" y="974.23" width="263.6" height="2.6" fill="url(#g140)"/>
<rect x="71" y="976.23" width="263.6" height="2.6" fill="url(#g141)"/>
<rect x="71" y="978.23" width="263.6" height="2.6" fill="url(#g142)"/>
<rect x="71" y="980.23" width="263.6" height="2.6" fill="url(#g143)"/>
<rect x="71" y="982.23" width="263.6" height="2.6" fill="url(#g144)"/>
<rect x="71" y="984.23" width="263.6" height="2.6" fill="url(#g145)"/>
<rect x="71" y="986.23" width="263.6" height="2.6" fill="url(#g146)"/>
<rect x="71" y="988.22" width="263.6" height="2.6" fill="url(#g147)"/>
<rect x="71" y="990.22" width="263.6" height="2.6" fill="url(#g148)"/>
<rect x="71" y="992.22" width="263.6" height="2.6" fill="#ffffff"/>
<rect x="71" y="994.22" width="263.6" height="2.6" fill="#ffffff"/>
<rect x="71" y="996.22" width="263.6" height="2.6" fill="#ffffff"/>
<rect x="71" y="998.22" width="263.6" height="2.6" fill="#ffffff"/>
<rect x="71" y="1000.22" width="263.6" height="2.6" fill="#ffffff"/>
<rect x="71" y="1002.22" width="263.6" height="2.6" fill="#ffffff"/>
<rect x="71" y="1004.21" width="263.6" height="2.6" fill="#ffffff"/>
<rect x="71" y="1006.21" width="263.6" height="2.6" fill="#ffffff"/>
<rect x="71" y="1008.21" width="263.6" height="2.6" fill="#ffffff"/>
<rect x="71" y="1010.21" width="263.6" height="2.6" fill="#ffffff"/>
<rect x="71" y="1012.21" width="263.6" height="2.6" fill="#ffffff"/>
<rect x="71" y="1014.21" width="263.6" height="2.6" fill="#ffffff"/>
<rect x="71" y="1016.21" width="263.6" height="2.6" fill="#ffffff"/>
<rect x="71" y="1018.21" width="263.6" height="2.6" fill="#ffffff"/>
<rect x="71" y="1020.2" width="263.6" height="2.6" fill="#ffffff"/>
<rect x="71" y="1022.2" width="263.6" height="2.6" fill="#ffffff"/>
<rect x="71" y="1024.2" width="263.6" height="2.6" fill="#ffffff"/>
<rect x="71" y="1026.2" width="263.6" height="2.6" fill="#ffffff"/>
</g>
<g shape-rendering="crispEdges">
<rect x="400.4" y="864.3" width="263.6" height="2.6" fill="#fafaff"/>
<rect x="400.4" y="866.3" width="263.6" height="2.6" fill="#fafaff"/>
<rect x="400.4" y="868.3" width="263.6" height="2.6" fill="#fafaff"/>
<rect x="400.4" y="870.3" width="263.6" height="2.6" fill="#faf9ff"/>
<rect x="400.4" y="872.3" width="263.6" height="2.6" fill="#f9f9ff"/>
<rect x="400.4" y="874.29" width="263.6" height="2.6" fill="#f8f8ff"/>
<rect x="400.4" y="876.29" width="263.6" height="2.6" fill="#f8f7ff"/>
<rect x="400.4" y="878.29" width="263.6" height="2.6" fill="#f7f6ff"/>
<rect x="400.4" y="880.29" width="263.6" height="2.6" fill="#f6f5ff"/>
<rect x="400.4" y="882.29" width="263.6" height="2.6" fill="#f5f4ff"/>
<rect x="400.4" y="884.29" width="263.6" height="2.6" fill="#f4f3ff"/>
<rect x="400.4" y="886.29" width="263.6" height="2.6" fill="#f4f3ff"/>
<rect x="400.4" y="888.29" width="263.6" height="2.6" fill="#f4f3ff"/>
<rect x="400.4" y="890.28" width="263.6" height="2.6" fill="#f4f3ff"/>
<rect x="400.4" y="892.28" width="263.6" height="2.6" fill="#f5f4ff"/>
<rect x="400.4" y="894.28" width="263.6" height="2.6" fill="#f6f5ff"/>
<rect x="400.4" y="896.28" width="263.6" height="2.6" fill="#f7f6ff"/>
<rect x="400.4" y="898.28" width="263.6" height="2.6" fill="#f8f7ff"/>
<rect x="400.4" y="900.28" width="263.6" height="2.6" fill="#f9f8ff"/>
<rect x="400.4" y="902.28" width="263.6" height="2.6" fill="#f9f9ff"/>
<rect x="400.4" y="904.28" width="263.6" height="2.6" fill="#faf9ff"/>
<rect x="400.4" y="906.27" width="263.6" height="2.6" fill="#fafaff"/>
<rect x="400.4" y="908.27" width="263.6" height="2.6" fill="#f8f7ff"/>
<rect x="400.4" y="910.27" width="263.6" height="2.6" fill="#efedff"/>
<rect x="400.4" y="912.27" width="263.6" height="2.6" fill="#ecebff"/>
<rect x="400.4" y="914.27" width="263.6" height="2.6" fill="#f7f6ff"/>
<rect x="400.4" y="916.27" width="263.6" height="2.6" fill="#fafaff"/>
<rect x="400.4" y="918.27" width="263.6" height="2.6" fill="#fbfaff"/>
<rect x="400.4" y="920.27" width="263.6" height="2.6" fill="#fbfaff"/>
<rect x="400.4" y="922.26" width="263.6" height="2.6" fill="#fbfaff"/>
<rect x="400.4" y="924.26" width="263.6" height="2.6" fill="#fbfaff"/>
<rect x="400.4" y="926.26" width="263.6" height="2.6" fill="#fbfaff"/>
<rect x="400.4" y="928.26" width="263.6" height="2.6" fill="url(#g149)"/>
<rect x="400.4" y="930.26" width="263.6" height="2.6" fill="url(#g150)"/>
<rect x="400.4" y="932.26" width="263.6" height="2.6" fill="url(#g151)"/>
<rect x="400.4" y="934.26" width="263.6" height="2.6" fill="url(#g152)"/>
<rect x="400.4" y="936.26" width="263.6" height="2.6" fill="url(#g153)"/>
<rect x="400.4" y="938.25" width="263.6" height="2.6" fill="url(#g154)"/>
<rect x="400.4" y="940.25" width="263.6" height="2.6" fill="url(#g155)"/>
<rect x="400.4" y="942.25" width="263.6" height="2.6" fill="url(#g156)"/>
<rect x="400.4" y="944.25" width="263.6" height="2.6" fill="url(#g157)"/>
<rect x="400.4" y="946.25" width="263.6" height="2.6" fill="url(#g158)"/>
<rect x="400.4" y="948.25" width="263.6" height="2.6" fill="url(#g159)"/>
<rect x="400.4" y="950.25" width="263.6" height="2.6" fill="url(#g160)"/>
<rect x="400.4" y="952.25" width="263.6" height="2.6" fill="url(#g161)"/>
<rect x="400.4" y="954.25" width="263.6" height="2.6" fill="url(#g162)"/>
<rect x="400.4" y="956.24" width="263.6" height="2.6" fill="url(#g163)"/>
<rect x="400.4" y="958.24" width="263.6" height="2.6" fill="url(#g164)"/>
<rect x="400.4" y="960.24" width="263.6" height="2.6" fill="url(#g165)"/>
<rect x="400.4" y="962.24" width="263.6" height="2.6" fill="url(#g166)"/>
<rect x="400.4" y="964.24" width="263.6" height="2.6" fill="url(#g167)"/>
<rect x="400.4" y="966.24" width="263.6" height="2.6" fill="url(#g168)"/>
<rect x="400.4" y="968.24" width="263.6" height="2.6" fill="url(#g169)"/>
<rect x="400.4" y="970.24" width="263.6" height="2.6" fill="url(#g170)"/>
<rect x="400.4" y="972.23" width="263.6" height="2.6" fill="url(#g171)"/>
<rect x="400.4" y="974.23" width="263.6" height="2.6" fill="url(#g172)"/>
<rect x="400.4" y="976.23" width="263.6" height="2.6" fill="url(#g173)"/>
<rect x="400.4" y="978.23" width="263.6" height="2.6" fill="url(#g174)"/>
<rect x="400.4" y="980.23" width="263.6" height="2.6" fill="url(#g175)"/>
<rect x="400.4" y="982.23" width="263.6" height="2.6" fill="url(#g176)"/>
<rect x="400.4" y="984.23" width="263.6" height="2.6" fill="url(#g177)"/>
<rect x="400.4" y="986.23" width="263.6" height="2.6" fill="url(#g178)"/>
<rect x="400.4" y="988.22" width="263.6" height="2.6" fill="url(#g179)"/>
<rect x="400.4" y="990.22" width="263.6" height="2.6" fill="url(#g180)"/>
<rect x="400.4" y="992.22" width="263.6" height="2.6" fill="url(#g181)"/>
<rect x="400.4" y="994.22" width="263.6" height="2.6" fill="url(#g182)"/>
<rect x="400.4" y="996.22" width="263.6" height="2.6" fill="url(#g183)"/>
<rect x="400.4" y="998.22" width="263.6" height="2.6" fill="#eceaff"/>
<rect x="400.4" y="1000.22" width="263.6" height="2.6" fill="#edebff"/>
<rect x="400.4" y="1002.22" width="263.6" height="2.6" fill="#edecff"/>
<rect x="400.4" y="1004.21" width="263.6" height="2.6" fill="#edecff"/>
<rect x="400.4" y="1006.21" width="263.6" height="2.6" fill="#edecff"/>
<rect x="400.4" y="1008.21" width="263.6" height="2.6" fill="#edebff"/>
<rect x="400.4" y="1010.21" width="263.6" height="2.6" fill="#edebff"/>
<rect x="400.4" y="1012.21" width="263.6" height="2.6" fill="#edebff"/>
<rect x="400.4" y="1014.21" width="263.6" height="2.6" fill="#ecebff"/>
<rect x="400.4" y="1016.21" width="263.6" height="2.6" fill="#eceaff"/>
<rect x="400.4" y="1018.21" width="263.6" height="2.6" fill="#eceaff"/>
<rect x="400.4" y="1020.2" width="263.6" height="2.6" fill="#eceaff"/>
<rect x="400.4" y="1022.2" width="263.6" height="2.6" fill="#ebeaff"/>
<rect x="400.4" y="1024.2" width="263.6" height="2.6" fill="#ebe9ff"/>
<rect x="400.4" y="1026.2" width="263.6" height="2.6" fill="#ebe9ff"/>
</g>
<rect x="71" y="301" width="263.6" height="164.3" fill="none" stroke="#1a1a1a" stroke-width="1.1"/>
<path d="M71 301v-6.5M71 465.3v6.5M76.27 301v-3.2M76.27 465.3v3.2M81.54 301v-3.2M81.54 465.3v3.2M86.82 301v-3.2M86.82 465.3v3.2M92.09 301v-3.2M92.09 465.3v3.2M97.36 301v-5M97.36 465.3v5M102.63 301v-3.2M102.63 465.3v3.2M107.9 301v-3.2M107.9 465.3v3.2M113.18 301v-3.2M113.18 465.3v3.2M118.45 301v-3.2M118.45 465.3v3.2M123.72 301v-6.5M123.72 465.3v6.5M128.99 301v-3.2M128.99 465.3v3.2M134.26 301v-3.2M134.26 465.3v3.2M139.54 301v-3.2M139.54 465.3v3.2M144.81 301v-3.2M144.81 465.3v3.2M150.08 301v-5M150.08 465.3v5M155.35 301v-3.2M155.35 465.3v3.2M160.62 301v-3.2M160.62 465.3v3.2M165.9 301v-3.2M165.9 465.3v3.2M171.17 301v-3.2M171.17 465.3v3.2M176.44 301v-6.5M176.44 465.3v6.5M181.71 301v-3.2M181.71 465.3v3.2M186.98 301v-3.2M186.98 465.3v3.2M192.26 301v-3.2M192.26 465.3v3.2M197.53 301v-3.2M197.53 465.3v3.2M202.8 301v-5M202.8 465.3v5M208.07 301v-3.2M208.07 465.3v3.2M213.34 301v-3.2M213.34 465.3v3.2M218.62 301v-3.2M218.62 465.3v3.2M223.89 301v-3.2M223.89 465.3v3.2M229.16 301v-6.5M229.16 465.3v6.5M234.43 301v-3.2M234.43 465.3v3.2M239.7 301v-3.2M239.7 465.3v3.2M244.98 301v-3.2M244.98 465.3v3.2M250.25 301v-3.2M250.25 465.3v3.2M255.52 301v-5M255.52 465.3v5M260.79 301v-3.2M260.79 465.3v3.2M266.06 301v-3.2M266.06 465.3v3.2M271.34 301v-3.2M271.34 465.3v3.2M276.61 301v-3.2M276.61 465.3v3.2M281.88 301v-6.5M281.88 465.3v6.5M287.15 301v-3.2M287.15 465.3v3.2M292.42 301v-3.2M292.42 465.3v3.2M297.7 301v-3.2M297.7 465.3v3.2M302.97 301v-3.2M302.97 465.3v3.2M308.24 301v-5M308.24 465.3v5M313.51 301v-3.2M313.51 465.3v3.2M318.78 301v-3.2M318.78 465.3v3.2M324.06 301v-3.2M324.06 465.3v3.2M329.33 301v-3.2M329.33 465.3v3.2M334.6 301v-6.5M334.6 465.3v6.5M71 301h-6.5M334.6 301h6.5M71 305.69h-3.2M334.6 305.69h3.2M71 310.39h-3.2M334.6 310.39h3.2M71 315.08h-3.2M334.6 315.08h3.2M71 319.78h-3.2M334.6 319.78h3.2M71 324.47h-5M334.6 324.47h5M71 329.17h-3.2M334.6 329.17h3.2M71 333.86h-3.2M334.6 333.86h3.2M71 338.55h-3.2M334.6 338.55h3.2M71 343.25h-3.2M334.6 343.25h3.2M71 347.94h-6.5M334.6 347.94h6.5M71 352.64h-3.2M334.6 352.64h3.2M71 357.33h-3.2M334.6 357.33h3.2M71 362.03h-3.2M334.6 362.03h3.2M71 366.72h-3.2M334.6 366.72h3.2M71 371.41h-5M334.6 371.41h5M71 376.11h-3.2M334.6 376.11h3.2M71 380.8h-3.2M334.6 380.8h3.2M71 385.5h-3.2M334.6 385.5h3.2M71 390.19h-3.2M334.6 390.19h3.2M71 394.89h-6.5M334.6 394.89h6.5M71 399.58h-3.2M334.6 399.58h3.2M71 404.27h-3.2M334.6 404.27h3.2M71 408.97h-3.2M334.6 408.97h3.2M71 413.66h-3.2M334.6 413.66h3.2M71 418.36h-5M334.6 418.36h5M71 423.05h-3.2M334.6 423.05h3.2M71 427.75h-3.2M334.6 427.75h3.2M71 432.44h-3.2M334.6 432.44h3.2M71 437.13h-3.2M334.6 437.13h3.2M71 441.83h-6.5M334.6 441.83h6.5M71 446.52h-3.2M334.6 446.52h3.2M71 451.22h-3.2M334.6 451.22h3.2M71 455.91h-3.2M334.6 455.91h3.2M71 460.61h-3.2M334.6 460.61h3.2M71 465.3h-5M334.6 465.3h5" fill="none" stroke="#222" stroke-width="1"/>
<text x="59.5" y="305.3" font-size="12.3" text-anchor="end" fill="#000" stroke="#000" stroke-width="0.3">29</text>
<text x="59.5" y="352.24" font-size="12.3" text-anchor="end" fill="#000" stroke="#000" stroke-width="0.3">28</text>
<text x="59.5" y="399.19" font-size="12.3" text-anchor="end" fill="#000" stroke="#000" stroke-width="0.3">27</text>
<text x="59.5" y="446.13" font-size="12.3" text-anchor="end" fill="#000" stroke="#000" stroke-width="0.3">26</text>
<text x="71" y="488.3" font-size="12.3" text-anchor="middle" fill="#000" stroke="#000" stroke-width="0.3">-20</text>
<text x="123.72" y="488.3" font-size="12.3" text-anchor="middle" fill="#000" stroke="#000" stroke-width="0.3">-10</text>
<text x="176.44" y="488.3" font-size="12.3" text-anchor="middle" fill="#000" stroke="#000" stroke-width="0.3">0</text>
<text x="229.16" y="488.3" font-size="12.3" text-anchor="middle" fill="#000" stroke="#000" stroke-width="0.3">10</text>
<text x="281.88" y="488.3" font-size="12.3" text-anchor="middle" fill="#000" stroke="#000" stroke-width="0.3">20</text>
<text x="334.6" y="488.3" font-size="12.3" text-anchor="middle" fill="#000" stroke="#000" stroke-width="0.3">30</text>
<rect x="400.4" y="301" width="263.6" height="164.3" fill="none" stroke="#1a1a1a" stroke-width="1.1"/>
<path d="M400.4 301v-6.5M400.4 465.3v6.5M405.67 301v-3.2M405.67 465.3v3.2M410.94 301v-3.2M410.94 465.3v3.2M416.22 301v-3.2M416.22 465.3v3.2M421.49 301v-3.2M421.49 465.3v3.2M426.76 301v-5M426.76 465.3v5M432.03 301v-3.2M432.03 465.3v3.2M437.3 301v-3.2M437.3 465.3v3.2M442.58 301v-3.2M442.58 465.3v3.2M447.85 301v-3.2M447.85 465.3v3.2M453.12 301v-6.5M453.12 465.3v6.5M458.39 301v-3.2M458.39 465.3v3.2M463.66 301v-3.2M463.66 465.3v3.2M468.94 301v-3.2M468.94 465.3v3.2M474.21 301v-3.2M474.21 465.3v3.2M479.48 301v-5M479.48 465.3v5M484.75 301v-3.2M484.75 465.3v3.2M490.02 301v-3.2M490.02 465.3v3.2M495.3 301v-3.2M495.3 465.3v3.2M500.57 301v-3.2M500.57 465.3v3.2M505.84 301v-6.5M505.84 465.3v6.5M511.11 301v-3.2M511.11 465.3v3.2M516.38 301v-3.2M516.38 465.3v3.2M521.66 301v-3.2M521.66 465.3v3.2M526.93 301v-3.2M526.93 465.3v3.2M532.2 301v-5M532.2 465.3v5M537.47 301v-3.2M537.47 465.3v3.2M542.74 301v-3.2M542.74 465.3v3.2M548.02 301v-3.2M548.02 465.3v3.2M553.29 301v-3.2M553.29 465.3v3.2M558.56 301v-6.5M558.56 465.3v6.5M563.83 301v-3.2M563.83 465.3v3.2M569.1 301v-3.2M569.1 465.3v3.2M574.38 301v-3.2M574.38 465.3v3.2M579.65 301v-3.2M579.65 465.3v3.2M584.92 301v-5M584.92 465.3v5M590.19 301v-3.2M590.19 465.3v3.2M595.46 301v-3.2M595.46 465.3v3.2M600.74 301v-3.2M600.74 465.3v3.2M606.01 301v-3.2M606.01 465.3v3.2M611.28 301v-6.5M611.28 465.3v6.5M616.55 301v-3.2M616.55 465.3v3.2M621.82 301v-3.2M621.82 465.3v3.2M627.1 301v-3.2M627.1 465.3v3.2M632.37 301v-3.2M632.37 465.3v3.2M637.64 301v-5M637.64 465.3v5M642.91 301v-3.2M642.91 465.3v3.2M648.18 301v-3.2M648.18 465.3v3.2M653.46 301v-3.2M653.46 465.3v3.2M658.73 301v-3.2M658.73 465.3v3.2M664 301v-6.5M664 465.3v6.5M400.4 301h-6.5M664 301h6.5M400.4 305.69h-3.2M664 305.69h3.2M400.4 310.39h-3.2M664 310.39h3.2M400.4 315.08h-3.2M664 315.08h3.2M400.4 319.78h-3.2M664 319.78h3.2M400.4 324.47h-5M664 324.47h5M400.4 329.17h-3.2M664 329.17h3.2M400.4 333.86h-3.2M664 333.86h3.2M400.4 338.55h-3.2M664 338.55h3.2M400.4 343.25h-3.2M664 343.25h3.2M400.4 347.94h-6.5M664 347.94h6.5M400.4 352.64h-3.2M664 352.64h3.2M400.4 357.33h-3.2M664 357.33h3.2M400.4 362.03h-3.2M664 362.03h3.2M400.4 366.72h-3.2M664 366.72h3.2M400.4 371.41h-5M664 371.41h5M400.4 376.11h-3.2M664 376.11h3.2M400.4 380.8h-3.2M664 380.8h3.2M400.4 385.5h-3.2M664 385.5h3.2M400.4 390.19h-3.2M664 390.19h3.2M400.4 394.89h-6.5M664 394.89h6.5M400.4 399.58h-3.2M664 399.58h3.2M400.4 404.27h-3.2M664 404.27h3.2M400.4 408.97h-3.2M664 408.97h3.2M400.4 413.66h-3.2M664 413.66h3.2M400.4 418.36h-5M664 418.36h5M400.4 423.05h-3.2M664 423.05h3.2M400.4 427.75h-3.2M664 427.75h3.2M400.4 432.44h-3.2M664 432.44h3.2M400.4 437.13h-3.2M664 437.13h3.2M400.4 441.83h-6.5M664 441.83h6.5M400.4 446.52h-3.2M664 446.52h3.2M400.4 451.22h-3.2M664 451.22h3.2M400.4 455.91h-3.2M664 455.91h3.2M400.4 460.61h-3.2M664 460.61h3.2M400.4 465.3h-5M664 465.3h5" fill="none" stroke="#222" stroke-width="1"/>
<text x="400.4" y="488.3" font-size="12.3" text-anchor="middle" fill="#000" stroke="#000" stroke-width="0.3">-20</text>
<text x="453.12" y="488.3" font-size="12.3" text-anchor="middle" fill="#000" stroke="#000" stroke-width="0.3">-10</text>
<text x="505.84" y="488.3" font-size="12.3" text-anchor="middle" fill="#000" stroke="#000" stroke-width="0.3">0</text>
<text x="558.56" y="488.3" font-size="12.3" text-anchor="middle" fill="#000" stroke="#000" stroke-width="0.3">10</text>
<text x="611.28" y="488.3" font-size="12.3" text-anchor="middle" fill="#000" stroke="#000" stroke-width="0.3">20</text>
<text x="664" y="488.3" font-size="12.3" text-anchor="middle" fill="#000" stroke="#000" stroke-width="0.3">30</text>
<text transform="translate(34.6 376.35) rotate(-90)" font-size="13.8" text-anchor="middle" textLength="135" lengthAdjust="spacingAndGlyphs">Photon energy  <tspan font-weight="normal" font-size="15">(</tspan>eV<tspan font-weight="normal" font-size="15">)</tspan></text>
<text x="136.4" y="507.7" font-size="13.5" textLength="37.2" lengthAdjust="spacingAndGlyphs" fill="#000" stroke="#000" stroke-width="0.3">Delay</text>
<text transform="translate(177.4 507.7) scale(1.55 1)" font-family="Liberation Serif" font-style="italic" font-size="12.5">τ</text>
<text x="186.5" y="511.9" font-size="10" font-family="Liberation Serif" font-style="italic" textLength="55.2" lengthAdjust="spacingAndGlyphs" fill="#000" stroke="#000" stroke-width="0.3">NIR−DAPs</text>
<text x="243.7" y="508.3" font-size="15.5" font-weight="normal" fill="#000">(</text>
<text x="249.7" y="508.3" font-size="14" textLength="12.6" lengthAdjust="spacingAndGlyphs" fill="#000" stroke="#000" stroke-width="0.3">fs</text>
<text x="263.3" y="508.3" font-size="15.5" font-weight="normal" fill="#000">)</text>
<text x="465.8" y="507.7" font-size="13.5" textLength="37.2" lengthAdjust="spacingAndGlyphs" fill="#000" stroke="#000" stroke-width="0.3">Delay</text>
<text transform="translate(506.8 507.7) scale(1.55 1)" font-family="Liberation Serif" font-style="italic" font-size="12.5">τ</text>
<text x="515.9" y="511.9" font-size="10" font-family="Liberation Serif" font-style="italic" textLength="55.2" lengthAdjust="spacingAndGlyphs" fill="#000" stroke="#000" stroke-width="0.3">NIR−DAPs</text>
<text x="573.1" y="508.3" font-size="15.5" font-weight="normal" fill="#000">(</text>
<text x="579.1" y="508.3" font-size="14" textLength="12.6" lengthAdjust="spacingAndGlyphs" fill="#000" stroke="#000" stroke-width="0.3">fs</text>
<text x="592.7" y="508.3" font-size="15.5" font-weight="normal" fill="#000">)</text>
<rect x="71" y="585.6" width="263.6" height="164.9" fill="none" stroke="#1a1a1a" stroke-width="1.1"/>
<path d="M71 585.6v-6.5M71 750.5v6.5M76.27 585.6v-3.2M76.27 750.5v3.2M81.54 585.6v-3.2M81.54 750.5v3.2M86.82 585.6v-3.2M86.82 750.5v3.2M92.09 585.6v-3.2M92.09 750.5v3.2M97.36 585.6v-5M97.36 750.5v5M102.63 585.6v-3.2M102.63 750.5v3.2M107.9 585.6v-3.2M107.9 750.5v3.2M113.18 585.6v-3.2M113.18 750.5v3.2M118.45 585.6v-3.2M118.45 750.5v3.2M123.72 585.6v-6.5M123.72 750.5v6.5M128.99 585.6v-3.2M128.99 750.5v3.2M134.26 585.6v-3.2M134.26 750.5v3.2M139.54 585.6v-3.2M139.54 750.5v3.2M144.81 585.6v-3.2M144.81 750.5v3.2M150.08 585.6v-5M150.08 750.5v5M155.35 585.6v-3.2M155.35 750.5v3.2M160.62 585.6v-3.2M160.62 750.5v3.2M165.9 585.6v-3.2M165.9 750.5v3.2M171.17 585.6v-3.2M171.17 750.5v3.2M176.44 585.6v-6.5M176.44 750.5v6.5M181.71 585.6v-3.2M181.71 750.5v3.2M186.98 585.6v-3.2M186.98 750.5v3.2M192.26 585.6v-3.2M192.26 750.5v3.2M197.53 585.6v-3.2M197.53 750.5v3.2M202.8 585.6v-5M202.8 750.5v5M208.07 585.6v-3.2M208.07 750.5v3.2M213.34 585.6v-3.2M213.34 750.5v3.2M218.62 585.6v-3.2M218.62 750.5v3.2M223.89 585.6v-3.2M223.89 750.5v3.2M229.16 585.6v-6.5M229.16 750.5v6.5M234.43 585.6v-3.2M234.43 750.5v3.2M239.7 585.6v-3.2M239.7 750.5v3.2M244.98 585.6v-3.2M244.98 750.5v3.2M250.25 585.6v-3.2M250.25 750.5v3.2M255.52 585.6v-5M255.52 750.5v5M260.79 585.6v-3.2M260.79 750.5v3.2M266.06 585.6v-3.2M266.06 750.5v3.2M271.34 585.6v-3.2M271.34 750.5v3.2M276.61 585.6v-3.2M276.61 750.5v3.2M281.88 585.6v-6.5M281.88 750.5v6.5M287.15 585.6v-3.2M287.15 750.5v3.2M292.42 585.6v-3.2M292.42 750.5v3.2M297.7 585.6v-3.2M297.7 750.5v3.2M302.97 585.6v-3.2M302.97 750.5v3.2M308.24 585.6v-5M308.24 750.5v5M313.51 585.6v-3.2M313.51 750.5v3.2M318.78 585.6v-3.2M318.78 750.5v3.2M324.06 585.6v-3.2M324.06 750.5v3.2M329.33 585.6v-3.2M329.33 750.5v3.2M334.6 585.6v-6.5M334.6 750.5v6.5M71 585.6h-6.5M334.6 585.6h6.5M71 590.31h-3.2M334.6 590.31h3.2M71 595.02h-3.2M334.6 595.02h3.2M71 599.73h-3.2M334.6 599.73h3.2M71 604.45h-3.2M334.6 604.45h3.2M71 609.16h-5M334.6 609.16h5M71 613.87h-3.2M334.6 613.87h3.2M71 618.58h-3.2M334.6 618.58h3.2M71 623.29h-3.2M334.6 623.29h3.2M71 628h-3.2M334.6 628h3.2M71 632.71h-6.5M334.6 632.71h6.5M71 637.43h-3.2M334.6 637.43h3.2M71 642.14h-3.2M334.6 642.14h3.2M71 646.85h-3.2M334.6 646.85h3.2M71 651.56h-3.2M334.6 651.56h3.2M71 656.27h-5M334.6 656.27h5M71 660.98h-3.2M334.6 660.98h3.2M71 665.69h-3.2M334.6 665.69h3.2M71 670.41h-3.2M334.6 670.41h3.2M71 675.12h-3.2M334.6 675.12h3.2M71 679.83h-6.5M334.6 679.83h6.5M71 684.54h-3.2M334.6 684.54h3.2M71 689.25h-3.2M334.6 689.25h3.2M71 693.96h-3.2M334.6 693.96h3.2M71 698.67h-3.2M334.6 698.67h3.2M71 703.39h-5M334.6 703.39h5M71 708.1h-3.2M334.6 708.1h3.2M71 712.81h-3.2M334.6 712.81h3.2M71 717.52h-3.2M334.6 717.52h3.2M71 722.23h-3.2M334.6 722.23h3.2M71 726.94h-6.5M334.6 726.94h6.5M71 731.65h-3.2M334.6 731.65h3.2M71 736.37h-3.2M334.6 736.37h3.2M71 741.08h-3.2M334.6 741.08h3.2M71 745.79h-3.2M334.6 745.79h3.2M71 750.5h-5M334.6 750.5h5" fill="none" stroke="#222" stroke-width="1"/>
<text x="59.5" y="589.9" font-size="12.3" text-anchor="end" fill="#000" stroke="#000" stroke-width="0.3">29</text>
<text x="59.5" y="637.01" font-size="12.3" text-anchor="end" fill="#000" stroke="#000" stroke-width="0.3">28</text>
<text x="59.5" y="684.13" font-size="12.3" text-anchor="end" fill="#000" stroke="#000" stroke-width="0.3">27</text>
<text x="59.5" y="731.24" font-size="12.3" text-anchor="end" fill="#000" stroke="#000" stroke-width="0.3">26</text>
<text x="71" y="773.5" font-size="12.3" text-anchor="middle" fill="#000" stroke="#000" stroke-width="0.3">-20</text>
<text x="123.72" y="773.5" font-size="12.3" text-anchor="middle" fill="#000" stroke="#000" stroke-width="0.3">-10</text>
<text x="176.44" y="773.5" font-size="12.3" text-anchor="middle" fill="#000" stroke="#000" stroke-width="0.3">0</text>
<text x="229.16" y="773.5" font-size="12.3" text-anchor="middle" fill="#000" stroke="#000" stroke-width="0.3">10</text>
<text x="281.88" y="773.5" font-size="12.3" text-anchor="middle" fill="#000" stroke="#000" stroke-width="0.3">20</text>
<text x="334.6" y="773.5" font-size="12.3" text-anchor="middle" fill="#000" stroke="#000" stroke-width="0.3">30</text>
<rect x="400.4" y="585.6" width="263.6" height="164.9" fill="none" stroke="#1a1a1a" stroke-width="1.1"/>
<path d="M400.4 585.6v-6.5M400.4 750.5v6.5M405.67 585.6v-3.2M405.67 750.5v3.2M410.94 585.6v-3.2M410.94 750.5v3.2M416.22 585.6v-3.2M416.22 750.5v3.2M421.49 585.6v-3.2M421.49 750.5v3.2M426.76 585.6v-5M426.76 750.5v5M432.03 585.6v-3.2M432.03 750.5v3.2M437.3 585.6v-3.2M437.3 750.5v3.2M442.58 585.6v-3.2M442.58 750.5v3.2M447.85 585.6v-3.2M447.85 750.5v3.2M453.12 585.6v-6.5M453.12 750.5v6.5M458.39 585.6v-3.2M458.39 750.5v3.2M463.66 585.6v-3.2M463.66 750.5v3.2M468.94 585.6v-3.2M468.94 750.5v3.2M474.21 585.6v-3.2M474.21 750.5v3.2M479.48 585.6v-5M479.48 750.5v5M484.75 585.6v-3.2M484.75 750.5v3.2M490.02 585.6v-3.2M490.02 750.5v3.2M495.3 585.6v-3.2M495.3 750.5v3.2M500.57 585.6v-3.2M500.57 750.5v3.2M505.84 585.6v-6.5M505.84 750.5v6.5M511.11 585.6v-3.2M511.11 750.5v3.2M516.38 585.6v-3.2M516.38 750.5v3.2M521.66 585.6v-3.2M521.66 750.5v3.2M526.93 585.6v-3.2M526.93 750.5v3.2M532.2 585.6v-5M532.2 750.5v5M537.47 585.6v-3.2M537.47 750.5v3.2M542.74 585.6v-3.2M542.74 750.5v3.2M548.02 585.6v-3.2M548.02 750.5v3.2M553.29 585.6v-3.2M553.29 750.5v3.2M558.56 585.6v-6.5M558.56 750.5v6.5M563.83 585.6v-3.2M563.83 750.5v3.2M569.1 585.6v-3.2M569.1 750.5v3.2M574.38 585.6v-3.2M574.38 750.5v3.2M579.65 585.6v-3.2M579.65 750.5v3.2M584.92 585.6v-5M584.92 750.5v5M590.19 585.6v-3.2M590.19 750.5v3.2M595.46 585.6v-3.2M595.46 750.5v3.2M600.74 585.6v-3.2M600.74 750.5v3.2M606.01 585.6v-3.2M606.01 750.5v3.2M611.28 585.6v-6.5M611.28 750.5v6.5M616.55 585.6v-3.2M616.55 750.5v3.2M621.82 585.6v-3.2M621.82 750.5v3.2M627.1 585.6v-3.2M627.1 750.5v3.2M632.37 585.6v-3.2M632.37 750.5v3.2M637.64 585.6v-5M637.64 750.5v5M642.91 585.6v-3.2M642.91 750.5v3.2M648.18 585.6v-3.2M648.18 750.5v3.2M653.46 585.6v-3.2M653.46 750.5v3.2M658.73 585.6v-3.2M658.73 750.5v3.2M664 585.6v-6.5M664 750.5v6.5M400.4 585.6h-6.5M664 585.6h6.5M400.4 590.31h-3.2M664 590.31h3.2M400.4 595.02h-3.2M664 595.02h3.2M400.4 599.73h-3.2M664 599.73h3.2M400.4 604.45h-3.2M664 604.45h3.2M400.4 609.16h-5M664 609.16h5M400.4 613.87h-3.2M664 613.87h3.2M400.4 618.58h-3.2M664 618.58h3.2M400.4 623.29h-3.2M664 623.29h3.2M400.4 628h-3.2M664 628h3.2M400.4 632.71h-6.5M664 632.71h6.5M400.4 637.43h-3.2M664 637.43h3.2M400.4 642.14h-3.2M664 642.14h3.2M400.4 646.85h-3.2M664 646.85h3.2M400.4 651.56h-3.2M664 651.56h3.2M400.4 656.27h-5M664 656.27h5M400.4 660.98h-3.2M664 660.98h3.2M400.4 665.69h-3.2M664 665.69h3.2M400.4 670.41h-3.2M664 670.41h3.2M400.4 675.12h-3.2M664 675.12h3.2M400.4 679.83h-6.5M664 679.83h6.5M400.4 684.54h-3.2M664 684.54h3.2M400.4 689.25h-3.2M664 689.25h3.2M400.4 693.96h-3.2M664 693.96h3.2M400.4 698.67h-3.2M664 698.67h3.2M400.4 703.39h-5M664 703.39h5M400.4 708.1h-3.2M664 708.1h3.2M400.4 712.81h-3.2M664 712.81h3.2M400.4 717.52h-3.2M664 717.52h3.2M400.4 722.23h-3.2M664 722.23h3.2M400.4 726.94h-6.5M664 726.94h6.5M400.4 731.65h-3.2M664 731.65h3.2M400.4 736.37h-3.2M664 736.37h3.2M400.4 741.08h-3.2M664 741.08h3.2M400.4 745.79h-3.2M664 745.79h3.2M400.4 750.5h-5M664 750.5h5" fill="none" stroke="#222" stroke-width="1"/>
<text x="400.4" y="773.5" font-size="12.3" text-anchor="middle" fill="#000" stroke="#000" stroke-width="0.3">-20</text>
<text x="453.12" y="773.5" font-size="12.3" text-anchor="middle" fill="#000" stroke="#000" stroke-width="0.3">-10</text>
<text x="505.84" y="773.5" font-size="12.3" text-anchor="middle" fill="#000" stroke="#000" stroke-width="0.3">0</text>
<text x="558.56" y="773.5" font-size="12.3" text-anchor="middle" fill="#000" stroke="#000" stroke-width="0.3">10</text>
<text x="611.28" y="773.5" font-size="12.3" text-anchor="middle" fill="#000" stroke="#000" stroke-width="0.3">20</text>
<text x="664" y="773.5" font-size="12.3" text-anchor="middle" fill="#000" stroke="#000" stroke-width="0.3">30</text>
<text transform="translate(34.6 661.25) rotate(-90)" font-size="13.8" text-anchor="middle" textLength="135" lengthAdjust="spacingAndGlyphs">Photon energy  <tspan font-weight="normal" font-size="15">(</tspan>eV<tspan font-weight="normal" font-size="15">)</tspan></text>
<text x="136.4" y="792.9" font-size="13.5" textLength="37.2" lengthAdjust="spacingAndGlyphs" fill="#000" stroke="#000" stroke-width="0.3">Delay</text>
<text transform="translate(177.4 792.9) scale(1.55 1)" font-family="Liberation Serif" font-style="italic" font-size="12.5">τ</text>
<text x="186.5" y="797.1" font-size="10" font-family="Liberation Serif" font-style="italic" textLength="55.2" lengthAdjust="spacingAndGlyphs" fill="#000" stroke="#000" stroke-width="0.3">NIR−DAPs</text>
<text x="243.7" y="793.5" font-size="15.5" font-weight="normal" fill="#000">(</text>
<text x="249.7" y="793.5" font-size="14" textLength="12.6" lengthAdjust="spacingAndGlyphs" fill="#000" stroke="#000" stroke-width="0.3">fs</text>
<text x="263.3" y="793.5" font-size="15.5" font-weight="normal" fill="#000">)</text>
<text x="465.8" y="792.9" font-size="13.5" textLength="37.2" lengthAdjust="spacingAndGlyphs" fill="#000" stroke="#000" stroke-width="0.3">Delay</text>
<text transform="translate(506.8 792.9) scale(1.55 1)" font-family="Liberation Serif" font-style="italic" font-size="12.5">τ</text>
<text x="515.9" y="797.1" font-size="10" font-family="Liberation Serif" font-style="italic" textLength="55.2" lengthAdjust="spacingAndGlyphs" fill="#000" stroke="#000" stroke-width="0.3">NIR−DAPs</text>
<text x="573.1" y="793.5" font-size="15.5" font-weight="normal" fill="#000">(</text>
<text x="579.1" y="793.5" font-size="14" textLength="12.6" lengthAdjust="spacingAndGlyphs" fill="#000" stroke="#000" stroke-width="0.3">fs</text>
<text x="592.7" y="793.5" font-size="15.5" font-weight="normal" fill="#000">)</text>
<rect x="71" y="864.3" width="263.6" height="163.9" fill="none" stroke="#1a1a1a" stroke-width="1.1"/>
<path d="M71 864.3v-6.5M71 1028.2v6.5M76.27 864.3v-3.2M76.27 1028.2v3.2M81.54 864.3v-3.2M81.54 1028.2v3.2M86.82 864.3v-3.2M86.82 1028.2v3.2M92.09 864.3v-3.2M92.09 1028.2v3.2M97.36 864.3v-5M97.36 1028.2v5M102.63 864.3v-3.2M102.63 1028.2v3.2M107.9 864.3v-3.2M107.9 1028.2v3.2M113.18 864.3v-3.2M113.18 1028.2v3.2M118.45 864.3v-3.2M118.45 1028.2v3.2M123.72 864.3v-6.5M123.72 1028.2v6.5M128.99 864.3v-3.2M128.99 1028.2v3.2M134.26 864.3v-3.2M134.26 1028.2v3.2M139.54 864.3v-3.2M139.54 1028.2v3.2M144.81 864.3v-3.2M144.81 1028.2v3.2M150.08 864.3v-5M150.08 1028.2v5M155.35 864.3v-3.2M155.35 1028.2v3.2M160.62 864.3v-3.2M160.62 1028.2v3.2M165.9 864.3v-3.2M165.9 1028.2v3.2M171.17 864.3v-3.2M171.17 1028.2v3.2M176.44 864.3v-6.5M176.44 1028.2v6.5M181.71 864.3v-3.2M181.71 1028.2v3.2M186.98 864.3v-3.2M186.98 1028.2v3.2M192.26 864.3v-3.2M192.26 1028.2v3.2M197.53 864.3v-3.2M197.53 1028.2v3.2M202.8 864.3v-5M202.8 1028.2v5M208.07 864.3v-3.2M208.07 1028.2v3.2M213.34 864.3v-3.2M213.34 1028.2v3.2M218.62 864.3v-3.2M218.62 1028.2v3.2M223.89 864.3v-3.2M223.89 1028.2v3.2M229.16 864.3v-6.5M229.16 1028.2v6.5M234.43 864.3v-3.2M234.43 1028.2v3.2M239.7 864.3v-3.2M239.7 1028.2v3.2M244.98 864.3v-3.2M244.98 1028.2v3.2M250.25 864.3v-3.2M250.25 1028.2v3.2M255.52 864.3v-5M255.52 1028.2v5M260.79 864.3v-3.2M260.79 1028.2v3.2M266.06 864.3v-3.2M266.06 1028.2v3.2M271.34 864.3v-3.2M271.34 1028.2v3.2M276.61 864.3v-3.2M276.61 1028.2v3.2M281.88 864.3v-6.5M281.88 1028.2v6.5M287.15 864.3v-3.2M287.15 1028.2v3.2M292.42 864.3v-3.2M292.42 1028.2v3.2M297.7 864.3v-3.2M297.7 1028.2v3.2M302.97 864.3v-3.2M302.97 1028.2v3.2M308.24 864.3v-5M308.24 1028.2v5M313.51 864.3v-3.2M313.51 1028.2v3.2M318.78 864.3v-3.2M318.78 1028.2v3.2M324.06 864.3v-3.2M324.06 1028.2v3.2M329.33 864.3v-3.2M329.33 1028.2v3.2M334.6 864.3v-6.5M334.6 1028.2v6.5M71 864.3h-6.5M334.6 864.3h6.5M71 868.98h-3.2M334.6 868.98h3.2M71 873.67h-3.2M334.6 873.67h3.2M71 878.35h-3.2M334.6 878.35h3.2M71 883.03h-3.2M334.6 883.03h3.2M71 887.71h-5M334.6 887.71h5M71 892.4h-3.2M334.6 892.4h3.2M71 897.08h-3.2M334.6 897.08h3.2M71 901.76h-3.2M334.6 901.76h3.2M71 906.45h-3.2M334.6 906.45h3.2M71 911.13h-6.5M334.6 911.13h6.5M71 915.81h-3.2M334.6 915.81h3.2M71 920.49h-3.2M334.6 920.49h3.2M71 925.18h-3.2M334.6 925.18h3.2M71 929.86h-3.2M334.6 929.86h3.2M71 934.54h-5M334.6 934.54h5M71 939.23h-3.2M334.6 939.23h3.2M71 943.91h-3.2M334.6 943.91h3.2M71 948.59h-3.2M334.6 948.59h3.2M71 953.27h-3.2M334.6 953.27h3.2M71 957.96h-6.5M334.6 957.96h6.5M71 962.64h-3.2M334.6 962.64h3.2M71 967.32h-3.2M334.6 967.32h3.2M71 972.01h-3.2M334.6 972.01h3.2M71 976.69h-3.2M334.6 976.69h3.2M71 981.37h-5M334.6 981.37h5M71 986.05h-3.2M334.6 986.05h3.2M71 990.74h-3.2M334.6 990.74h3.2M71 995.42h-3.2M334.6 995.42h3.2M71 1000.1h-3.2M334.6 1000.1h3.2M71 1004.79h-6.5M334.6 1004.79h6.5M71 1009.47h-3.2M334.6 1009.47h3.2M71 1014.15h-3.2M334.6 1014.15h3.2M71 1018.83h-3.2M334.6 1018.83h3.2M71 1023.52h-3.2M334.6 1023.52h3.2M71 1028.2h-5M334.6 1028.2h5" fill="none" stroke="#222" stroke-width="1"/>
<text x="59.5" y="868.6" font-size="12.3" text-anchor="end" fill="#000" stroke="#000" stroke-width="0.3">29</text>
<text x="59.5" y="915.43" font-size="12.3" text-anchor="end" fill="#000" stroke="#000" stroke-width="0.3">28</text>
<text x="59.5" y="962.26" font-size="12.3" text-anchor="end" fill="#000" stroke="#000" stroke-width="0.3">27</text>
<text x="59.5" y="1009.09" font-size="12.3" text-anchor="end" fill="#000" stroke="#000" stroke-width="0.3">26</text>
<text x="71" y="1051.2" font-size="12.3" text-anchor="middle" fill="#000" stroke="#000" stroke-width="0.3">-20</text>
<text x="123.72" y="1051.2" font-size="12.3" text-anchor="middle" fill="#000" stroke="#000" stroke-width="0.3">-10</text>
<text x="176.44" y="1051.2" font-size="12.3" text-anchor="middle" fill="#000" stroke="#000" stroke-width="0.3">0</text>
<text x="229.16" y="1051.2" font-size="12.3" text-anchor="middle" fill="#000" stroke="#000" stroke-width="0.3">10</text>
<text x="281.88" y="1051.2" font-size="12.3" text-anchor="middle" fill="#000" stroke="#000" stroke-width="0.3">20</text>
<text x="334.6" y="1051.2" font-size="12.3" text-anchor="middle" fill="#000" stroke="#000" stroke-width="0.3">30</text>
<rect x="400.4" y="864.3" width="263.6" height="163.9" fill="none" stroke="#1a1a1a" stroke-width="1.1"/>
<path d="M400.4 864.3v-6.5M400.4 1028.2v6.5M405.67 864.3v-3.2M405.67 1028.2v3.2M410.94 864.3v-3.2M410.94 1028.2v3.2M416.22 864.3v-3.2M416.22 1028.2v3.2M421.49 864.3v-3.2M421.49 1028.2v3.2M426.76 864.3v-5M426.76 1028.2v5M432.03 864.3v-3.2M432.03 1028.2v3.2M437.3 864.3v-3.2M437.3 1028.2v3.2M442.58 864.3v-3.2M442.58 1028.2v3.2M447.85 864.3v-3.2M447.85 1028.2v3.2M453.12 864.3v-6.5M453.12 1028.2v6.5M458.39 864.3v-3.2M458.39 1028.2v3.2M463.66 864.3v-3.2M463.66 1028.2v3.2M468.94 864.3v-3.2M468.94 1028.2v3.2M474.21 864.3v-3.2M474.21 1028.2v3.2M479.48 864.3v-5M479.48 1028.2v5M484.75 864.3v-3.2M484.75 1028.2v3.2M490.02 864.3v-3.2M490.02 1028.2v3.2M495.3 864.3v-3.2M495.3 1028.2v3.2M500.57 864.3v-3.2M500.57 1028.2v3.2M505.84 864.3v-6.5M505.84 1028.2v6.5M511.11 864.3v-3.2M511.11 1028.2v3.2M516.38 864.3v-3.2M516.38 1028.2v3.2M521.66 864.3v-3.2M521.66 1028.2v3.2M526.93 864.3v-3.2M526.93 1028.2v3.2M532.2 864.3v-5M532.2 1028.2v5M537.47 864.3v-3.2M537.47 1028.2v3.2M542.74 864.3v-3.2M542.74 1028.2v3.2M548.02 864.3v-3.2M548.02 1028.2v3.2M553.29 864.3v-3.2M553.29 1028.2v3.2M558.56 864.3v-6.5M558.56 1028.2v6.5M563.83 864.3v-3.2M563.83 1028.2v3.2M569.1 864.3v-3.2M569.1 1028.2v3.2M574.38 864.3v-3.2M574.38 1028.2v3.2M579.65 864.3v-3.2M579.65 1028.2v3.2M584.92 864.3v-5M584.92 1028.2v5M590.19 864.3v-3.2M590.19 1028.2v3.2M595.46 864.3v-3.2M595.46 1028.2v3.2M600.74 864.3v-3.2M600.74 1028.2v3.2M606.01 864.3v-3.2M606.01 1028.2v3.2M611.28 864.3v-6.5M611.28 1028.2v6.5M616.55 864.3v-3.2M616.55 1028.2v3.2M621.82 864.3v-3.2M621.82 1028.2v3.2M627.1 864.3v-3.2M627.1 1028.2v3.2M632.37 864.3v-3.2M632.37 1028.2v3.2M637.64 864.3v-5M637.64 1028.2v5M642.91 864.3v-3.2M642.91 1028.2v3.2M648.18 864.3v-3.2M648.18 1028.2v3.2M653.46 864.3v-3.2M653.46 1028.2v3.2M658.73 864.3v-3.2M658.73 1028.2v3.2M664 864.3v-6.5M664 1028.2v6.5M400.4 864.3h-6.5M664 864.3h6.5M400.4 868.98h-3.2M664 868.98h3.2M400.4 873.67h-3.2M664 873.67h3.2M400.4 878.35h-3.2M664 878.35h3.2M400.4 883.03h-3.2M664 883.03h3.2M400.4 887.71h-5M664 887.71h5M400.4 892.4h-3.2M664 892.4h3.2M400.4 897.08h-3.2M664 897.08h3.2M400.4 901.76h-3.2M664 901.76h3.2M400.4 906.45h-3.2M664 906.45h3.2M400.4 911.13h-6.5M664 911.13h6.5M400.4 915.81h-3.2M664 915.81h3.2M400.4 920.49h-3.2M664 920.49h3.2M400.4 925.18h-3.2M664 925.18h3.2M400.4 929.86h-3.2M664 929.86h3.2M400.4 934.54h-5M664 934.54h5M400.4 939.23h-3.2M664 939.23h3.2M400.4 943.91h-3.2M664 943.91h3.2M400.4 948.59h-3.2M664 948.59h3.2M400.4 953.27h-3.2M664 953.27h3.2M400.4 957.96h-6.5M664 957.96h6.5M400.4 962.64h-3.2M664 962.64h3.2M400.4 967.32h-3.2M664 967.32h3.2M400.4 972.01h-3.2M664 972.01h3.2M400.4 976.69h-3.2M664 976.69h3.2M400.4 981.37h-5M664 981.37h5M400.4 986.05h-3.2M664 986.05h3.2M400.4 990.74h-3.2M664 990.74h3.2M400.4 995.42h-3.2M664 995.42h3.2M400.4 1000.1h-3.2M664 1000.1h3.2M400.4 1004.79h-6.5M664 1004.79h6.5M400.4 1009.47h-3.2M664 1009.47h3.2M400.4 1014.15h-3.2M664 1014.15h3.2M400.4 1018.83h-3.2M664 1018.83h3.2M400.4 1023.52h-3.2M664 1023.52h3.2M400.4 1028.2h-5M664 1028.2h5" fill="none" stroke="#222" stroke-width="1"/>
<text x="400.4" y="1051.2" font-size="12.3" text-anchor="middle" fill="#000" stroke="#000" stroke-width="0.3">-20</text>
<text x="453.12" y="1051.2" font-size="12.3" text-anchor="middle" fill="#000" stroke="#000" stroke-width="0.3">-10</text>
<text x="505.84" y="1051.2" font-size="12.3" text-anchor="middle" fill="#000" stroke="#000" stroke-width="0.3">0</text>
<text x="558.56" y="1051.2" font-size="12.3" text-anchor="middle" fill="#000" stroke="#000" stroke-width="0.3">10</text>
<text x="611.28" y="1051.2" font-size="12.3" text-anchor="middle" fill="#000" stroke="#000" stroke-width="0.3">20</text>
<text x="664" y="1051.2" font-size="12.3" text-anchor="middle" fill="#000" stroke="#000" stroke-width="0.3">30</text>
<text transform="translate(34.6 939.45) rotate(-90)" font-size="13.8" text-anchor="middle" textLength="135" lengthAdjust="spacingAndGlyphs">Photon energy  <tspan font-weight="normal" font-size="15">(</tspan>eV<tspan font-weight="normal" font-size="15">)</tspan></text>
<text x="136.4" y="1070.6" font-size="13.5" textLength="37.2" lengthAdjust="spacingAndGlyphs" fill="#000" stroke="#000" stroke-width="0.3">Delay</text>
<text transform="translate(177.4 1070.6) scale(1.55 1)" font-family="Liberation Serif" font-style="italic" font-size="12.5">τ</text>
<text x="186.5" y="1074.8" font-size="10" font-family="Liberation Serif" font-style="italic" textLength="55.2" lengthAdjust="spacingAndGlyphs" fill="#000" stroke="#000" stroke-width="0.3">NIR−DAPs</text>
<text x="243.7" y="1071.2" font-size="15.5" font-weight="normal" fill="#000">(</text>
<text x="249.7" y="1071.2" font-size="14" textLength="12.6" lengthAdjust="spacingAndGlyphs" fill="#000" stroke="#000" stroke-width="0.3">fs</text>
<text x="263.3" y="1071.2" font-size="15.5" font-weight="normal" fill="#000">)</text>
<text x="465.8" y="1070.6" font-size="13.5" textLength="37.2" lengthAdjust="spacingAndGlyphs" fill="#000" stroke="#000" stroke-width="0.3">Delay</text>
<text transform="translate(506.8 1070.6) scale(1.55 1)" font-family="Liberation Serif" font-style="italic" font-size="12.5">τ</text>
<text x="515.9" y="1074.8" font-size="10" font-family="Liberation Serif" font-style="italic" textLength="55.2" lengthAdjust="spacingAndGlyphs" fill="#000" stroke="#000" stroke-width="0.3">NIR−DAPs</text>
<text x="573.1" y="1071.2" font-size="15.5" font-weight="normal" fill="#000">(</text>
<text x="579.1" y="1071.2" font-size="14" textLength="12.6" lengthAdjust="spacingAndGlyphs" fill="#000" stroke="#000" stroke-width="0.3">fs</text>
<text x="592.7" y="1071.2" font-size="15.5" font-weight="normal" fill="#000">)</text>
<rect x="71" y="875" width="5.57" height="2.4" fill="#fcdede" shape-rendering="crispEdges"/>
<rect x="81.54" y="875" width="5.57" height="2.4" fill="#d0ccfe" shape-rendering="crispEdges"/>
<rect x="92.09" y="875" width="5.57" height="2.4" fill="#d1cdfe" shape-rendering="crispEdges"/>
<rect x="97.36" y="875" width="5.57" height="2.4" fill="#d4d0fe" shape-rendering="crispEdges"/>
<rect x="102.63" y="875" width="5.57" height="2.4" fill="#e1defe" shape-rendering="crispEdges"/>
<rect x="118.45" y="875" width="5.57" height="2.4" fill="#dcd9fe" shape-rendering="crispEdges"/>
<rect x="150.08" y="875" width="5.57" height="2.4" fill="#c4bffe" shape-rendering="crispEdges"/>
<rect x="155.35" y="875" width="5.57" height="2.4" fill="#fcdede" shape-rendering="crispEdges"/>
<rect x="160.62" y="875" width="5.57" height="2.4" fill="#d9d5fe" shape-rendering="crispEdges"/>
<rect x="171.17" y="875" width="5.57" height="2.4" fill="#fbcece" shape-rendering="crispEdges"/>
<rect x="192.26" y="875" width="5.57" height="2.4" fill="#e2dffe" shape-rendering="crispEdges"/>
<rect x="197.53" y="875" width="5.57" height="2.4" fill="#fbcaca" shape-rendering="crispEdges"/>
<rect x="208.07" y="875" width="5.57" height="2.4" fill="#fbcdcd" shape-rendering="crispEdges"/>
<rect x="218.62" y="875" width="5.57" height="2.4" fill="#fac5c5" shape-rendering="crispEdges"/>
<rect x="229.16" y="875" width="5.57" height="2.4" fill="#fbcece" shape-rendering="crispEdges"/>
<rect x="250.25" y="875" width="5.57" height="2.4" fill="#fabebe" shape-rendering="crispEdges"/>
<rect x="255.52" y="875" width="5.57" height="2.4" fill="#d5d1fe" shape-rendering="crispEdges"/>
<rect x="266.06" y="875" width="5.57" height="2.4" fill="#d2cefe" shape-rendering="crispEdges"/>
<rect x="271.34" y="875" width="5.57" height="2.4" fill="#cbc7fe" shape-rendering="crispEdges"/>
<rect x="292.42" y="875" width="5.57" height="2.4" fill="#fbc9c9" shape-rendering="crispEdges"/>
<rect x="71" y="877.4" width="5.57" height="2.4" fill="#bdb7fe" shape-rendering="crispEdges"/>
<rect x="92.09" y="877.4" width="5.57" height="2.4" fill="#fbcbcb" shape-rendering="crispEdges"/>
<rect x="102.63" y="877.4" width="5.57" height="2.4" fill="#c8c3fe" shape-rendering="crispEdges"/>
<rect x="107.9" y="877.4" width="5.57" height="2.4" fill="#d8d5fe" shape-rendering="crispEdges"/>
<rect x="113.18" y="877.4" width="5.57" height="2.4" fill="#bab3fd" shape-rendering="crispEdges"/>
<rect x="118.45" y="877.4" width="5.57" height="2.4" fill="#d2cefe" shape-rendering="crispEdges"/>
<rect x="123.72" y="877.4" width="5.57" height="2.4" fill="#f9b3b3" shape-rendering="crispEdges"/>
<rect x="128.99" y="877.4" width="5.57" height="2.4" fill="#c9c4fe" shape-rendering="crispEdges"/>
<rect x="155.35" y="877.4" width="5.57" height="2.4" fill="#fac9c9" shape-rendering="crispEdges"/>
<rect x="160.62" y="877.4" width="5.57" height="2.4" fill="#f9b3b3" shape-rendering="crispEdges"/>
<rect x="171.17" y="877.4" width="5.57" height="2.4" fill="#d5d2fe" shape-rendering="crispEdges"/>
<rect x="176.44" y="877.4" width="5.57" height="2.4" fill="#fbd2d2" shape-rendering="crispEdges"/>
<rect x="192.26" y="877.4" width="5.57" height="2.4" fill="#fcdddd" shape-rendering="crispEdges"/>
<rect x="202.8" y="877.4" width="5.57" height="2.4" fill="#fac2c2" shape-rendering="crispEdges"/>
<rect x="234.43" y="877.4" width="5.57" height="2.4" fill="#b3adfd" shape-rendering="crispEdges"/>
<rect x="255.52" y="877.4" width="5.57" height="2.4" fill="#fbcaca" shape-rendering="crispEdges"/>
<rect x="260.79" y="877.4" width="5.57" height="2.4" fill="#c0bafe" shape-rendering="crispEdges"/>
<rect x="266.06" y="877.4" width="5.57" height="2.4" fill="#dad7fe" shape-rendering="crispEdges"/>
<rect x="271.34" y="877.4" width="5.57" height="2.4" fill="#fcd5d5" shape-rendering="crispEdges"/>
<rect x="276.61" y="877.4" width="5.57" height="2.4" fill="#fcdada" shape-rendering="crispEdges"/>
<rect x="281.88" y="877.4" width="5.57" height="2.4" fill="#d6d3fe" shape-rendering="crispEdges"/>
<rect x="287.15" y="877.4" width="5.57" height="2.4" fill="#cdc8fe" shape-rendering="crispEdges"/>
<rect x="292.42" y="877.4" width="5.57" height="2.4" fill="#b5aefd" shape-rendering="crispEdges"/>
<rect x="302.97" y="877.4" width="5.57" height="2.4" fill="#d2cefe" shape-rendering="crispEdges"/>
<rect x="308.24" y="877.4" width="5.57" height="2.4" fill="#fbcccc" shape-rendering="crispEdges"/>
<rect x="313.51" y="877.4" width="5.57" height="2.4" fill="#b6affd" shape-rendering="crispEdges"/>
<rect x="71" y="879.8" width="5.57" height="2.5" fill="#b3acfd" shape-rendering="crispEdges"/>
<rect x="76.27" y="879.8" width="5.57" height="2.5" fill="#f7a2a2" shape-rendering="crispEdges"/>
<rect x="86.82" y="879.8" width="5.57" height="2.5" fill="#bab4fd" shape-rendering="crispEdges"/>
<rect x="97.36" y="879.8" width="5.57" height="2.5" fill="#f8adad" shape-rendering="crispEdges"/>
<rect x="102.63" y="879.8" width="5.57" height="2.5" fill="#f9b8b8" shape-rendering="crispEdges"/>
<rect x="107.9" y="879.8" width="5.57" height="2.5" fill="#f15e5e" shape-rendering="crispEdges"/>
<rect x="123.72" y="879.8" width="5.57" height="2.5" fill="#9a91fd" shape-rendering="crispEdges"/>
<rect x="128.99" y="879.8" width="5.57" height="2.5" fill="#7467fc" shape-rendering="crispEdges"/>
<rect x="134.26" y="879.8" width="5.57" height="2.5" fill="#f37171" shape-rendering="crispEdges"/>
<rect x="139.54" y="879.8" width="5.57" height="2.5" fill="#f8a6a6" shape-rendering="crispEdges"/>
<rect x="176.44" y="879.8" width="5.57" height="2.5" fill="#8c81fc" shape-rendering="crispEdges"/>
<rect x="181.71" y="879.8" width="5.57" height="2.5" fill="#f9b8b8" shape-rendering="crispEdges"/>
<rect x="186.98" y="879.8" width="5.57" height="2.5" fill="#a29afd" shape-rendering="crispEdges"/>
<rect x="192.26" y="879.8" width="5.57" height="2.5" fill="#7b6ffc" shape-rendering="crispEdges"/>
<rect x="202.8" y="879.8" width="5.57" height="2.5" fill="#f26262" shape-rendering="crispEdges"/>
<rect x="218.62" y="879.8" width="5.57" height="2.5" fill="#f8a6a6" shape-rendering="crispEdges"/>
<rect x="223.89" y="879.8" width="5.57" height="2.5" fill="#aaa2fd" shape-rendering="crispEdges"/>
<rect x="229.16" y="879.8" width="5.57" height="2.5" fill="#8276fc" shape-rendering="crispEdges"/>
<rect x="244.98" y="879.8" width="5.57" height="2.5" fill="#f47d7d" shape-rendering="crispEdges"/>
<rect x="255.52" y="879.8" width="5.57" height="2.5" fill="#7e73fc" shape-rendering="crispEdges"/>
<rect x="276.61" y="879.8" width="5.57" height="2.5" fill="#f8aaaa" shape-rendering="crispEdges"/>
<rect x="287.15" y="879.8" width="5.57" height="2.5" fill="#f36f6f" shape-rendering="crispEdges"/>
<rect x="297.7" y="879.8" width="5.57" height="2.5" fill="#f69595" shape-rendering="crispEdges"/>
<rect x="313.51" y="879.8" width="5.57" height="2.5" fill="#b0a9fd" shape-rendering="crispEdges"/>
<rect x="318.78" y="879.8" width="5.57" height="2.5" fill="#675afc" shape-rendering="crispEdges"/>
<rect x="329.33" y="879.8" width="5.57" height="2.5" fill="#6f62fc" shape-rendering="crispEdges"/>
<rect x="81.54" y="882.3" width="5.57" height="2.4" fill="#fac3c3" shape-rendering="crispEdges"/>
<rect x="86.82" y="882.3" width="5.57" height="2.4" fill="#dddafe" shape-rendering="crispEdges"/>
<rect x="113.18" y="882.3" width="5.57" height="2.4" fill="#f9b3b3" shape-rendering="crispEdges"/>
<rect x="123.72" y="882.3" width="5.57" height="2.4" fill="#d2cefe" shape-rendering="crispEdges"/>
<rect x="128.99" y="882.3" width="5.57" height="2.4" fill="#fbd1d1" shape-rendering="crispEdges"/>
<rect x="139.54" y="882.3" width="5.57" height="2.4" fill="#fac9c9" shape-rendering="crispEdges"/>
<rect x="144.81" y="882.3" width="5.57" height="2.4" fill="#b3acfd" shape-rendering="crispEdges"/>
<rect x="150.08" y="882.3" width="5.57" height="2.4" fill="#fac7c7" shape-rendering="crispEdges"/>
<rect x="165.9" y="882.3" width="5.57" height="2.4" fill="#f8b1b1" shape-rendering="crispEdges"/>
<rect x="186.98" y="882.3" width="5.57" height="2.4" fill="#c9c4fe" shape-rendering="crispEdges"/>
<rect x="192.26" y="882.3" width="5.57" height="2.4" fill="#dddafe" shape-rendering="crispEdges"/>
<rect x="202.8" y="882.3" width="5.57" height="2.4" fill="#c7c2fe" shape-rendering="crispEdges"/>
<rect x="218.62" y="882.3" width="5.57" height="2.4" fill="#fac4c4" shape-rendering="crispEdges"/>
<rect x="234.43" y="882.3" width="5.57" height="2.4" fill="#c3befe" shape-rendering="crispEdges"/>
<rect x="239.7" y="882.3" width="5.57" height="2.4" fill="#fbd0d0" shape-rendering="crispEdges"/>
<rect x="271.34" y="882.3" width="5.57" height="2.4" fill="#fac0c0" shape-rendering="crispEdges"/>
<rect x="329.33" y="882.3" width="5.57" height="2.4" fill="#fac2c2" shape-rendering="crispEdges"/>
<rect x="81.54" y="884.7" width="5.57" height="2.4" fill="#e5e3fe" shape-rendering="crispEdges"/>
<rect x="92.09" y="884.7" width="5.57" height="2.4" fill="#e1dffe" shape-rendering="crispEdges"/>
<rect x="97.36" y="884.7" width="5.57" height="2.4" fill="#d4d0fe" shape-rendering="crispEdges"/>
<rect x="113.18" y="884.7" width="5.57" height="2.4" fill="#d2cefe" shape-rendering="crispEdges"/>
<rect x="123.72" y="884.7" width="5.57" height="2.4" fill="#cdc9fe" shape-rendering="crispEdges"/>
<rect x="134.26" y="884.7" width="5.57" height="2.4" fill="#fbcaca" shape-rendering="crispEdges"/>
<rect x="139.54" y="884.7" width="5.57" height="2.4" fill="#fcd9d9" shape-rendering="crispEdges"/>
<rect x="155.35" y="884.7" width="5.57" height="2.4" fill="#dbd8fe" shape-rendering="crispEdges"/>
<rect x="165.9" y="884.7" width="5.57" height="2.4" fill="#fde2e2" shape-rendering="crispEdges"/>
<rect x="171.17" y="884.7" width="5.57" height="2.4" fill="#fbd1d1" shape-rendering="crispEdges"/>
<rect x="176.44" y="884.7" width="5.57" height="2.4" fill="#d7d4fe" shape-rendering="crispEdges"/>
<rect x="186.98" y="884.7" width="5.57" height="2.4" fill="#dedbfe" shape-rendering="crispEdges"/>
<rect x="202.8" y="884.7" width="5.57" height="2.4" fill="#cac5fe" shape-rendering="crispEdges"/>
<rect x="218.62" y="884.7" width="5.57" height="2.4" fill="#e0defe" shape-rendering="crispEdges"/>
<rect x="223.89" y="884.7" width="5.57" height="2.4" fill="#d0ccfe" shape-rendering="crispEdges"/>
<rect x="229.16" y="884.7" width="5.57" height="2.4" fill="#fde4e4" shape-rendering="crispEdges"/>
<rect x="250.25" y="884.7" width="5.57" height="2.4" fill="#fde4e4" shape-rendering="crispEdges"/>
<rect x="271.34" y="884.7" width="5.57" height="2.4" fill="#e7e5fe" shape-rendering="crispEdges"/>
<rect x="287.15" y="884.7" width="5.57" height="2.4" fill="#cbc7fe" shape-rendering="crispEdges"/>
<rect x="302.97" y="884.7" width="5.57" height="2.4" fill="#cecafe" shape-rendering="crispEdges"/>
<rect x="308.24" y="884.7" width="5.57" height="2.4" fill="#cec9fe" shape-rendering="crispEdges"/>
<rect x="318.78" y="884.7" width="5.57" height="2.4" fill="#fcd7d7" shape-rendering="crispEdges"/>
<rect x="329.33" y="884.7" width="5.57" height="2.4" fill="#fde4e4" shape-rendering="crispEdges"/>
<rect x="664" y="498" width="4" height="1.2" fill="#f0f040"/>
<rect x="664" y="507" width="6" height="1.5" fill="#a0f0f8"/>
<rect x="664" y="516" width="5" height="1.5" fill="#f080f0"/>
<rect x="671" y="516" width="3" height="1.5" fill="#f050f0"/>
<rect x="664" y="523" width="6" height="1.5" fill="#a0f0f8"/>
<rect x="664" y="531" width="6" height="3" fill="#c0f8f8"/>
<rect x="671" y="539" width="4" height="1.2" fill="#60e060"/>
<rect x="664" y="545" width="6" height="4" fill="#c0f8f0"/>
<rect x="664" y="556" width="6" height="4" fill="#d0d0f8"/>
<rect x="671" y="558" width="3" height="1.5" fill="#6060f0"/>
<rect x="663.5" y="865" width="1.8" height="30" fill="#f0f040"/>
<rect x="663.5" y="870" width="1.8" height="4" fill="#f04040"/>
<rect x="663.5" y="878" width="1.8" height="3" fill="#f040f0"/>
<rect x="663.5" y="882" width="1.8" height="3" fill="#f04040"/>
<rect x="665" y="868" width="2.5" height="1.2" fill="#f0f040"/>
<rect x="665" y="873" width="2.5" height="1.2" fill="#f04040"/>
<rect x="665" y="878" width="2.5" height="1.2" fill="#f040f0"/>
<rect x="665" y="882.5" width="2.5" height="1.2" fill="#f04040"/>
<rect x="665" y="887" width="2.5" height="1.2" fill="#f0f040"/>
<rect x="665" y="891" width="2.5" height="1.2" fill="#f0f040"/>
<rect x="670.5" y="864.5" width="1.2" height="30" fill="#8080f0"/>
<rect x="671" y="866" width="3" height="1" fill="#6060f0"/>
<rect x="671" y="869" width="2.5" height="1.5" fill="#80f0f0"/>
<rect x="671" y="878" width="2.5" height="1.5" fill="#60e060"/>
<rect x="671" y="885" width="2.5" height="1" fill="#6060f0"/>
<rect x="671" y="888" width="2.5" height="1" fill="#6060f0"/>
<rect x="671" y="891" width="2.5" height="1" fill="#6060f0"/>
<path d="M349 326.6H387.3" fill="none" stroke="#000" stroke-width="2"/>
<path d="M343 326.6l7 -3.4v6.8z M393.3 326.6l-7 -3.4v6.8z" fill="#000" stroke="none" stroke-width="1"/>
<text x="367.4" y="319.7" font-size="12.4" text-anchor="middle" textLength="34.2" lengthAdjust="spacingAndGlyphs" fill="#000" stroke="#000" stroke-width="0.3">3s-6p</text>
<path d="M349 344.1H387.3" fill="none" stroke="#000" stroke-width="2"/>
<path d="M343 344.1l7 -3.4v6.8z M393.3 344.1l-7 -3.4v6.8z" fill="#000" stroke="none" stroke-width="1"/>
<text x="367.4" y="339.5" font-size="12.4" text-anchor="middle" textLength="34.2" lengthAdjust="spacingAndGlyphs" fill="#000" stroke="#000" stroke-width="0.3">3s-5p</text>
<path d="M349 414.1H387.3" fill="none" stroke="#000" stroke-width="2"/>
<path d="M343 414.1l7 -3.4v6.8z M393.3 414.1l-7 -3.4v6.8z" fill="#000" stroke="none" stroke-width="1"/>
<text x="367.4" y="407.9" font-size="12.4" text-anchor="middle" textLength="34.2" lengthAdjust="spacingAndGlyphs" fill="#000" stroke="#000" stroke-width="0.3">3s-4p</text>
<path d="M349 608.3H387.3" fill="none" stroke="#000" stroke-width="2"/>
<path d="M343 608.3l7 -3.4v6.8z M393.3 608.3l-7 -3.4v6.8z" fill="#000" stroke="none" stroke-width="1"/>
<text x="367.4" y="603.2" font-size="12.4" text-anchor="middle" textLength="34.2" lengthAdjust="spacingAndGlyphs" fill="#000" stroke="#000" stroke-width="0.3">3s-6p</text>
<path d="M349 631.4H387.3" fill="none" stroke="#000" stroke-width="2"/>
<path d="M343 631.4l7 -3.4v6.8z M393.3 631.4l-7 -3.4v6.8z" fill="#000" stroke="none" stroke-width="1"/>
<text x="367.4" y="625.8" font-size="12.4" text-anchor="middle" textLength="34.2" lengthAdjust="spacingAndGlyphs" fill="#000" stroke="#000" stroke-width="0.3">3s-5p</text>
<path d="M349 699.1H387.3" fill="none" stroke="#000" stroke-width="2"/>
<path d="M343 699.1l7 -3.4v6.8z M393.3 699.1l-7 -3.4v6.8z" fill="#000" stroke="none" stroke-width="1"/>
<text x="367.4" y="692.9" font-size="12.4" text-anchor="middle" textLength="34.2" lengthAdjust="spacingAndGlyphs" fill="#000" stroke="#000" stroke-width="0.3">3s-4p</text>
<path d="M349 887.6H387.3" fill="none" stroke="#000" stroke-width="2"/>
<path d="M343 887.6l7 -3.4v6.8z M393.3 887.6l-7 -3.4v6.8z" fill="#000" stroke="none" stroke-width="1"/>
<text x="367.4" y="882.2" font-size="12.4" text-anchor="middle" textLength="34.2" lengthAdjust="spacingAndGlyphs" fill="#000" stroke="#000" stroke-width="0.3">3s-6p</text>
<path d="M349 908.7H387.3" fill="none" stroke="#000" stroke-width="2"/>
<path d="M343 908.7l7 -3.4v6.8z M393.3 908.7l-7 -3.4v6.8z" fill="#000" stroke="none" stroke-width="1"/>
<text x="367.4" y="903.5" font-size="12.4" text-anchor="middle" textLength="34.2" lengthAdjust="spacingAndGlyphs" fill="#000" stroke="#000" stroke-width="0.3">3s-5p</text>
<path d="M349 976.3H387.3" fill="none" stroke="#000" stroke-width="2"/>
<path d="M343 976.3l7 -3.4v6.8z M393.3 976.3l-7 -3.4v6.8z" fill="#000" stroke="none" stroke-width="1"/>
<text x="367.4" y="971" font-size="12.4" text-anchor="middle" textLength="34.2" lengthAdjust="spacingAndGlyphs" fill="#000" stroke="#000" stroke-width="0.3">3s-4p</text>
<text x="66" y="289.1" font-size="10" textLength="39" lengthAdjust="spacingAndGlyphs" fill="#e8141e" stroke="#e8141e" stroke-width="0.3">NIR first</text>
<text x="291" y="289.1" font-size="10" textLength="48.5" lengthAdjust="spacingAndGlyphs" fill="#4a8fd6" stroke="#4a8fd6" stroke-width="0.3">DAPs first</text>
<text x="395.3" y="289.1" font-size="10" textLength="39" lengthAdjust="spacingAndGlyphs" fill="#e8141e" stroke="#e8141e" stroke-width="0.3">NIR first</text>
<text x="621.3" y="289.1" font-size="10" textLength="48.5" lengthAdjust="spacingAndGlyphs" fill="#4a8fd6" stroke="#4a8fd6" stroke-width="0.3">DAPs first</text>
<rect x="195.7" y="263" width="146.5" height="10.3" fill="url(#cb184)" stroke="#222" stroke-width="1"/>
<path d="M195.7 263v-7M201.56 263v-3.5M207.42 263v-3.5M213.28 263v-3.5M219.14 263v-3.5M225 263v-7M230.86 263v-3.5M236.72 263v-3.5M242.58 263v-3.5M248.44 263v-3.5M254.3 263v-7M260.16 263v-3.5M266.02 263v-3.5M271.88 263v-3.5M277.74 263v-3.5M283.6 263v-7M289.46 263v-3.5M295.32 263v-3.5M301.18 263v-3.5M307.04 263v-3.5M312.9 263v-7M318.76 263v-3.5M324.62 263v-3.5M330.48 263v-3.5M336.34 263v-3.5M342.2 263v-7" fill="none" stroke="#222" stroke-width="0.9"/>
<text x="195.7" y="250.6" font-size="9" text-anchor="middle" fill="#000" stroke="#000" stroke-width="0.3">0</text>
<text x="225" y="250.6" font-size="9" text-anchor="middle" fill="#000" stroke="#000" stroke-width="0.3">10</text>
<text x="254.3" y="250.6" font-size="9" text-anchor="middle" fill="#000" stroke="#000" stroke-width="0.3">20</text>
<text x="283.6" y="250.6" font-size="9" text-anchor="middle" fill="#000" stroke="#000" stroke-width="0.3">30</text>
<text x="312.9" y="250.6" font-size="9" text-anchor="middle" fill="#000" stroke="#000" stroke-width="0.3">40</text>
<text x="342.2" y="250.6" font-size="9" text-anchor="middle" fill="#000" stroke="#000" stroke-width="0.3">50</text>
<text x="268.95" y="238" font-size="9.5" text-anchor="middle" fill="#000" stroke="#000" stroke-width="0.3">Amp (a.u.)</text>
<rect x="524.9" y="263" width="146.3" height="10.3" fill="url(#cb185)" stroke="#222" stroke-width="1"/>
<path d="M524.9 263v-7M532.22 263v-3.5M539.53 263v-3.5M546.85 263v-3.5M554.16 263v-3.5M561.48 263v-7M568.79 263v-3.5M576.11 263v-3.5M583.42 263v-3.5M590.74 263v-3.5M598.05 263v-7M605.37 263v-3.5M612.68 263v-3.5M620 263v-3.5M627.31 263v-3.5M634.62 263v-7M641.94 263v-3.5M649.25 263v-3.5M656.57 263v-3.5M663.88 263v-3.5M671.2 263v-7" fill="none" stroke="#222" stroke-width="0.9"/>
<text x="524.9" y="250.6" font-size="9" text-anchor="middle" fill="#000" stroke="#000" stroke-width="0.3">0</text>
<text x="561.48" y="250.6" font-size="9" text-anchor="middle" fill="#000" stroke="#000" stroke-width="0.3">5</text>
<text x="598.05" y="250.6" font-size="9" text-anchor="middle" fill="#000" stroke="#000" stroke-width="0.3">10</text>
<text x="634.62" y="250.6" font-size="9" text-anchor="middle" fill="#000" stroke="#000" stroke-width="0.3">15</text>
<text x="671.2" y="250.6" font-size="9" text-anchor="middle" fill="#000" stroke="#000" stroke-width="0.3">20</text>
<text x="598.05" y="238" font-size="9.5" text-anchor="middle" fill="#000" stroke="#000" stroke-width="0.3">Amp (a.u.)</text>
<rect x="181.2" y="569.2" width="148.4" height="6.6" fill="url(#cb186)" stroke="#222" stroke-width="1"/>
<path d="M209.68 569.2v-7M203.59 569.2v-3.5M197.51 569.2v-3.5M191.42 569.2v-3.5M185.34 569.2v-3.5M215.76 569.2v-3.5M221.84 569.2v-3.5M227.93 569.2v-3.5M234.01 569.2v-3.5M240.1 569.2v-3.5M246.18 569.2v-7M252.27 569.2v-3.5M258.35 569.2v-3.5M264.44 569.2v-3.5M270.52 569.2v-3.5M276.6 569.2v-3.5M282.69 569.2v-7M288.77 569.2v-3.5M294.86 569.2v-3.5M300.94 569.2v-3.5M307.03 569.2v-3.5M313.11 569.2v-3.5M319.2 569.2v-7M325.28 569.2v-3.5" fill="none" stroke="#222" stroke-width="0.9"/>
<text x="209.68" y="554.7" font-size="11" text-anchor="middle" fill="#000" stroke="#000" stroke-width="0.3">-0.4</text>
<text x="246.18" y="554.7" font-size="11" text-anchor="middle" fill="#000" stroke="#000" stroke-width="0.3">0.0</text>
<text x="282.69" y="554.7" font-size="11" text-anchor="middle" fill="#000" stroke="#000" stroke-width="0.3">0.4</text>
<text x="319.2" y="554.7" font-size="11" text-anchor="middle" fill="#000" stroke="#000" stroke-width="0.3">0.8</text>
<text x="255.6" y="539.9" font-size="11.2" text-anchor="middle" fill="#000" stroke="#000" stroke-width="0.3">Amp diff (a.u.)</text>
<rect x="511.2" y="569.2" width="149.4" height="6.6" fill="url(#cb187)" stroke="#222" stroke-width="1"/>
<path d="M539.87 569.2v-7M533.74 569.2v-3.5M527.62 569.2v-3.5M521.49 569.2v-3.5M515.37 569.2v-3.5M545.99 569.2v-3.5M552.12 569.2v-3.5M558.24 569.2v-3.5M564.37 569.2v-3.5M570.49 569.2v-3.5M576.62 569.2v-7M582.75 569.2v-3.5M588.87 569.2v-3.5M595 569.2v-3.5M601.12 569.2v-3.5M607.25 569.2v-3.5M613.37 569.2v-7M619.5 569.2v-3.5M625.62 569.2v-3.5M631.75 569.2v-3.5M637.87 569.2v-3.5M644 569.2v-3.5M650.13 569.2v-7M656.25 569.2v-3.5" fill="none" stroke="#222" stroke-width="0.9"/>
<text x="539.87" y="554.7" font-size="11" text-anchor="middle" fill="#000" stroke="#000" stroke-width="0.3">-0.4</text>
<text x="576.62" y="554.7" font-size="11" text-anchor="middle" fill="#000" stroke="#000" stroke-width="0.3">0.0</text>
<text x="613.37" y="554.7" font-size="11" text-anchor="middle" fill="#000" stroke="#000" stroke-width="0.3">0.4</text>
<text x="650.13" y="554.7" font-size="11" text-anchor="middle" fill="#000" stroke="#000" stroke-width="0.3">0.8</text>
<text x="586.1" y="539.9" font-size="11.2" text-anchor="middle" fill="#000" stroke="#000" stroke-width="0.3">Amp diff (a.u.)</text>
<rect x="195.4" y="842.2" width="146.4" height="10.7" fill="url(#cb188)" stroke="#222" stroke-width="1"/>
<path d="M195.4 842.2v-7M202.72 842.2v-3.5M210.04 842.2v-3.5M217.36 842.2v-3.5M224.68 842.2v-3.5M232 842.2v-7M239.32 842.2v-3.5M246.64 842.2v-3.5M253.96 842.2v-3.5M261.28 842.2v-3.5M268.6 842.2v-7M275.92 842.2v-3.5M283.24 842.2v-3.5M290.56 842.2v-3.5M297.88 842.2v-3.5M305.2 842.2v-7M312.52 842.2v-3.5M319.84 842.2v-3.5M327.16 842.2v-3.5M334.48 842.2v-3.5M341.8 842.2v-7" fill="none" stroke="#222" stroke-width="0.9"/>
<text x="195.4" y="831" font-size="9.9" text-anchor="middle" fill="#000" stroke="#000" stroke-width="0.3">-1.0</text>
<text x="232" y="831" font-size="9.9" text-anchor="middle" fill="#000" stroke="#000" stroke-width="0.3">-0.5</text>
<text x="268.6" y="831" font-size="9.9" text-anchor="middle" fill="#000" stroke="#000" stroke-width="0.3">0.0</text>
<text x="305.2" y="831" font-size="9.9" text-anchor="middle" fill="#000" stroke="#000" stroke-width="0.3">0.5</text>
<text x="341.8" y="831" font-size="9.9" text-anchor="middle" fill="#000" stroke="#000" stroke-width="0.3">1.0</text>
<text x="268.6" y="818.6" font-size="10.3" text-anchor="middle" fill="#000" stroke="#000" stroke-width="0.3">Phase diff (rad)</text>
<rect x="525.5" y="842.2" width="146.4" height="10.7" fill="url(#cb189)" stroke="#222" stroke-width="1"/>
<path d="M525.5 842.2v-7M532.82 842.2v-3.5M540.14 842.2v-3.5M547.46 842.2v-3.5M554.78 842.2v-3.5M562.1 842.2v-7M569.42 842.2v-3.5M576.74 842.2v-3.5M584.06 842.2v-3.5M591.38 842.2v-3.5M598.7 842.2v-7M606.02 842.2v-3.5M613.34 842.2v-3.5M620.66 842.2v-3.5M627.98 842.2v-3.5M635.3 842.2v-7M642.62 842.2v-3.5M649.94 842.2v-3.5M657.26 842.2v-3.5M664.58 842.2v-3.5M671.9 842.2v-7" fill="none" stroke="#222" stroke-width="0.9"/>
<text x="525.5" y="831" font-size="9.9" text-anchor="middle" fill="#000" stroke="#000" stroke-width="0.3">-1.0</text>
<text x="562.1" y="831" font-size="9.9" text-anchor="middle" fill="#000" stroke="#000" stroke-width="0.3">-0.5</text>
<text x="598.7" y="831" font-size="9.9" text-anchor="middle" fill="#000" stroke="#000" stroke-width="0.3">0.0</text>
<text x="635.3" y="831" font-size="9.9" text-anchor="middle" fill="#000" stroke="#000" stroke-width="0.3">0.5</text>
<text x="671.9" y="831" font-size="9.9" text-anchor="middle" fill="#000" stroke="#000" stroke-width="0.3">1.0</text>
<text x="598.7" y="818.6" font-size="10.3" text-anchor="middle" fill="#000" stroke="#000" stroke-width="0.3">Phase diff (rad)</text>
<text x="3.8" y="15.6" font-size="17.5" fill="#000" stroke="#000" stroke-width="0.3">(a)</text>
<text x="367.9" y="15.3" font-size="17" fill="#000" stroke="#000" stroke-width="0.3">(b)</text>
<text x="4.9" y="244.5" font-size="16.5" fill="#000" stroke="#000" stroke-width="0.3">(c)</text>
<text x="369.2" y="244.6" font-size="16.5" fill="#000" stroke="#000" stroke-width="0.3">(d)</text>
<text x="3.4" y="547.6" font-size="16.5" fill="#000" stroke="#000" stroke-width="0.3">(e)</text>
<text x="370.8" y="547.1" font-size="16.5" fill="#000" stroke="#000" stroke-width="0.3">(f)</text>
<text x="3.6" y="824.8" font-size="16.5" fill="#000" stroke="#000" stroke-width="0.3">(g)</text>
<text x="369.7" y="824.8" font-size="16.5" fill="#000" stroke="#000" stroke-width="0.3">(h)</text>
<path d="M58.5 98.92 L59.25 98.85 L60 98.77 L60.75 98.68 L61.5 98.58 L62.25 98.47 L63 98.34 L63.75 98.19 L64.5 98.03 L65.25 97.85 L66 97.65 L66.75 97.44 L67.5 97.19 L68.25 96.93 L69 96.64 L69.75 96.33 L70.5 95.99 L71.25 95.62 L72 95.23 L72.75 94.82 L73.5 94.37 L74.25 93.9 L75 93.4 L75.75 92.88 L76.5 92.33 L77.25 91.76 L78 91.17 L78.75 90.56 L79.5 89.93 L80.25 89.29 L81 88.63 L81.75 87.96 L82.5 87.29 L83.25 86.61 L84 85.93 L84.75 85.25 L85.5 84.57 L86.25 83.91 L87 83.26 L87.75 82.62 L88.5 82 L89.25 81.4 L90 80.83 L90.75 80.28 L91.5 79.76 L92.25 79.27 L93 78.82 L93.75 78.4 L94.5 78.01 L95.25 77.67 L96 77.35 L96.75 77.08 L97.5 76.84 L98.25 76.64 L99 76.48 L99.75 76.34 L100.5 76.24 L101.25 76.17 L102 76.13 L102.75 76.11 L103.5 76.1 L104.25 76.11 L105 76.13 L105.75 76.17 L106.5 76.24 L107.25 76.34 L108 76.48 L108.75 76.64 L109.5 76.84 L110.25 77.08 L111 77.35 L111.75 77.67 L112.5 78.01 L113.25 78.4 L114 78.82 L114.75 79.27 L115.5 79.76 L116.25 80.28 L117 80.83 L117.75 81.4 L118.5 82 L119.25 82.62 L120 83.26 L120.75 83.91 L121.5 84.57 L122.25 85.25 L123 85.93 L123.75 86.61 L124.5 87.29 L125.25 87.96 L126 88.63 L126.75 89.29 L127.5 89.93 L128.25 90.56 L129 91.17 L129.75 91.76 L130.5 92.33 L131.25 92.88 L132 93.4 L132.75 93.9 L133.5 94.37 L134.25 94.82 L135 95.23 L135.75 95.62 L136.5 95.99 L137.25 96.33 L138 96.64 L138.75 96.93 L139.5 97.19 L140.25 97.44 L141 97.65 L141.75 97.85 L142.5 98.03 L143.25 98.19 L144 98.34 L144.75 98.47 L145.5 98.58 L146.25 98.68 L147 98.77 L147.75 98.85 L148.5 98.92Z" fill="#ef6b73" stroke="none" stroke-width="1"/>
<path d="M54.9 99.3 L55.12 99.1 L55.34 98.69 L55.56 98.13 L55.78 97.45 L56 96.66 L56.22 95.76 L56.44 94.77 L56.66 93.69 L56.88 92.53 L57.1 91.28 L57.32 89.96 L57.54 88.57 L57.76 87.1 L57.98 85.57 L58.2 83.96 L58.42 82.3 L58.64 80.56 L58.86 78.77 L59.08 76.91 L59.3 75 L59.52 76.91 L59.74 78.77 L59.96 80.56 L60.18 82.3 L60.4 83.96 L60.62 85.57 L60.84 87.1 L61.06 88.57 L61.28 89.96 L61.5 91.28 L61.72 92.53 L61.94 93.69 L62.16 94.77 L62.38 95.76 L62.6 96.66 L62.82 97.45 L63.04 98.13 L63.26 98.69 L63.48 99.1 L63.7 99.3Z" fill="#8fb0e4" stroke="none" stroke-width="1"/>
<path d="M89 99.3 L89.22 99.1 L89.44 98.69 L89.66 98.13 L89.88 97.45 L90.1 96.66 L90.32 95.76 L90.54 94.77 L90.76 93.69 L90.98 92.53 L91.2 91.28 L91.42 89.96 L91.64 88.57 L91.86 87.1 L92.08 85.57 L92.3 83.96 L92.52 82.3 L92.74 80.56 L92.96 78.77 L93.18 76.91 L93.4 75 L93.62 76.91 L93.84 78.77 L94.06 80.56 L94.28 82.3 L94.5 83.96 L94.72 85.57 L94.94 87.1 L95.16 88.57 L95.38 89.96 L95.6 91.28 L95.82 92.53 L96.04 93.69 L96.26 94.77 L96.48 95.76 L96.7 96.66 L96.92 97.45 L97.14 98.13 L97.36 98.69 L97.58 99.1 L97.8 99.3Z" fill="#9a9fd8" stroke="none" stroke-width="1"/>
<line x1="35" y1="99.3" x2="261" y2="99.3" stroke="#222" stroke-width="1.7"/>
<path d="M59.6 41V75" fill="none" stroke="#222" stroke-width="0.9" stroke-dasharray="2 1.6"/>
<path d="M93.4 57V76" fill="none" stroke="#222" stroke-width="0.9" stroke-dasharray="2 1.6"/>
<path d="M102.6 41V77" fill="none" stroke="#222" stroke-width="0.9" stroke-dasharray="2 1.6"/>
<path d="M65 46.7H96.5" fill="none" stroke="#111" stroke-width="2.2" stroke-dasharray="4.2 4.6" stroke-dashoffset="2.9"/>
<path d="M60 46.7l5 -2.2v4.4z M101.5 46.7l-5 -2.2v4.4z" fill="#111" stroke="none" stroke-width="1"/>
<path d="M65.2 68.6H87.6" fill="none" stroke="#111" stroke-width="2.2" stroke-dasharray="4.4 1.4" stroke-dashoffset="0"/>
<path d="M60 68.6l5.2 -2.2v4.4z M92.8 68.6l-5.2 -2.2v4.4z" fill="#111" stroke="none" stroke-width="1"/>
<path d="M450 99.42 L450.82 99.35 L451.65 99.27 L452.48 99.18 L453.3 99.08 L454.12 98.97 L454.95 98.84 L455.77 98.69 L456.6 98.53 L457.43 98.35 L458.25 98.15 L459.07 97.94 L459.9 97.69 L460.73 97.43 L461.55 97.14 L462.38 96.83 L463.2 96.49 L464.02 96.12 L464.85 95.73 L465.68 95.32 L466.5 94.87 L467.32 94.4 L468.15 93.9 L468.98 93.38 L469.8 92.83 L470.62 92.26 L471.45 91.67 L472.27 91.06 L473.1 90.43 L473.93 89.79 L474.75 89.13 L475.57 88.46 L476.4 87.79 L477.23 87.11 L478.05 86.43 L478.88 85.75 L479.7 85.07 L480.52 84.41 L481.35 83.76 L482.18 83.12 L483 82.5 L483.82 81.9 L484.65 81.33 L485.48 80.78 L486.3 80.26 L487.12 79.77 L487.95 79.32 L488.77 78.9 L489.6 78.51 L490.43 78.17 L491.25 77.85 L492.07 77.58 L492.9 77.34 L493.73 77.14 L494.55 76.98 L495.38 76.84 L496.2 76.74 L497.02 76.67 L497.85 76.63 L498.68 76.61 L499.5 76.6 L500.32 76.61 L501.15 76.63 L501.98 76.67 L502.8 76.74 L503.62 76.84 L504.45 76.98 L505.27 77.14 L506.1 77.34 L506.93 77.58 L507.75 77.85 L508.57 78.17 L509.4 78.51 L510.23 78.9 L511.05 79.32 L511.88 79.77 L512.7 80.26 L513.52 80.78 L514.35 81.33 L515.17 81.9 L516 82.5 L516.83 83.12 L517.65 83.76 L518.48 84.41 L519.3 85.07 L520.12 85.75 L520.95 86.43 L521.77 87.11 L522.6 87.79 L523.42 88.46 L524.25 89.13 L525.08 89.79 L525.9 90.43 L526.73 91.06 L527.55 91.67 L528.38 92.26 L529.2 92.83 L530.02 93.38 L530.85 93.9 L531.67 94.4 L532.5 94.87 L533.33 95.32 L534.15 95.73 L534.98 96.12 L535.8 96.49 L536.62 96.83 L537.45 97.14 L538.27 97.43 L539.1 97.69 L539.92 97.94 L540.75 98.15 L541.58 98.35 L542.4 98.53 L543.23 98.69 L544.05 98.84 L544.88 98.97 L545.7 99.08 L546.52 99.18 L547.35 99.27 L548.17 99.35 L549 99.42Z" fill="#ef6b73" stroke="none" stroke-width="1"/>
<path d="M420.6 99.8 L420.82 99.6 L421.04 99.19 L421.26 98.63 L421.48 97.95 L421.7 97.16 L421.92 96.26 L422.14 95.27 L422.36 94.19 L422.58 93.03 L422.8 91.78 L423.02 90.46 L423.24 89.07 L423.46 87.6 L423.68 86.07 L423.9 84.46 L424.12 82.8 L424.34 81.06 L424.56 79.27 L424.78 77.41 L425 75.5 L425.22 77.41 L425.44 79.27 L425.66 81.06 L425.88 82.8 L426.1 84.46 L426.32 86.07 L426.54 87.6 L426.76 89.07 L426.98 90.46 L427.2 91.78 L427.42 93.03 L427.64 94.19 L427.86 95.27 L428.08 96.26 L428.3 97.16 L428.52 97.95 L428.74 98.63 L428.96 99.19 L429.18 99.6 L429.4 99.8Z" fill="#8fb0e4" stroke="none" stroke-width="1"/>
<path d="M482 99.8 L482.22 99.6 L482.44 99.19 L482.66 98.63 L482.88 97.95 L483.1 97.16 L483.32 96.26 L483.54 95.27 L483.76 94.19 L483.98 93.03 L484.2 91.78 L484.42 90.46 L484.64 89.07 L484.86 87.6 L485.08 86.07 L485.3 84.46 L485.52 82.8 L485.74 81.06 L485.96 79.27 L486.18 77.41 L486.4 75.5 L486.62 77.41 L486.84 79.27 L487.06 81.06 L487.28 82.8 L487.5 84.46 L487.72 86.07 L487.94 87.6 L488.16 89.07 L488.38 90.46 L488.6 91.78 L488.82 93.03 L489.04 94.19 L489.26 95.27 L489.48 96.26 L489.7 97.16 L489.92 97.95 L490.14 98.63 L490.36 99.19 L490.58 99.6 L490.8 99.8Z" fill="#9a9fd8" stroke="none" stroke-width="1"/>
<line x1="401" y1="99.8" x2="627" y2="99.8" stroke="#222" stroke-width="1.7"/>
<path d="M425 44V76" fill="none" stroke="#222" stroke-width="0.9" stroke-dasharray="2 1.6"/>
<path d="M486.4 57V76" fill="none" stroke="#222" stroke-width="0.9" stroke-dasharray="2 1.6"/>
<path d="M498.8 44V77" fill="none" stroke="#222" stroke-width="0.9" stroke-dasharray="2 1.6"/>
<path d="M433.1 51.2H491.8" fill="none" stroke="#111" stroke-width="2.3" stroke-dasharray="7 3.6" stroke-dashoffset="0"/>
<path d="M427.6 51.2l5.5 -2.6v5.2z M497.3 51.2l-5.5 -2.6v5.2z" fill="#111" stroke="none" stroke-width="1"/>
<path d="M433.1 69.5H479.3" fill="none" stroke="#111" stroke-width="2.3" stroke-dasharray="7 3.6" stroke-dashoffset="0"/>
<path d="M427.6 69.5l5.5 -2.6v5.2z M484.8 69.5l-5.5 -2.6v5.2z" fill="#111" stroke="none" stroke-width="1"/>
<text transform="translate(56.8 36.8) scale(1 1)" font-family="Liberation Serif" font-size="11">τ</text>
<text x="62.8" y="39.6" font-family="Liberation Serif" font-style="italic" font-size="8" textLength="43.2" lengthAdjust="spacingAndGlyphs">NIR−DAPs</text>
<text transform="translate(63.6 61.4) scale(1 1)" font-family="Liberation Serif" font-size="11">τ</text>
<text x="69.2" y="64.4" font-family="Liberation Serif" font-style="italic" font-size="7.6" textLength="21.3" lengthAdjust="spacingAndGlyphs">DAPs</text>
<text transform="translate(430.5 42.8) scale(1.15 1)" font-family="Liberation Serif" font-size="12.5">τ</text>
<text x="437.3" y="47.3" font-family="Liberation Serif" font-style="italic" font-size="11" textLength="55.2" lengthAdjust="spacingAndGlyphs">NIR−DAPs</text>
<text transform="translate(438.3 62.8) scale(1.15 1)" font-family="Liberation Serif" font-size="12.8">τ</text>
<text x="445.8" y="67" font-family="Liberation Serif" font-style="italic" font-size="9.8" textLength="24.8" lengthAdjust="spacingAndGlyphs">DAPs</text>
<text transform="translate(104.5 16.9) scale(1.42 1)" font-family="Liberation Serif" font-size="15.8">τ</text>
<text x="114.4" y="19.7" font-family="Liberation Serif" font-style="italic" font-size="10.8" textLength="32.6" lengthAdjust="spacingAndGlyphs">DAPs</text>
<text x="147.3" y="16.7" font-size="15.6" textLength="44.5" lengthAdjust="spacingAndGlyphs">= 5 fs</text>
<text transform="translate(469.3 16.9) scale(1.42 1)" font-family="Liberation Serif" font-size="15.8">τ</text>
<text x="479.2" y="19.7" font-family="Liberation Serif" font-style="italic" font-size="10.8" textLength="32.6" lengthAdjust="spacingAndGlyphs">DAPs</text>
<text x="512.1" y="16.7" font-size="15.6" textLength="54.7" lengthAdjust="spacingAndGlyphs">= 10 fs</text>
<text x="48.3" y="120.2" font-size="16.2" textLength="44.2" lengthAdjust="spacingAndGlyphs" fill="#2f6fb8" stroke="#2f6fb8" stroke-width="0.3">DAPs</text>
<text x="102.8" y="120.2" font-size="16.2" textLength="28.4" lengthAdjust="spacingAndGlyphs" fill="#e52626" stroke="#e52626" stroke-width="0.3">NIR</text>
<text x="429.2" y="121.3" font-size="16.2" textLength="43.8" lengthAdjust="spacingAndGlyphs" fill="#2f6fb8" stroke="#2f6fb8" stroke-width="0.3">DAPs</text>
<text x="489.2" y="121.3" font-size="16.2" textLength="29.2" lengthAdjust="spacingAndGlyphs" fill="#e52626" stroke="#e52626" stroke-width="0.3">NIR</text>
<line x1="32.8" y1="176" x2="264" y2="176" stroke="#222" stroke-width="1.4"/>
<path d="M270 176l-7 -3.3v6.6z" fill="#222" stroke="none" stroke-width="1"/>
<text x="277.3" y="181.1" font-size="18.5" font-family="Liberation Serif" textLength="36.1" lengthAdjust="spacingAndGlyphs" fill="#000" stroke="#000" stroke-width="0.3">time</text>
<path d="M76.9 176 L77.26 172.15 L77.62 168.4 L77.98 164.83 L78.34 161.54 L78.7 158.61 L79.06 156.1 L79.42 154.08 L79.78 152.6 L80.14 151.7 L80.5 151.4 L81.28 152.44 L82.06 155.44 L82.84 160.12 L83.62 166.01 L84.4 172.55 L85.18 179.09 L85.96 184.98 L86.74 189.66 L87.52 192.66 L88.3 193.7 L89.06 192 L89.82 187.08 L90.58 179.42 L91.34 169.76 L92.1 159.05 L92.86 148.34 L93.62 138.68 L94.38 131.02 L95.14 126.1 L95.9 124.4 L96.74 126.65 L97.58 133.19 L98.42 143.36 L99.26 156.19 L100.1 170.4 L100.94 184.61 L101.78 197.44 L102.62 207.61 L103.46 214.15 L104.3 216.4 L105.06 214.57 L105.82 209.26 L106.58 200.98 L107.34 190.56 L108.1 179 L108.86 167.44 L109.62 157.02 L110.38 148.74 L111.14 143.43 L111.9 141.6 L112.71 143.12 L113.52 147.55 L114.33 154.44 L115.14 163.12 L115.95 172.75 L116.76 182.38 L117.57 191.06 L118.38 197.95 L119.19 202.38 L120 203.9 L120.8 202.64 L121.6 198.98 L122.4 193.29 L123.2 186.11 L124 178.15 L124.8 170.19 L125.6 163.01 L126.4 157.32 L127.2 153.66 L128 152.4 L128.8 153.39 L129.6 156.28 L130.4 160.77 L131.2 166.43 L132 172.7 L132.8 178.97 L133.6 184.63 L134.4 189.12 L135.2 192.01 L136 193 L136.82 192.19 L137.64 189.85 L138.46 186.2 L139.28 181.6 L140.1 176.5 L140.92 171.4 L141.74 166.8 L142.56 163.15 L143.38 160.81 L144.2 160 L145.02 160.67 L145.84 162.62 L146.66 165.65 L147.48 169.47 L148.3 173.7 L149.12 177.93 L149.94 181.75 L150.76 184.78 L151.58 186.73 L152.4 187.4 L153.2 186.88 L154 185.39 L154.8 183.05 L155.6 180.11 L156.4 176.85 L157.2 173.59 L158 170.65 L158.8 168.31 L159.6 166.82 L160.4 166.3 L161.16 166.73 L161.92 167.97 L162.68 169.91 L163.44 172.35 L164.2 175.05 L164.96 177.75 L165.72 180.19 L166.48 182.13 L167.24 183.37 L168 183.8 L168.82 183.43 L169.64 182.34 L170.46 180.65 L171.28 178.51 L172.1 176.15 L172.92 173.79 L173.74 171.65 L174.56 169.96 L175.38 168.87 L176.2 168.5 L176.96 168.8 L177.72 169.68 L178.48 171.06 L179.24 172.78 L180 174.7 L180.76 176.62 L181.52 178.34 L182.28 179.72 L183.04 180.6 L183.8 180.9 L184.6 180.66 L185.4 179.95 L186.2 178.86 L187 177.48 L187.8 175.95 L188.6 174.42 L189.4 173.04 L190.2 171.95 L191 171.24 L191.8 171 L192.61 171.19 L193.42 171.74 L194.23 172.59 L195.04 173.66 L195.85 174.85 L196.66 176.04 L197.47 177.11 L198.28 177.96 L199.09 178.51 L199.9 178.7 L200.7 178.56 L201.5 178.14 L202.3 177.48 L203.1 176.66 L203.9 175.75 L204.7 174.84 L205.5 174.02 L206.3 173.36 L207.1 172.94 L207.9 172.8 L208.7 172.92 L209.5 173.27 L210.3 173.81 L211.1 174.49 L211.9 175.25 L212.7 176.01 L213.5 176.69 L214.3 177.23 L215.1 177.58 L215.9 177.7 L216.71 177.61 L217.52 177.34 L218.33 176.92 L219.14 176.39 L219.95 175.8 L220.76 175.21 L221.57 174.68 L222.38 174.26 L223.19 173.99 L224 173.9 L224.8 173.93 L225.6 174 L226.4 174.13 L227.2 174.3 L228 174.52 L228.8 174.77 L229.6 175.05 L230.4 175.35 L231.2 175.67 L232 176" fill="none" stroke="#63c2e6" stroke-width="1.7" stroke-dasharray="4 2.6"/>
<path d="M76.9 176 L77.26 174.5 L77.62 173.03 L77.98 171.64 L78.34 170.36 L78.7 169.21 L79.06 168.23 L79.42 167.45 L79.78 166.87 L80.14 166.52 L80.5 166.4 L81.31 166.84 L82.12 168.1 L82.93 170.07 L83.74 172.55 L84.55 175.3 L85.36 178.05 L86.17 180.53 L86.98 182.5 L87.79 183.76 L88.6 184.2 L89.36 183.66 L90.12 182.08 L90.88 179.62 L91.64 176.53 L92.4 173.1 L93.16 169.67 L93.92 166.58 L94.68 164.12 L95.44 162.54 L96.2 162 L97.04 162.62 L97.88 164.43 L98.72 167.24 L99.56 170.78 L100.4 174.7 L101.24 178.62 L102.08 182.16 L102.92 184.97 L103.76 186.78 L104.6 187.4 L105.36 186.89 L106.12 185.39 L106.88 183.07 L107.64 180.14 L108.4 176.9 L109.16 173.66 L109.92 170.73 L110.68 168.41 L111.44 166.91 L112.2 166.4 L113.02 166.82 L113.84 168.03 L114.66 169.92 L115.48 172.31 L116.3 174.95 L117.12 177.59 L117.94 179.98 L118.76 181.87 L119.58 183.08 L120.4 183.5 L121.16 183.18 L121.92 182.25 L122.68 180.8 L123.44 178.97 L124.2 176.95 L124.96 174.93 L125.72 173.1 L126.48 171.65 L127.24 170.72 L128 170.4 L128.8 170.7 L129.6 171.56 L130.4 172.89 L131.2 174.58 L132 176.45 L132.8 178.32 L133.6 180.01 L134.4 181.34 L135.2 182.2 L136 182.5 L136.83 182.25 L137.66 181.51 L138.49 180.36 L139.32 178.91 L140.15 177.3 L140.98 175.69 L141.81 174.24 L142.64 173.09 L143.47 172.35 L144.3 172.1 L145.13 172.27 L145.96 172.77 L146.79 173.54 L147.62 174.52 L148.45 175.6 L149.28 176.68 L150.11 177.66 L150.94 178.43 L151.77 178.93 L152.6 179.1 L153.38 178.96 L154.16 178.55 L154.94 177.9 L155.72 177.1 L156.5 176.2 L157.28 175.3 L158.06 174.5 L158.84 173.85 L159.62 173.44 L160.4 173.3 L161.21 173.42 L162.02 173.76 L162.83 174.29 L163.64 174.96 L164.45 175.7 L165.26 176.44 L166.07 177.11 L166.88 177.64 L167.69 177.98 L168.5 178.1 L169.27 178.01 L170.04 177.74 L170.81 177.32 L171.58 176.79 L172.35 176.2 L173.12 175.61 L173.89 175.08 L174.66 174.66 L175.43 174.39 L176.2 174.3 L176.98 174.37 L177.76 174.58 L178.54 174.9 L179.32 175.3 L180.1 175.75 L180.88 176.2 L181.66 176.6 L182.44 176.92 L183.22 177.13 L184 177.2 L184.78 177.14 L185.56 176.96 L186.34 176.68 L187.12 176.34 L187.9 175.95 L188.68 175.56 L189.46 175.22 L190.24 174.94 L191.02 174.76 L191.8 174.7 L192.62 174.75 L193.44 174.9 L194.26 175.13 L195.08 175.43 L195.9 175.75 L196.72 176.07 L197.54 176.37 L198.36 176.6 L199.18 176.75 L200 176.8 L200.8 176.76 L201.6 176.65 L202.4 176.47 L203.2 176.25 L204 176 L204.8 175.75 L205.6 175.53 L206.4 175.35 L207.2 175.24 L208 175.2 L208.8 175.23 L209.6 175.32 L210.4 175.47 L211.2 175.65 L212 175.85 L212.8 176.05 L213.6 176.23 L214.4 176.38 L215.2 176.47 L216 176.5 L217 176.49 L218 176.48 L219 176.45 L220 176.4 L221 176.35 L222 176.29 L223 176.23 L224 176.15 L225 176.08 L226 176" fill="none" stroke="#e51c1c" stroke-width="2.1"/>
<path d="M60.8 176 L61.2 170.38 L61.6 164.91 L62 159.7 L62.4 154.9 L62.8 150.61 L63.2 146.96 L63.6 144.01 L64 141.86 L64.4 140.54 L64.8 140.1 L65.6 141.7 L66.4 146.34 L67.2 153.56 L68 162.66 L68.8 172.75 L69.6 182.84 L70.4 191.94 L71.2 199.16 L72 203.8 L72.8 205.4 L73.21 205.04 L73.62 203.96 L74.03 202.2 L74.44 199.79 L74.85 196.79 L75.26 193.28 L75.67 189.35 L76.08 185.09 L76.49 180.6 L76.9 176" fill="none" stroke="#2f6fb8" stroke-width="2.1"/>
<line x1="401" y1="175.7" x2="631" y2="175.7" stroke="#222" stroke-width="1.4"/>
<path d="M637 175.7l-7 -3.3v6.6z" fill="#222" stroke="none" stroke-width="1"/>
<text x="645.1" y="182.3" font-size="18.5" font-family="Liberation Serif" textLength="35.8" lengthAdjust="spacingAndGlyphs" fill="#000" stroke="#000" stroke-width="0.3">time</text>
<path d="M487.3 176 L487.63 169.6 L487.96 163.36 L488.29 157.43 L488.62 151.96 L488.95 147.08 L489.28 142.91 L489.61 139.56 L489.94 137.1 L490.27 135.6 L490.6 135.1 L491.4 136.9 L492.2 142.14 L493 150.29 L493.8 160.56 L494.6 171.95 L495.4 183.34 L496.2 193.61 L497 201.76 L497.8 207 L498.6 208.8 L499.4 207.35 L500.2 203.16 L501 196.62 L501.8 188.38 L502.6 179.25 L503.4 170.12 L504.2 161.88 L505 155.34 L505.8 151.15 L506.6 149.7 L507.4 150.88 L508.2 154.3 L509 159.63 L509.8 166.35 L510.6 173.8 L511.4 181.25 L512.2 187.97 L513 193.3 L513.8 196.72 L514.6 197.9 L515.4 196.92 L516.2 194.06 L517 189.61 L517.8 184.01 L518.6 177.8 L519.4 171.59 L520.2 165.99 L521 161.54 L521.8 158.68 L522.6 157.7 L523.41 158.51 L524.22 160.84 L525.03 164.48 L525.84 169.07 L526.65 174.15 L527.46 179.23 L528.27 183.82 L529.08 187.46 L529.89 189.79 L530.7 190.6 L531.5 189.95 L532.3 188.05 L533.1 185.1 L533.9 181.38 L534.7 177.25 L535.5 173.12 L536.3 169.4 L537.1 166.45 L537.9 164.55 L538.7 163.9 L539.5 164.43 L540.3 165.96 L541.1 168.35 L541.9 171.36 L542.7 174.7 L543.5 178.04 L544.3 181.05 L545.1 183.44 L545.9 184.97 L546.7 185.5 L547.5 185.08 L548.3 183.85 L549.1 181.93 L549.9 179.52 L550.7 176.85 L551.5 174.18 L552.3 171.77 L553.1 169.85 L553.9 168.62 L554.7 168.2 L555.51 168.55 L556.32 169.58 L557.13 171.17 L557.94 173.18 L558.75 175.4 L559.56 177.62 L560.37 179.63 L561.18 181.22 L561.99 182.25 L562.8 182.6 L563.64 182.31 L564.48 181.45 L565.32 180.13 L566.16 178.45 L567 176.6 L567.84 174.75 L568.68 173.07 L569.52 171.75 L570.36 170.89 L571.2 170.6 L571.96 170.83 L572.72 171.5 L573.48 172.54 L574.24 173.85 L575 175.3 L575.76 176.75 L576.52 178.06 L577.28 179.1 L578.04 179.77 L578.8 180 L579.65 179.81 L580.5 179.26 L581.35 178.41 L582.2 177.34 L583.05 176.15 L583.9 174.96 L584.75 173.89 L585.6 173.04 L586.45 172.49 L587.3 172.3 L588.07 172.35 L588.84 172.48 L589.61 172.7 L590.38 173.01 L591.15 173.38 L591.92 173.83 L592.69 174.32 L593.46 174.86 L594.23 175.42 L595 176" fill="none" stroke="#63c2e6" stroke-width="1.7" stroke-dasharray="4 2.6"/>
<path d="M487.3 176 L487.66 174.06 L488.02 172.17 L488.38 170.37 L488.74 168.71 L489.1 167.23 L489.46 165.97 L489.82 164.95 L490.18 164.21 L490.54 163.75 L490.9 163.6 L491.7 164.15 L492.5 165.73 L493.3 168.2 L494.1 171.3 L494.9 174.75 L495.7 178.2 L496.5 181.3 L497.3 183.77 L498.1 185.35 L498.9 185.9 L499.71 185.45 L500.52 184.16 L501.33 182.15 L502.14 179.61 L502.95 176.8 L503.76 173.99 L504.57 171.45 L505.38 169.44 L506.19 168.15 L507 167.7 L507.83 168.06 L508.66 169.12 L509.49 170.77 L510.32 172.85 L511.15 175.15 L511.98 177.45 L512.81 179.53 L513.64 181.18 L514.47 182.24 L515.3 182.6 L516.08 182.29 L516.86 181.41 L517.64 180.02 L518.42 178.28 L519.2 176.35 L519.98 174.42 L520.76 172.68 L521.54 171.29 L522.32 170.41 L523.1 170.1 L523.93 170.35 L524.76 171.08 L525.59 172.22 L526.42 173.66 L527.25 175.25 L528.08 176.84 L528.91 178.28 L529.74 179.42 L530.57 180.15 L531.4 180.4 L532.17 180.2 L532.94 179.63 L533.71 178.73 L534.48 177.6 L535.25 176.35 L536.02 175.1 L536.79 173.97 L537.56 173.07 L538.33 172.5 L539.1 172.3 L539.93 172.46 L540.76 172.93 L541.59 173.66 L542.42 174.58 L543.25 175.6 L544.08 176.62 L544.91 177.54 L545.74 178.27 L546.57 178.74 L547.4 178.9 L548.18 178.77 L548.96 178.38 L549.74 177.79 L550.52 177.03 L551.3 176.2 L552.08 175.37 L552.86 174.61 L553.64 174.02 L554.42 173.63 L555.2 173.5 L556.03 173.61 L556.86 173.92 L557.69 174.41 L558.52 175.02 L559.35 175.7 L560.18 176.38 L561.01 176.99 L561.84 177.48 L562.67 177.79 L563.5 177.9 L564.3 177.82 L565.1 177.58 L565.9 177.2 L566.7 176.73 L567.5 176.2 L568.3 175.67 L569.1 175.2 L569.9 174.82 L570.7 174.58 L571.5 174.5 L572.3 174.56 L573.1 174.74 L573.9 175.02 L574.7 175.36 L575.5 175.75 L576.3 176.14 L577.1 176.48 L577.9 176.76 L578.7 176.94 L579.5 177 L580.25 176.95 L581 176.81 L581.75 176.59 L582.5 176.31 L583.25 176 L584 175.69 L584.75 175.41 L585.5 175.19 L586.25 175.05 L587 175 L587.5 175.01 L588 175.05 L588.5 175.11 L589 175.19 L589.5 175.29 L590 175.41 L590.5 175.55 L591 175.69 L591.5 175.84 L592 176" fill="none" stroke="#e51c1c" stroke-width="2.1"/>
<path d="M424.5 176 L424.89 170.52 L425.28 165.18 L425.67 160.11 L426.06 155.43 L426.45 151.25 L426.84 147.68 L427.23 144.81 L427.62 142.71 L428.01 141.43 L428.4 141 L429.21 142.56 L430.02 147.08 L430.83 154.13 L431.64 163.01 L432.45 172.85 L433.26 182.69 L434.07 191.57 L434.88 198.62 L435.69 203.14 L436.5 204.7 L437.31 203.42 L438.12 199.69 L438.93 193.88 L439.74 186.56 L440.55 178.45 L441.36 170.34 L442.17 163.02 L442.98 157.21 L443.79 153.48 L444.6 152.2 L445.41 153.24 L446.22 156.26 L447.03 160.96 L447.84 166.88 L448.65 173.45 L449.46 180.02 L450.27 185.94 L451.08 190.64 L451.89 193.66 L452.7 194.7 L453.5 193.85 L454.3 191.38 L455.1 187.53 L455.9 182.68 L456.7 177.3 L457.5 171.92 L458.3 167.07 L459.1 163.22 L459.9 160.75 L460.7 159.9 L461.5 160.6 L462.3 162.65 L463.1 165.84 L463.9 169.85 L464.7 174.3 L465.5 178.75 L466.3 182.76 L467.1 185.95 L467.9 188 L468.7 188.7 L469.51 188.12 L470.32 186.44 L471.13 183.82 L471.94 180.51 L472.75 176.85 L473.56 173.19 L474.37 169.88 L475.18 167.26 L475.99 165.58 L476.8 165 L477.6 165.47 L478.4 166.84 L479.2 168.98 L480 171.67 L480.8 174.65 L481.6 177.63 L482.4 180.32 L483.2 182.46 L484 183.83 L484.8 184.3 L485.05 184.2 L485.3 183.89 L485.55 183.4 L485.8 182.71 L486.05 181.87 L486.3 180.88 L486.55 179.77 L486.8 178.56 L487.05 177.3 L487.3 176" fill="none" stroke="#2f6fb8" stroke-width="2.1"/></svg>
</body></html>
